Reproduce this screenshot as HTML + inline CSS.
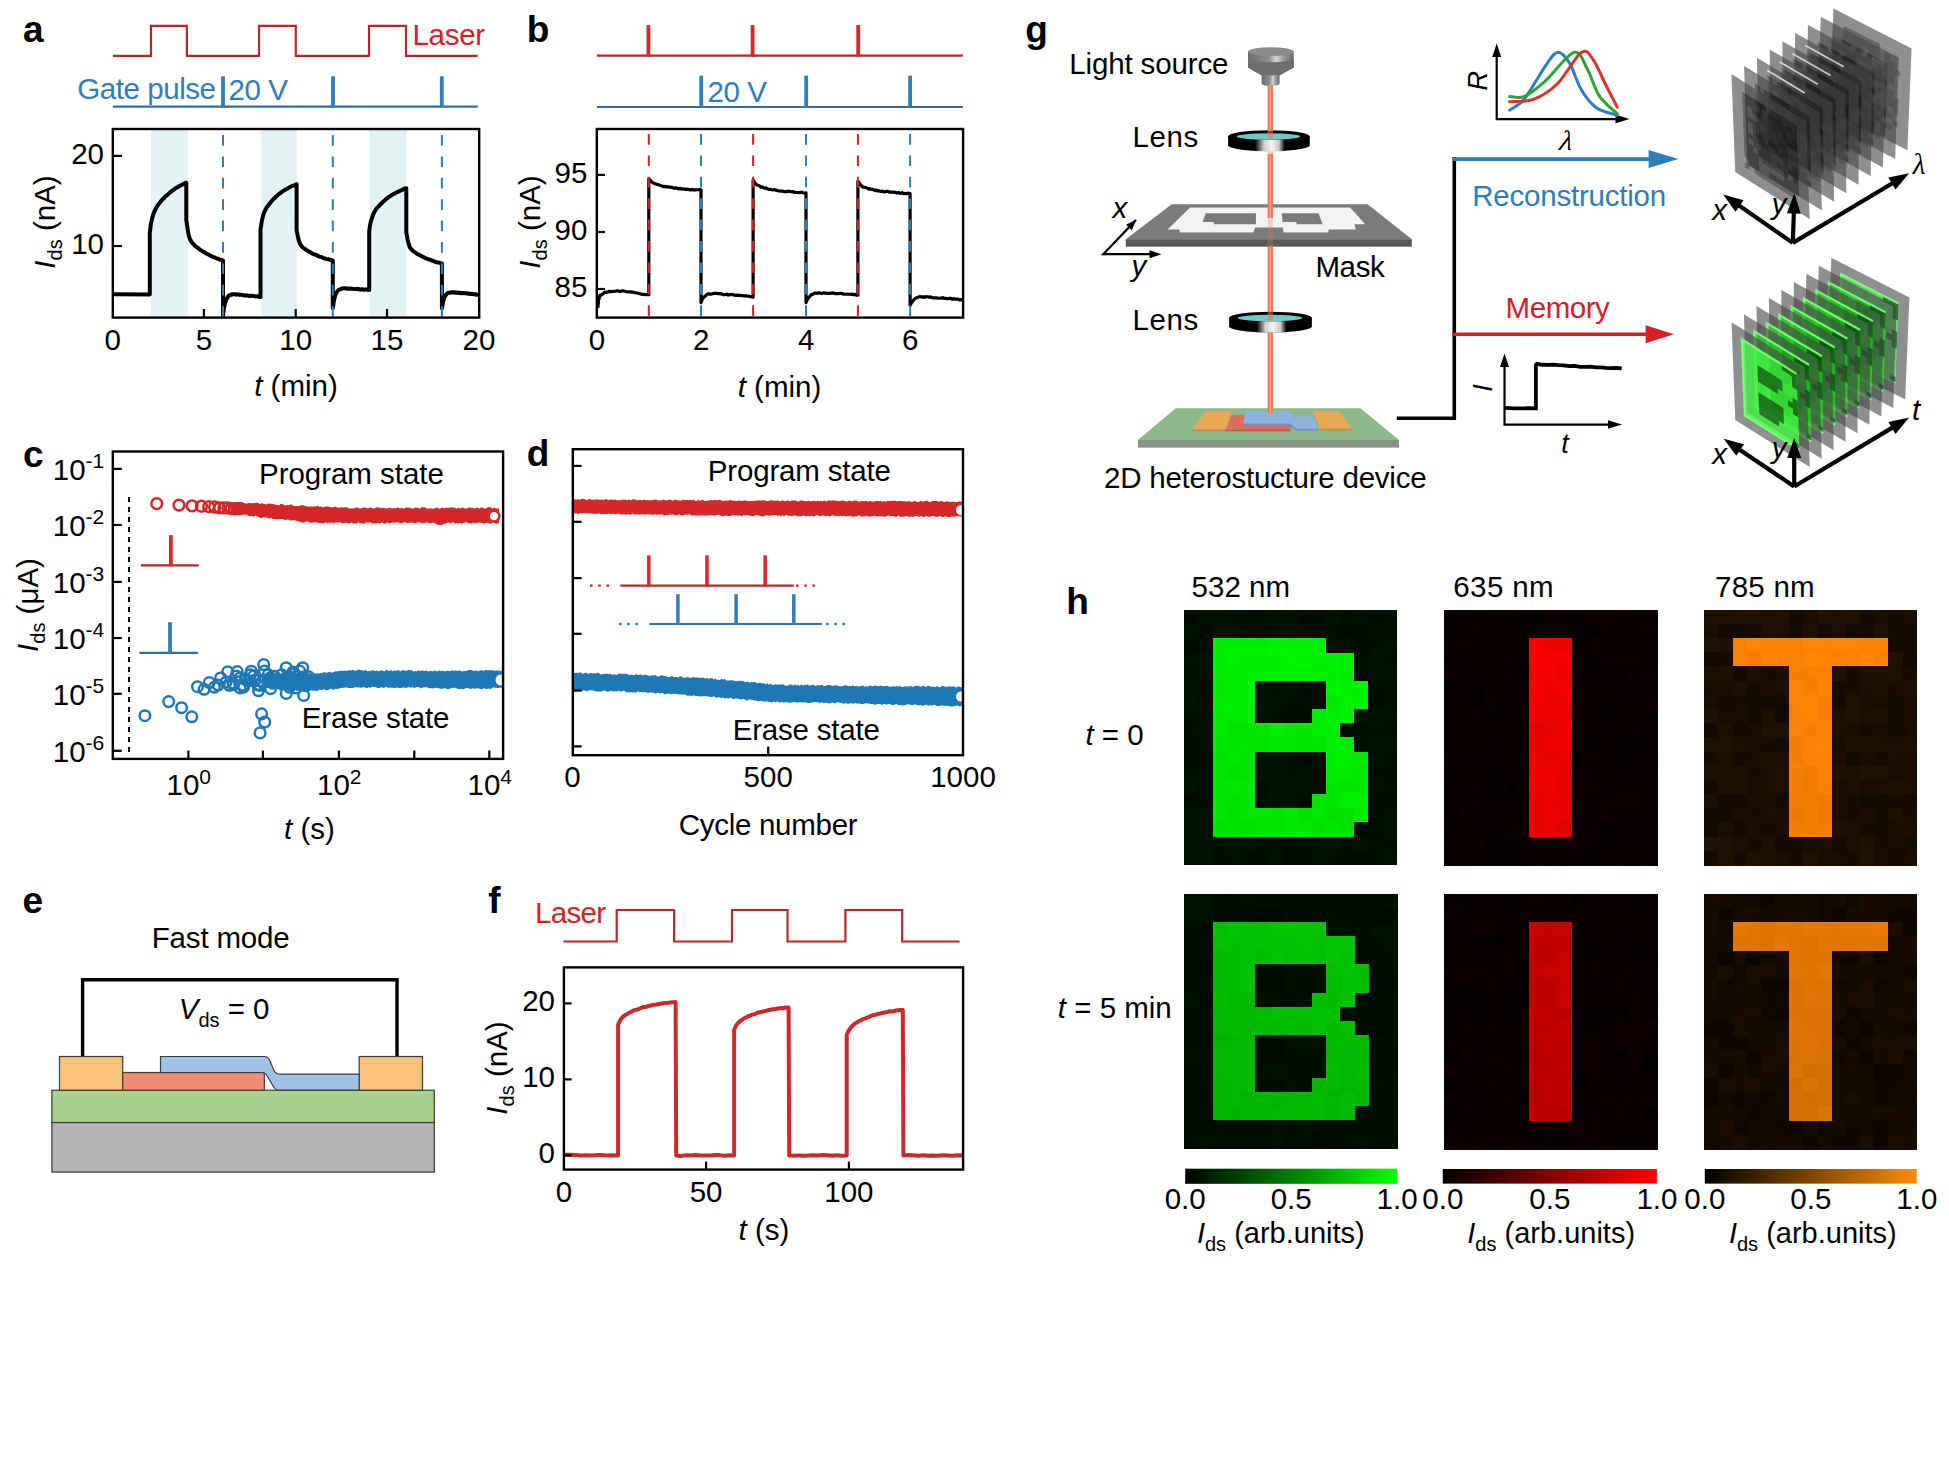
<!DOCTYPE html>
<html><head><meta charset="utf-8"><style>
html,body{margin:0;padding:0;background:#fff;}
svg{display:block;font-family:"Liberation Sans",sans-serif;}
</style></head><body>
<svg width="1949" height="1472" viewBox="0 0 1949 1472">
<rect width="1949" height="1472" fill="#fff"/>
<defs>
<linearGradient id="metal" x1="0" x2="1" y1="0" y2="0"><stop offset="0" stop-color="#6a6a6a"/><stop offset="0.45" stop-color="#8e8e8e"/><stop offset="0.62" stop-color="#d6d6d6"/><stop offset="0.78" stop-color="#9a9a9a"/><stop offset="1" stop-color="#6c6c6c"/></linearGradient>
<linearGradient id="lensHi" x1="0" x2="1" y1="0" y2="0"><stop offset="0" stop-color="#000"/><stop offset="0.3" stop-color="#cfcfcf"/><stop offset="0.55" stop-color="#f4f4f4"/><stop offset="0.8" stop-color="#c8c8c8"/><stop offset="1" stop-color="#000"/></linearGradient>
<linearGradient id="devside" x1="0" x2="0" y1="0" y2="1"><stop offset="0" stop-color="#7C9C7A"/><stop offset="1" stop-color="#8E8E8E"/></linearGradient>
<linearGradient id="cbG" x1="0" x2="1"><stop offset="0" stop-color="#000"/><stop offset="1" stop-color="#00FF00"/></linearGradient>
<linearGradient id="cbR" x1="0" x2="1"><stop offset="0" stop-color="#000"/><stop offset="1" stop-color="#FF0000"/></linearGradient>
<linearGradient id="cbO" x1="0" x2="1"><stop offset="0" stop-color="#000"/><stop offset="1" stop-color="#FF8C00"/></linearGradient>
</defs>
<text x="22.92" y="41.8" font-size="37" fill="#000" font-weight="bold">a</text>
<path d="M112.9 55.8 L151 55.8 L151 25.9 L186.9 25.9 L186.9 55.8 L259 55.8 L259 25.9 L295.8 25.9 L295.8 55.8 L369 55.8 L369 25.9 L406 25.9 L406 55.8 L477.7 55.8" fill="none" stroke="#AE2A2F" stroke-width="2.2" stroke-linejoin="miter"/>
<text x="412.4" y="44.9" font-size="29.5" fill="#D42027" textLength="72.7" lengthAdjust="spacing">Laser</text>
<path d="M112.9 106.7 L477.7 106.7" stroke="#306FA6" stroke-width="2.2"/>
<path d="M223 76.3 L223 107.8" stroke="#2F7DB9" stroke-width="3.8"/>
<path d="M333 76.3 L333 107.8" stroke="#2F7DB9" stroke-width="3.8"/>
<path d="M441.8 76.3 L441.8 107.8" stroke="#2F7DB9" stroke-width="3.8"/>
<text x="77.2" y="98.8" font-size="29.5" fill="#2F7DB9" textLength="138.8" lengthAdjust="spacing">Gate pulse</text>
<text x="228.5" y="99.9" font-size="29.5" fill="#2F7DB9" textLength="59.5" lengthAdjust="spacing">20 V</text>
<rect x="151.1" y="130.2" width="36.6" height="186.2" fill="#E1F3F3"/>
<rect x="261.2" y="130.2" width="35.6" height="186.2" fill="#E1F3F3"/>
<rect x="369.6" y="130.2" width="36.7" height="186.2" fill="#E1F3F3"/>
<path d="M113.5 294.3 L149.8 294.6 L149.8 294.6 L149.8 232.7 L150.81 224.8 L151.83 219.37 L152.84 215.78 L153.86 212.58 L154.87 210.49 L155.88 208.46 L156.9 206.61 L157.91 205.3 L158.93 203.66 L159.94 202.55 L160.95 201.13 L161.97 199.96 L162.98 199.01 L163.99 198.14 L165.01 196.76 L166.02 195.83 L167.04 195.09 L168.05 194.34 L169.06 193.29 L170.08 192.36 L171.09 191.85 L172.11 190.62 L173.12 190.29 L174.13 189.29 L175.15 188.54 L176.16 187.87 L177.18 187.34 L178.19 186.99 L179.2 186.1 L180.22 185.74 L181.23 185.24 L182.24 184.59 L183.26 184.19 L184.27 183.47 L185.29 183.02 L186.3 182.8 L186.3 219.9 L187.71 229.57 L188.72 235.33 L189.73 238.5 L190.73 240.6 L191.74 242.29 L192.75 243.45 L193.76 244.43 L194.77 245.61 L195.78 246.44 L196.78 247.04 L197.79 247.99 L198.8 248.71 L199.81 249.61 L200.82 250.24 L201.83 250.69 L202.83 251.68 L203.84 251.87 L204.85 252.63 L205.86 253.38 L206.87 253.63 L207.88 254.34 L208.88 254.64 L209.89 255.46 L210.9 255.99 L211.91 256.36 L212.92 256.97 L213.93 257.12 L214.93 257.73 L215.94 258.09 L216.95 258.47 L217.96 258.78 L218.97 259.34 L219.97 259.74 L220.98 259.85 L221.99 260.27 L223 260.5 L223 315.4 L223.94 308.23 L224.88 303.9 L225.81 300.65 L226.75 298.68 L227.69 297.12 L228.62 295.82 L229.56 295.24 L230.5 295 L231.44 294.36 L232.38 294.48 L233.31 294.24 L234.25 294.19 L235.19 294.17 L236.12 294.64 L237.06 294.32 L238 294.46 L238.94 294.63 L239.88 295 L240.81 294.62 L241.75 294.93 L242.69 295.09 L243.62 295.38 L244.56 295.44 L245.5 295.56 L246.44 295.31 L247.38 295.49 L248.31 295.55 L249.25 295.96 L250.19 296.1 L251.12 295.72 L252.06 295.83 L253 295.96 L253.94 296.06 L254.88 296.31 L255.81 296.47 L256.75 296.37 L257.69 296.31 L258.62 296.66 L259.56 296.72 L260.5 296.94 L260.5 296.9 L260.5 229.8 L261.5 222.93 L262.51 217.92 L263.51 214.32 L264.51 211.71 L265.51 209.61 L266.52 207.52 L267.52 206.39 L268.52 204.93 L269.52 203.7 L270.53 202.46 L271.53 201.13 L272.53 200.06 L273.54 198.89 L274.54 198.17 L275.54 196.95 L276.54 196.05 L277.55 195.26 L278.55 194.41 L279.55 193.71 L280.56 192.8 L281.56 192.04 L282.56 191.41 L283.56 190.71 L284.57 190.19 L285.57 189.4 L286.57 189.23 L287.58 188.52 L288.58 187.73 L289.58 187.25 L290.58 186.79 L291.59 186.31 L292.59 185.72 L293.59 185.63 L294.59 185.27 L295.6 184.58 L296.6 184.2 L296.6 229.8 L297.99 237.17 L298.99 241.15 L299.98 243.67 L300.98 245.43 L301.97 246.57 L302.97 247.79 L303.96 248.25 L304.96 248.89 L305.95 250.02 L306.94 250.42 L307.94 250.83 L308.93 251.59 L309.93 251.88 L310.92 252.65 L311.92 253.39 L312.91 253.82 L313.91 254.2 L314.9 254.44 L315.89 254.93 L316.89 255.26 L317.88 255.97 L318.88 256.24 L319.87 256.75 L320.87 256.89 L321.86 257.19 L322.86 257.83 L323.85 258.24 L324.84 258.5 L325.84 258.78 L326.83 259.08 L327.83 259.33 L328.82 259.35 L329.82 259.76 L330.81 259.94 L331.81 260.02 L332.8 260.5 L332.8 308.3 L333.71 301.73 L334.62 297.53 L335.53 294.51 L336.44 292.7 L337.35 291.43 L338.26 290.16 L339.17 289.79 L340.08 289.38 L340.99 289.08 L341.9 288.54 L342.81 288.34 L343.72 288.29 L344.63 288.25 L345.54 288.25 L346.45 288.53 L347.36 288.72 L348.27 288.72 L349.18 288.55 L350.09 288.7 L351 288.84 L351.91 288.47 L352.82 288.87 L353.73 289.07 L354.64 289.05 L355.55 289.09 L356.46 288.98 L357.37 288.86 L358.28 289.28 L359.19 289.07 L360.1 289.41 L361.01 289.57 L361.92 289.28 L362.83 289.34 L363.74 289.72 L364.65 289.65 L365.56 289.37 L366.47 289.4 L367.38 289.48 L368.29 289.99 L369.2 289.98 L369.2 289.8 L369.2 231.3 L370.23 224.32 L371.26 220.03 L372.29 216.79 L373.32 214.13 L374.35 211.98 L375.38 210.4 L376.41 208.72 L377.44 207.34 L378.48 206.61 L379.51 205.31 L380.54 204.18 L381.57 203.36 L382.6 202.14 L383.63 201.43 L384.66 200.52 L385.69 199.37 L386.72 198.57 L387.75 197.81 L388.78 197.04 L389.81 196.49 L390.84 195.64 L391.87 195.06 L392.9 194.28 L393.93 194.06 L394.96 193.19 L395.99 192.68 L397.02 192.21 L398.06 191.85 L399.09 191.11 L400.12 190.89 L401.15 190.22 L402.18 189.8 L403.21 189.37 L404.24 188.72 L405.27 188.54 L406.3 188.2 L406.3 232.7 L407.68 239.86 L408.66 243.95 L409.63 246.88 L410.61 248.23 L411.59 249.57 L412.57 250.63 L413.54 251.35 L414.52 251.94 L415.5 252.7 L416.48 253.33 L417.46 254.04 L418.43 254.26 L419.41 255.03 L420.39 255.4 L421.37 255.92 L422.34 256.65 L423.32 256.99 L424.3 257.47 L425.28 258.01 L426.26 258.51 L427.23 258.68 L428.21 259.16 L429.19 259.49 L430.17 259.86 L431.14 260.31 L432.12 260.53 L433.1 260.9 L434.08 261.19 L435.06 261.73 L436.03 261.91 L437.01 262.29 L437.99 262.6 L438.97 262.53 L439.94 262.94 L440.92 263.38 L441.9 263.4 L441.9 308.3 L442.81 303.32 L443.72 299.32 L444.63 296.86 L445.54 295.37 L446.45 294.01 L447.36 293.35 L448.27 292.74 L449.18 292.78 L450.09 292.66 L451 292.62 L451.91 292.13 L452.82 292.46 L453.73 292.45 L454.64 292.19 L455.55 292.69 L456.46 292.81 L457.37 292.44 L458.28 292.96 L459.19 292.71 L460.1 292.85 L461.01 293.24 L461.92 293.24 L462.83 292.93 L463.74 293.18 L464.65 293.32 L465.56 293.31 L466.47 293.32 L467.38 293.48 L468.29 293.82 L469.2 293.49 L470.11 293.9 L471.02 293.92 L471.93 293.76 L472.84 294.04 L473.75 294.31 L474.66 294.34 L475.57 294.16 L476.48 294.81 L477.39 294.78 L478.3 294.98" fill="none" stroke="#000" stroke-width="4" stroke-linejoin="round"/>
<path d="M223 135 L223 317" stroke="#2F7DB9" stroke-width="2" stroke-dasharray="10.7 10.7"/>
<path d="M332.8 135 L332.8 317" stroke="#2F7DB9" stroke-width="2" stroke-dasharray="10.7 10.7"/>
<path d="M441.9 135 L441.9 317" stroke="#2F7DB9" stroke-width="2" stroke-dasharray="10.7 10.7"/>
<rect x="112.8" y="129" width="366.4" height="188.6" fill="none" stroke="#000" stroke-width="2.4"/>
<path d="M112.8 155.9 L121.9 155.9" stroke="#000" stroke-width="2.2"/>
<text x="104" y="163.9" font-size="29.5" fill="#000" text-anchor="end">20</text>
<path d="M112.8 246 L121.9 246" stroke="#000" stroke-width="2.2"/>
<text x="104" y="254" font-size="29.5" fill="#000" text-anchor="end">10</text>
<text x="112.8" y="349.6" font-size="29.5" fill="#000" text-anchor="middle">0</text>
<path d="M203.9 317.6 L203.9 309" stroke="#000" stroke-width="2.2"/>
<text x="203.9" y="349.6" font-size="29.5" fill="#000" text-anchor="middle">5</text>
<path d="M295.7 317.6 L295.7 309" stroke="#000" stroke-width="2.2"/>
<text x="295.7" y="349.6" font-size="29.5" fill="#000" text-anchor="middle">10</text>
<path d="M387 317.6 L387 309" stroke="#000" stroke-width="2.2"/>
<text x="387" y="349.6" font-size="29.5" fill="#000" text-anchor="middle">15</text>
<text x="479" y="349.6" font-size="29.5" fill="#000" text-anchor="middle">20</text>
<text x="296" y="396" font-size="29.5" text-anchor="middle"><tspan font-style="italic">t</tspan> (min)</text>
<g transform="translate(54.5 222) rotate(-90)">
<text x="0" y="0" font-size="29.5" text-anchor="middle"><tspan font-style="italic">I</tspan><tspan font-size="20" dy="7">ds</tspan><tspan dy="-7"> (nA)</tspan></text>
</g>
<text x="526.86" y="41.5" font-size="37" fill="#000" font-weight="bold">b</text>
<path d="M597 55.7 L962.9 55.7" stroke="#AE2A2F" stroke-width="2.2"/>
<path d="M648.4 25.1 L648.4 56.8" stroke="#CF2A30" stroke-width="3.8"/>
<path d="M752.6 25.1 L752.6 56.8" stroke="#CF2A30" stroke-width="3.8"/>
<path d="M858.2 25.1 L858.2 56.8" stroke="#CF2A30" stroke-width="3.8"/>
<path d="M597 107 L962.9 107" stroke="#306FA6" stroke-width="2.2"/>
<path d="M701.2 75.6 L701.2 108" stroke="#2F7DB9" stroke-width="3.8"/>
<path d="M806.2 75.6 L806.2 108" stroke="#2F7DB9" stroke-width="3.8"/>
<path d="M910.1 75.6 L910.1 108" stroke="#2F7DB9" stroke-width="3.8"/>
<text x="707.5" y="102.2" font-size="29.5" fill="#2F7DB9" textLength="59.5" lengthAdjust="spacing">20 V</text>
<path d="M597.8 307.9 L597.96 306.41 L598.12 304.52 L598.28 303.6 L598.44 301.43 L598.6 299.63 L598.88 299.02 L599.16 298.61 L599.44 297.62 L599.72 296.16 L600 295.15 L601 295.32 L602 294.37 L603 293.9 L604 292.69 L605 292.06 L606.28 292.43 L607.56 291.91 L608.84 291.29 L610.12 291.9 L611.4 291.33 L614.26 291.5 L617.12 290.78 L619.98 291.56 L622.84 290.77 L625.7 291.56 L629.96 291.85 L634.22 292.44 L638.48 293.35 L642.74 294.43 L647 294.7 L648.8 294.7 L648.8 178.5 L650.1 180.17 L651.41 181.39 L652.71 182.78 L654.02 183.26 L655.32 183.73 L656.63 184.28 L657.93 184.59 L659.24 185.1 L660.54 185.54 L661.85 185.83 L663.15 186.55 L664.46 186.34 L665.76 186.78 L667.07 186.68 L668.38 187.06 L669.68 186.92 L670.99 187.34 L672.29 187.28 L673.6 188.17 L674.9 188.14 L676.2 187.93 L677.51 188.36 L678.81 188.95 L680.12 188.25 L681.42 189.09 L682.73 188.82 L684.03 188.99 L685.34 189.43 L686.64 189.09 L687.95 189.3 L689.25 189.57 L690.56 189.95 L691.87 189.39 L693.17 189.95 L694.48 189.9 L695.78 189.9 L697.09 189.73 L698.39 189.73 L699.7 189.5 L701 190 L701 302.6 L702.3 299.32 L703.61 297.21 L704.91 296.46 L706.21 294.99 L707.51 294.24 L708.82 293.72 L710.12 294.2 L711.42 294.06 L712.72 293.78 L714.02 293.37 L715.33 293.35 L716.63 293.45 L717.93 293.68 L719.24 293.47 L720.54 293.85 L721.84 293.77 L723.14 294.58 L724.45 294.7 L725.75 294.39 L727.05 294.21 L728.35 295.05 L729.65 294.51 L730.96 294.68 L732.26 294.44 L733.56 294.95 L734.87 295.16 L736.17 295.31 L737.47 295.13 L738.77 295.56 L740.08 295.18 L741.38 295.56 L742.68 295.51 L743.98 295.94 L745.28 295.71 L746.59 295.81 L747.89 296.21 L749.19 296.27 L750.5 296.74 L751.8 296.81 L753.1 297.15 L753.1 296.9 L753.1 179.9 L754.42 182.21 L755.75 183.79 L757.07 185.08 L758.39 185.45 L759.71 186.06 L761.03 187.27 L762.36 186.91 L763.68 187.89 L765 188.17 L766.33 187.9 L767.65 189 L768.97 189.34 L770.29 189.34 L771.62 189.69 L772.94 190 L774.26 189.55 L775.58 190.14 L776.9 190.32 L778.23 190.84 L779.55 190.98 L780.87 191.17 L782.2 191.09 L783.52 191.55 L784.84 191.48 L786.16 191.63 L787.49 191.29 L788.81 191.22 L790.13 191.43 L791.45 191.77 L792.77 191.62 L794.1 192.45 L795.42 192.26 L796.74 192.42 L798.07 192.51 L799.39 192.64 L800.71 192.52 L802.03 192.11 L803.36 192.97 L804.68 192.99 L806 192.8 L806 302.6 L807.3 299.69 L808.6 297.64 L809.89 296.29 L811.19 294.66 L812.49 294.6 L813.78 293.61 L815.08 293.09 L816.38 293.06 L817.68 293.38 L818.98 292.77 L820.27 293.26 L821.57 293.49 L822.87 293.01 L824.16 292.93 L825.46 293.07 L826.76 293.32 L828.06 293.45 L829.36 293.36 L830.65 293.44 L831.95 292.94 L833.25 293.08 L834.54 293.25 L835.84 293.8 L837.14 293.43 L838.44 293.76 L839.74 293.27 L841.03 293.38 L842.33 293.66 L843.63 294.13 L844.92 294.22 L846.22 294.27 L847.52 293.95 L848.82 294.24 L850.12 294.26 L851.41 294.33 L852.71 294.05 L854.01 294.89 L855.3 294.26 L856.6 295.11 L857.9 295.14 L857.9 294.7 L857.9 181.3 L859.2 182.83 L860.51 184.71 L861.81 186.14 L863.12 187.09 L864.42 187.22 L865.73 187.56 L867.03 187.95 L868.34 189.07 L869.64 188.68 L870.95 189.36 L872.25 189.21 L873.56 189.86 L874.87 190.54 L876.17 189.95 L877.48 190.86 L878.78 190.76 L880.09 191.33 L881.39 191.34 L882.7 191.04 L884 191.87 L885.3 191.62 L886.61 191.31 L887.91 191.43 L889.22 192.06 L890.52 192.15 L891.83 192.12 L893.13 192.07 L894.44 192.39 L895.75 192.46 L897.05 193.09 L898.36 192.34 L899.66 193.18 L900.97 193.35 L902.27 192.72 L903.58 193.6 L904.88 193.46 L906.19 193.72 L907.49 193.17 L908.8 193.31 L910.1 193.5 L910.1 305.5 L911.41 302.63 L912.73 301.29 L914.04 299.52 L915.35 298.36 L916.66 297.79 L917.98 297.21 L919.29 296.72 L920.6 296.61 L921.91 297.25 L923.23 296.67 L924.54 297.33 L925.85 296.68 L927.16 296.75 L928.48 297.07 L929.79 296.83 L931.1 297.1 L932.41 297.77 L933.73 297.8 L935.04 297.82 L936.35 297.74 L937.66 298.13 L938.98 298.26 L940.29 297.97 L941.6 298.24 L942.91 297.68 L944.23 298.46 L945.54 298.29 L946.85 298.69 L948.16 298.69 L949.48 298.44 L950.79 298.3 L952.1 299.29 L953.41 298.59 L954.73 299.04 L956.04 299.02 L957.35 299.08 L958.66 299.62 L959.98 299.97 L961.29 299.36 L962.6 299.86" fill="none" stroke="#000" stroke-width="3.2" stroke-linejoin="round"/>
<path d="M648.8 134 L648.8 317" stroke="#D42027" stroke-width="2" stroke-dasharray="10.7 10.7"/>
<path d="M701 134 L701 317" stroke="#2F7DB9" stroke-width="2" stroke-dasharray="10.7 10.7"/>
<path d="M753.1 134 L753.1 317" stroke="#D42027" stroke-width="2" stroke-dasharray="10.7 10.7"/>
<path d="M806 134 L806 317" stroke="#2F7DB9" stroke-width="2" stroke-dasharray="10.7 10.7"/>
<path d="M857.9 134 L857.9 317" stroke="#D42027" stroke-width="2" stroke-dasharray="10.7 10.7"/>
<path d="M910.1 134 L910.1 317" stroke="#2F7DB9" stroke-width="2" stroke-dasharray="10.7 10.7"/>
<rect x="596.8" y="129" width="366.3" height="188.6" fill="none" stroke="#000" stroke-width="2.4"/>
<path d="M596.8 174.9 L605 174.9" stroke="#000" stroke-width="2.2"/>
<text x="587.3" y="182.9" font-size="29.5" fill="#000" text-anchor="end">95</text>
<path d="M596.8 232 L605 232" stroke="#000" stroke-width="2.2"/>
<text x="587.3" y="240" font-size="29.5" fill="#000" text-anchor="end">90</text>
<path d="M596.8 289 L605 289" stroke="#000" stroke-width="2.2"/>
<text x="587.3" y="297" font-size="29.5" fill="#000" text-anchor="end">85</text>
<text x="597" y="349.6" font-size="29.5" fill="#000" text-anchor="middle">0</text>
<text x="701.2" y="349.6" font-size="29.5" fill="#000" text-anchor="middle">2</text>
<text x="806.2" y="349.6" font-size="29.5" fill="#000" text-anchor="middle">4</text>
<text x="910.1" y="349.6" font-size="29.5" fill="#000" text-anchor="middle">6</text>
<text x="779.5" y="396.7" font-size="29.5" text-anchor="middle"><tspan font-style="italic">t</tspan> (min)</text>
<g transform="translate(539.5 222) rotate(-90)">
<text x="0" y="0" font-size="29.5" text-anchor="middle"><tspan font-style="italic">I</tspan><tspan font-size="20" dy="7">ds</tspan><tspan dy="-7"> (nA)</tspan></text>
</g>
<text x="23.05" y="466.6" font-size="37" fill="#000" font-weight="bold">c</text>
<circle cx="156.76" cy="503.63" r="5.4" fill="none" stroke="#D62728" stroke-width="2.5"/>
<circle cx="178.99" cy="505.17" r="5.4" fill="none" stroke="#D62728" stroke-width="2.5"/>
<circle cx="192.11" cy="505.82" r="5.4" fill="none" stroke="#D62728" stroke-width="2.5"/>
<circle cx="201.44" cy="506.2" r="5.4" fill="none" stroke="#D62728" stroke-width="2.5"/>
<circle cx="208.69" cy="506.63" r="5.4" fill="none" stroke="#D62728" stroke-width="2.5"/>
<circle cx="214.63" cy="507.02" r="5.4" fill="none" stroke="#D62728" stroke-width="2.5"/>
<circle cx="219.65" cy="507.88" r="5.4" fill="none" stroke="#D62728" stroke-width="2.5"/>
<circle cx="224" cy="507.82" r="5.4" fill="none" stroke="#D62728" stroke-width="2.5"/>
<circle cx="227.84" cy="507.83" r="5.4" fill="none" stroke="#D62728" stroke-width="2.5"/>
<circle cx="231.27" cy="508.58" r="5.4" fill="none" stroke="#D62728" stroke-width="2.5"/>
<circle cx="234.38" cy="508.84" r="5.4" fill="none" stroke="#D62728" stroke-width="2.5"/>
<circle cx="237.22" cy="508.57" r="5.4" fill="none" stroke="#D62728" stroke-width="2.5"/>
<circle cx="239.83" cy="508.48" r="5.4" fill="none" stroke="#D62728" stroke-width="2.5"/>
<path d="M234 502.01 L235.62 501.91 L237.25 502.37 L238.88 502.03 L240.5 502.33 L242.12 502.43 L243.75 502.99 L245.38 503.56 L247 503.4 L248.62 502.92 L250.25 502.99 L251.88 503.23 L253.5 503.05 L255.12 503.05 L256.75 502.67 L258.38 503.08 L260 504.25 L261.61 502.99 L263.23 503.68 L264.84 503.97 L266.45 504.43 L268.06 503.48 L269.68 503.66 L271.29 503.71 L272.9 504.04 L274.52 504.2 L276.13 505.1 L277.74 505.02 L279.35 505.14 L280.97 503.87 L282.58 503.97 L284.19 505.14 L285.81 505.53 L287.42 504.94 L289.03 505.21 L290.65 504.36 L292.26 505.07 L293.87 506.01 L295.48 505.94 L297.1 506.07 L298.71 506.35 L300.32 505.27 L301.94 505.14 L303.55 505.3 L305.16 505.97 L306.77 506.32 L308.39 506.82 L310 506.55 L311.6 506.51 L313.2 506.77 L314.8 506.35 L316.4 506.57 L318 505.82 L319.6 507.08 L321.2 506.28 L322.8 507.45 L324.4 507.08 L326 506.61 L327.6 506.4 L329.2 506.67 L330.8 507.35 L332.4 507.53 L334 506.66 L335.6 506.66 L337.2 507.46 L338.8 507.63 L340.4 507.39 L342 507.2 L343.6 507.87 L345.2 507 L346.8 507.54 L348.4 507.87 L350 508.73 L351.61 508.23 L353.23 508.61 L354.84 507.96 L356.45 507.58 L358.06 507.6 L359.68 508.74 L361.29 508.33 L362.9 507.69 L364.52 507.23 L366.13 508 L367.74 508.28 L369.35 507.87 L370.97 507.61 L372.58 508.27 L374.19 508.68 L375.81 507.56 L377.42 507.25 L379.03 507.74 L380.65 507.87 L382.26 508.29 L383.87 507.52 L385.48 508.48 L387.1 508.38 L388.71 508.01 L390.32 507.53 L391.94 508.75 L393.55 507.7 L395.16 508.51 L396.77 507.57 L398.39 507.55 L400 508.42 L401.62 507.67 L403.25 508.72 L404.87 507.99 L406.49 507.5 L408.11 507.56 L409.74 507.87 L411.36 508.26 L412.98 508.72 L414.61 507.43 L416.23 507.83 L417.85 507.54 L419.48 508.76 L421.1 507.43 L422.72 507.28 L424.34 507.3 L425.97 507.83 L427.59 508.64 L429.21 508.61 L430.84 508.37 L432.46 508.8 L434.08 508.69 L435.7 507.73 L437.33 507.5 L438.95 508.7 L440.57 508.39 L442.2 507.25 L443.82 508.26 L445.44 507.81 L447.07 507.8 L448.69 507.73 L450.31 507.47 L451.93 507.2 L453.56 507.65 L455.18 507.76 L456.8 508.73 L458.43 507.4 L460.05 508.74 L461.67 507.53 L463.3 507.77 L464.92 508.51 L466.54 508.52 L468.16 507.89 L469.79 507.28 L471.41 507.96 L473.03 507.8 L474.66 508.67 L476.28 507.51 L477.9 507.78 L479.52 508.64 L481.15 507.25 L482.77 507.86 L484.39 508.5 L486.02 508.43 L487.64 507.27 L489.26 507.26 L490.89 507.3 L492.51 508.67 L494.13 507.61 L495.75 508.4 L497.38 508.64 L499 508 L499 523.1 L497.38 523.86 L495.75 523.81 L494.13 522.5 L492.51 522.61 L490.89 523.84 L489.26 523.58 L487.64 523.07 L486.02 522.46 L484.39 523.77 L482.77 523.12 L481.15 522.74 L479.52 522.51 L477.9 523.09 L476.28 522.87 L474.66 523.27 L473.03 522.42 L471.41 523.73 L469.79 523.3 L468.16 523.15 L466.54 522.29 L464.92 522.53 L463.3 523 L461.67 523.67 L460.05 522.91 L458.43 523.57 L456.8 522.94 L455.18 523.7 L453.56 522.26 L451.93 522.58 L450.31 523.42 L448.69 522.56 L447.07 522.83 L445.44 523.84 L443.82 523.63 L442.2 522.91 L440.57 522.81 L438.95 523.15 L437.33 522.74 L435.7 523.76 L434.08 522.73 L432.46 522.69 L430.84 522.89 L429.21 523.34 L427.59 522.49 L425.97 522.37 L424.34 523.25 L422.72 523.1 L421.1 522.85 L419.48 522.38 L417.85 522.32 L416.23 523.09 L414.61 523.49 L412.98 522.54 L411.36 522.71 L409.74 522.51 L408.11 523.29 L406.49 522.73 L404.87 522.22 L403.25 522.53 L401.62 523.24 L400 523.16 L398.39 522.61 L396.77 522.53 L395.16 522.43 L393.55 522.79 L391.94 522.55 L390.32 523.19 L388.71 523.15 L387.1 522.37 L385.48 523.71 L383.87 523.44 L382.26 522.62 L380.65 522.92 L379.03 523.59 L377.42 522.8 L375.81 523.69 L374.19 523.13 L372.58 523.76 L370.97 522.5 L369.35 522.39 L367.74 522.67 L366.13 522.26 L364.52 523.66 L362.9 523.54 L361.29 523.51 L359.68 522.96 L358.06 522.36 L356.45 523.79 L354.84 523.25 L353.23 523.49 L351.61 522.57 L350 523.01 L348.4 523.77 L346.8 522.8 L345.2 522.67 L343.6 523.06 L342 523.53 L340.4 522.35 L338.8 522.48 L337.2 522.47 L335.6 522.37 L334 523.22 L332.4 522.62 L330.8 522.92 L329.2 522.46 L327.6 523.32 L326 522.15 L324.4 523.01 L322.8 523.28 L321.2 523.11 L319.6 522.97 L318 522.87 L316.4 522.53 L314.8 522.22 L313.2 522.55 L311.6 522.95 L310 522.6 L308.39 521.77 L306.77 521.57 L305.16 521.68 L303.55 522.66 L301.94 522.31 L300.32 522.28 L298.71 521.06 L297.1 521.24 L295.48 520.23 L293.87 520.1 L292.26 520.21 L290.65 520.84 L289.03 519.77 L287.42 519.4 L285.81 520.34 L284.19 519.49 L282.58 519.24 L280.97 519.07 L279.35 519.34 L277.74 519.42 L276.13 519.32 L274.52 519.01 L272.9 518.93 L271.29 517.76 L269.68 518.77 L268.06 517.89 L266.45 517.61 L264.84 517.14 L263.23 517.18 L261.61 517.91 L260 517.73 L258.38 516.74 L256.75 516.14 L255.12 515.58 L253.5 516.83 L251.88 516.12 L250.25 516.35 L248.62 515.88 L247 514.46 L245.38 514.67 L243.75 514.52 L242.12 514.94 L240.5 513.99 L238.88 514.34 L237.25 514.67 L235.62 513.35 L234 513.24 Z" fill="#D62728"/>
<circle cx="440" cy="518.5" r="5.4" fill="none" stroke="#D62728" stroke-width="2.5"/>
<circle cx="494" cy="516.1" r="5.4" fill="#fff" stroke="#D62728" stroke-width="2.5"/>
<circle cx="144.9" cy="715.7" r="5.3" fill="none" stroke="#1F77B4" stroke-width="2.5"/>
<circle cx="168.7" cy="701.6" r="5.3" fill="none" stroke="#1F77B4" stroke-width="2.5"/>
<circle cx="181.6" cy="707.7" r="5.3" fill="none" stroke="#1F77B4" stroke-width="2.5"/>
<circle cx="191.8" cy="716.8" r="5.3" fill="none" stroke="#1F77B4" stroke-width="2.5"/>
<circle cx="197.5" cy="686.7" r="5.3" fill="none" stroke="#1F77B4" stroke-width="2.5"/>
<circle cx="204.1" cy="689.3" r="5.3" fill="none" stroke="#1F77B4" stroke-width="2.5"/>
<circle cx="209.3" cy="682.6" r="5.3" fill="none" stroke="#1F77B4" stroke-width="2.5"/>
<circle cx="214.4" cy="687.2" r="5.3" fill="none" stroke="#1F77B4" stroke-width="2.5"/>
<circle cx="220.6" cy="678" r="5.3" fill="none" stroke="#1F77B4" stroke-width="2.5"/>
<circle cx="218" cy="685" r="5.3" fill="none" stroke="#1F77B4" stroke-width="2.5"/>
<circle cx="227.7" cy="671.8" r="5.3" fill="none" stroke="#1F77B4" stroke-width="2.5"/>
<circle cx="232.9" cy="683.1" r="5.3" fill="none" stroke="#1F77B4" stroke-width="2.5"/>
<circle cx="236" cy="676" r="5.3" fill="none" stroke="#1F77B4" stroke-width="2.5"/>
<circle cx="250.3" cy="674.9" r="5.3" fill="none" stroke="#1F77B4" stroke-width="2.5"/>
<circle cx="243.1" cy="685.2" r="5.3" fill="none" stroke="#1F77B4" stroke-width="2.5"/>
<circle cx="263.7" cy="664.6" r="5.3" fill="none" stroke="#1F77B4" stroke-width="2.5"/>
<circle cx="258.5" cy="690.8" r="5.3" fill="none" stroke="#1F77B4" stroke-width="2.5"/>
<circle cx="261.6" cy="713.9" r="5.3" fill="none" stroke="#1F77B4" stroke-width="2.5"/>
<circle cx="264.7" cy="722.1" r="5.3" fill="none" stroke="#1F77B4" stroke-width="2.5"/>
<circle cx="260.1" cy="732.9" r="5.3" fill="none" stroke="#1F77B4" stroke-width="2.5"/>
<circle cx="286.2" cy="667.7" r="5.3" fill="none" stroke="#1F77B4" stroke-width="2.5"/>
<circle cx="302.7" cy="667.7" r="5.3" fill="none" stroke="#1F77B4" stroke-width="2.5"/>
<circle cx="286.2" cy="693.4" r="5.3" fill="none" stroke="#1F77B4" stroke-width="2.5"/>
<circle cx="303.7" cy="695.4" r="5.3" fill="none" stroke="#1F77B4" stroke-width="2.5"/>
<circle cx="270" cy="678" r="5.3" fill="none" stroke="#1F77B4" stroke-width="2.5"/>
<circle cx="278" cy="682" r="5.3" fill="none" stroke="#1F77B4" stroke-width="2.5"/>
<circle cx="293" cy="672" r="5.3" fill="none" stroke="#1F77B4" stroke-width="2.5"/>
<circle cx="296" cy="688" r="5.3" fill="none" stroke="#1F77B4" stroke-width="2.5"/>
<circle cx="255" cy="680" r="5.3" fill="none" stroke="#1F77B4" stroke-width="2.5"/>
<circle cx="240" cy="678" r="5.3" fill="none" stroke="#1F77B4" stroke-width="2.5"/>
<circle cx="226" cy="682.21" r="5.3" fill="none" stroke="#1F77B4" stroke-width="2.5"/>
<circle cx="229.48" cy="685.31" r="5.3" fill="none" stroke="#1F77B4" stroke-width="2.5"/>
<circle cx="233.37" cy="684.32" r="5.3" fill="none" stroke="#1F77B4" stroke-width="2.5"/>
<circle cx="237.21" cy="671.52" r="5.3" fill="none" stroke="#1F77B4" stroke-width="2.5"/>
<circle cx="240.14" cy="687.98" r="5.3" fill="none" stroke="#1F77B4" stroke-width="2.5"/>
<circle cx="243.44" cy="687.22" r="5.3" fill="none" stroke="#1F77B4" stroke-width="2.5"/>
<circle cx="245.67" cy="679.44" r="5.3" fill="none" stroke="#1F77B4" stroke-width="2.5"/>
<circle cx="248.16" cy="680.79" r="5.3" fill="none" stroke="#1F77B4" stroke-width="2.5"/>
<circle cx="251.31" cy="671.24" r="5.3" fill="none" stroke="#1F77B4" stroke-width="2.5"/>
<circle cx="253.74" cy="676.03" r="5.3" fill="none" stroke="#1F77B4" stroke-width="2.5"/>
<circle cx="257.58" cy="684.78" r="5.3" fill="none" stroke="#1F77B4" stroke-width="2.5"/>
<circle cx="259.9" cy="685.35" r="5.3" fill="none" stroke="#1F77B4" stroke-width="2.5"/>
<circle cx="262.17" cy="682.11" r="5.3" fill="none" stroke="#1F77B4" stroke-width="2.5"/>
<circle cx="264.43" cy="671.03" r="5.3" fill="none" stroke="#1F77B4" stroke-width="2.5"/>
<circle cx="268.17" cy="674.77" r="5.3" fill="none" stroke="#1F77B4" stroke-width="2.5"/>
<circle cx="270.6" cy="688.68" r="5.3" fill="none" stroke="#1F77B4" stroke-width="2.5"/>
<circle cx="274.34" cy="676.21" r="5.3" fill="none" stroke="#1F77B4" stroke-width="2.5"/>
<circle cx="278.27" cy="680.71" r="5.3" fill="none" stroke="#1F77B4" stroke-width="2.5"/>
<circle cx="281.62" cy="674.69" r="5.3" fill="none" stroke="#1F77B4" stroke-width="2.5"/>
<circle cx="285.51" cy="683.43" r="5.3" fill="none" stroke="#1F77B4" stroke-width="2.5"/>
<circle cx="289.44" cy="687.09" r="5.3" fill="none" stroke="#1F77B4" stroke-width="2.5"/>
<circle cx="292.04" cy="677.5" r="5.3" fill="none" stroke="#1F77B4" stroke-width="2.5"/>
<circle cx="294.37" cy="673.62" r="5.3" fill="none" stroke="#1F77B4" stroke-width="2.5"/>
<circle cx="296.5" cy="676.42" r="5.3" fill="none" stroke="#1F77B4" stroke-width="2.5"/>
<circle cx="299.7" cy="671.06" r="5.3" fill="none" stroke="#1F77B4" stroke-width="2.5"/>
<circle cx="303.06" cy="677.08" r="5.3" fill="none" stroke="#1F77B4" stroke-width="2.5"/>
<circle cx="305.68" cy="685.73" r="5.3" fill="none" stroke="#1F77B4" stroke-width="2.5"/>
<circle cx="308.64" cy="676.68" r="5.3" fill="none" stroke="#1F77B4" stroke-width="2.5"/>
<circle cx="311.6" cy="683.68" r="5.3" fill="none" stroke="#1F77B4" stroke-width="2.5"/>
<path d="M262 673.97 L263.64 673.19 L265.27 674.5 L266.91 673.55 L268.55 674.28 L270.18 673.74 L271.82 673.97 L273.45 672.82 L275.09 673.73 L276.73 672.74 L278.36 672.94 L280 673.55 L281.67 673.53 L283.33 672.49 L285 672.55 L286.67 672.84 L288.33 673.03 L290 672.81 L291.67 672.4 L293.33 672.6 L295 673.36 L296.67 673.64 L298.33 672.27 L300 673.1 L301.6 673.45 L303.2 672.34 L304.8 673.66 L306.4 672.55 L308 673.36 L309.6 673.32 L311.2 673.48 L312.8 673.01 L314.4 673.23 L316 673.53 L317.65 673.14 L319.3 673.38 L320.96 672.9 L322.61 672.74 L324.26 671.94 L325.91 672.76 L327.57 672.41 L329.22 671.86 L330.87 672.57 L332.52 672.46 L334.17 671.8 L335.83 671.22 L337.48 671.55 L339.13 670.82 L340.78 670.72 L342.43 671.06 L344.09 670.38 L345.74 670.8 L347.39 670.77 L349.04 669.88 L350.7 670.7 L352.35 669.67 L354 670.57 L355.61 670.66 L357.22 670.25 L358.83 669.53 L360.44 670.26 L362.05 670.08 L363.66 671.01 L365.27 669.72 L366.88 670.89 L368.49 671.13 L370.1 670.72 L371.71 670.86 L373.32 669.89 L374.93 671.16 L376.54 670.39 L378.15 671.15 L379.76 671.1 L381.37 669.91 L382.98 670.92 L384.59 671.17 L386.2 669.8 L387.8 670.27 L389.41 670.93 L391.02 669.99 L392.63 671.19 L394.24 670.21 L395.85 671.09 L397.46 670.02 L399.07 670.61 L400.68 671.3 L402.29 670.17 L403.9 670.27 L405.51 670.68 L407.12 670.39 L408.73 669.96 L410.34 670.2 L411.95 670.18 L413.56 671.44 L415.17 671.04 L416.78 671.4 L418.39 670.26 L420 671.26 L421.63 670.18 L423.25 670.85 L424.88 671.01 L426.51 670.57 L428.14 671.39 L429.76 670.88 L431.39 670.91 L433.02 671.4 L434.65 670.15 L436.27 671.57 L437.9 670.99 L439.53 670.61 L441.16 671.25 L442.78 670.4 L444.41 671.56 L446.04 670.89 L447.67 670.54 L449.29 671.19 L450.92 670.67 L452.55 670.24 L454.18 671.15 L455.8 670.03 L457.43 671.27 L459.06 670.36 L460.69 670.97 L462.31 671.52 L463.94 670.88 L465.57 671.01 L467.2 670.44 L468.82 669.94 L470.45 669.99 L472.08 670.18 L473.71 670.92 L475.33 670.62 L476.96 670.75 L478.59 671.36 L480.22 670.14 L481.84 670.29 L483.47 670.97 L485.1 669.96 L486.73 669.92 L488.35 670.49 L489.98 670.09 L491.61 670.49 L493.24 670.27 L494.86 670.84 L496.49 670.85 L498.12 670.23 L499.75 670.9 L501.37 670.66 L503 670.7 L503 687.4 L501.36 687.84 L499.71 687.38 L498.07 688.18 L496.43 687.76 L494.79 687.83 L493.14 687.34 L491.5 688.39 L489.86 688.88 L488.21 688.43 L486.57 689.29 L484.93 688.37 L483.29 688.56 L481.64 689.23 L480 688.65 L478.4 688.58 L476.8 688.17 L475.2 688.78 L473.6 688.58 L472 688.37 L470.4 689.22 L468.8 688.13 L467.2 688.1 L465.6 688.37 L464 688.89 L462.4 689.17 L460.8 688.83 L459.2 689.08 L457.6 689.11 L456 687.78 L454.4 687.87 L452.8 687.99 L451.2 687.8 L449.6 689.1 L448 689.02 L446.4 688.92 L444.8 687.6 L443.2 688.89 L441.6 688.74 L440 688.71 L438.4 687.95 L436.8 688.28 L435.2 687.41 L433.6 688.45 L432 688.36 L430.4 688.22 L428.8 688.28 L427.2 687.21 L425.6 687.16 L424 687.31 L422.4 687.6 L420.8 688.5 L419.2 687.15 L417.6 687 L416 687.15 L414.4 688.35 L412.8 686.98 L411.2 687.82 L409.6 687.13 L408 687.25 L406.4 687.64 L404.8 687.86 L403.2 687.36 L401.6 688 L400 687.72 L398.36 687.94 L396.71 687.35 L395.07 688.17 L393.43 687.66 L391.79 687.71 L390.14 687.61 L388.5 688.05 L386.86 686.98 L385.21 687.13 L383.57 688.01 L381.93 687.12 L380.29 687.79 L378.64 688.11 L377 687.79 L375.36 686.98 L373.71 687.02 L372.07 686.62 L370.43 688.01 L368.79 686.95 L367.14 688.14 L365.5 687.63 L363.86 687.02 L362.21 687.44 L360.57 687.86 L358.93 687.3 L357.29 687.49 L355.64 687.03 L354 687.74 L352.35 688.09 L350.7 687.99 L349.04 688.22 L347.39 687.69 L345.74 687.36 L344.09 687.81 L342.43 687.74 L340.78 688.07 L339.13 688.58 L337.48 689.18 L335.83 688.87 L334.17 689.46 L332.52 689.76 L330.87 688.56 L329.22 689.83 L327.57 690.08 L325.91 690.39 L324.26 689.18 L322.61 689.72 L320.96 689.88 L319.3 689.8 L317.65 690.96 L316 690.83 L314.4 690.65 L312.8 690.85 L311.2 690.24 L309.6 690.19 L308 691.51 L306.4 690.92 L304.8 690.1 L303.2 691.37 L301.6 690.25 L300 690.58 L298.33 690.77 L296.67 690.88 L295 690.02 L293.33 691.31 L291.67 690.18 L290 690.87 L288.33 691.12 L286.67 690.24 L285 690.48 L283.33 689.93 L281.67 690.18 L280 690.23 L278.36 689.04 L276.73 689.26 L275.09 689.3 L273.45 689.72 L271.82 689.68 L270.18 689.13 L268.55 688.08 L266.91 687.98 L265.27 687.95 L263.64 688.88 L262 687.42 Z" fill="#1F77B4"/>
<circle cx="501" cy="679.9" r="5.5" fill="#fff"/>
<path d="M129 497 L129 753" stroke="#000" stroke-width="2" stroke-dasharray="5 5"/>
<path d="M141 565.3 L198.7 565.3" stroke="#AE2A2F" stroke-width="2.2"/>
<path d="M170.9 535.2 L170.9 566.3" stroke="#CF2A30" stroke-width="3.8"/>
<path d="M139.4 652.9 L197.8 652.9" stroke="#306FA6" stroke-width="2.2"/>
<path d="M170.0 622.2 L170.0 653.9" stroke="#2F7DB9" stroke-width="3.8"/>
<text x="259" y="484.2" font-size="29.5" fill="#000" textLength="184.9" lengthAdjust="spacing">Program state</text>
<text x="301.8" y="727.8" font-size="29.5" fill="#000" textLength="147.6" lengthAdjust="spacing">Erase state</text>
<rect x="112.8" y="451.5" width="390.3" height="307.4" fill="none" stroke="#000" stroke-width="2.4"/>
<path d="M112.8 468.9 L121.8 468.9" stroke="#000" stroke-width="2.2"/>
<text x="85.7" y="479.6" font-size="29.5" text-anchor="end">10</text>
<text x="85.6" y="468.1" font-size="21">-1</text>
<path d="M112.8 525 L121.8 525" stroke="#000" stroke-width="2.2"/>
<text x="85.7" y="535.7" font-size="29.5" text-anchor="end">10</text>
<text x="85.6" y="524.2" font-size="21">-2</text>
<path d="M112.8 581.9 L121.8 581.9" stroke="#000" stroke-width="2.2"/>
<text x="85.7" y="592.6" font-size="29.5" text-anchor="end">10</text>
<text x="85.6" y="581.1" font-size="21">-3</text>
<path d="M112.8 638 L121.8 638" stroke="#000" stroke-width="2.2"/>
<text x="85.7" y="648.7" font-size="29.5" text-anchor="end">10</text>
<text x="85.6" y="637.2" font-size="21">-4</text>
<path d="M112.8 693.8 L121.8 693.8" stroke="#000" stroke-width="2.2"/>
<text x="85.7" y="704.5" font-size="29.5" text-anchor="end">10</text>
<text x="85.6" y="693" font-size="21">-5</text>
<path d="M112.8 750.8 L121.8 750.8" stroke="#000" stroke-width="2.2"/>
<text x="85.7" y="761.5" font-size="29.5" text-anchor="end">10</text>
<text x="85.6" y="750" font-size="21">-6</text>
<path d="M188.4 758.9 L188.4 750.5" stroke="#000" stroke-width="2.2"/>
<path d="M262.9 758.9 L262.9 750.5" stroke="#000" stroke-width="2.2"/>
<path d="M338.9 758.9 L338.9 750.5" stroke="#000" stroke-width="2.2"/>
<path d="M414.3 758.9 L414.3 750.5" stroke="#000" stroke-width="2.2"/>
<path d="M489.3 758.9 L489.3 750.5" stroke="#000" stroke-width="2.2"/>
<text x="199.4" y="795.4" font-size="29.5" text-anchor="end">10</text>
<text x="199.3" y="783.9" font-size="21">0</text>
<text x="349.9" y="795.4" font-size="29.5" text-anchor="end">10</text>
<text x="349.8" y="783.9" font-size="21">2</text>
<text x="500.3" y="795.4" font-size="29.5" text-anchor="end">10</text>
<text x="500.2" y="783.9" font-size="21">4</text>
<text x="309.5" y="839" font-size="29.5" text-anchor="middle"><tspan font-style="italic">t</tspan> (s)</text>
<g transform="translate(38 605) rotate(-90)">
<text x="0" y="0" font-size="29.5" text-anchor="middle"><tspan font-style="italic">I</tspan><tspan font-size="20" dy="7">ds</tspan><tspan dy="-7"> (&#956;A)</tspan></text>
</g>
<text x="526.78" y="466.1" font-size="37" fill="#000" font-weight="bold">d</text>
<path d="M573 499.45 L574.6 499.02 L576.21 499.93 L577.81 498.86 L579.42 499.9 L581.02 499 L582.62 498.78 L584.23 499.07 L585.83 499.87 L587.44 500.18 L589.04 498.83 L590.65 499.52 L592.25 499.54 L593.85 499.98 L595.46 499.13 L597.06 499.58 L598.67 499.39 L600.27 500.08 L601.88 499.29 L603.48 500.26 L605.08 499.35 L606.69 499.26 L608.29 499.95 L609.9 499.69 L611.5 499.15 L613.1 499.9 L614.71 499.14 L616.31 500.14 L617.92 500.03 L619.52 500.16 L621.12 499.95 L622.73 499.59 L624.33 499.66 L625.94 499.66 L627.54 500.37 L629.15 499.26 L630.75 500.39 L632.35 499.2 L633.96 499.46 L635.56 499.56 L637.17 500.46 L638.77 499.91 L640.38 499.76 L641.98 500.48 L643.58 499.58 L645.19 499.91 L646.79 500.02 L648.4 500.34 L650 500.35 L651.62 500.22 L653.23 499.81 L654.85 499.79 L656.47 499.56 L658.09 500.53 L659.7 500.29 L661.32 500.41 L662.94 499.62 L664.55 500.01 L666.17 500.49 L667.79 500.23 L669.4 499.6 L671.02 500.09 L672.64 500.69 L674.26 499.79 L675.87 499.74 L677.49 499.9 L679.11 500.48 L680.72 500.68 L682.34 499.73 L683.96 499.74 L685.57 499.88 L687.19 500 L688.81 500.29 L690.43 499.79 L692.04 500.04 L693.66 499.85 L695.28 500.96 L696.89 500.63 L698.51 499.76 L700.13 500.98 L701.74 499.78 L703.36 500.19 L704.98 501.04 L706.6 500.79 L708.21 500.71 L709.83 500.3 L711.45 499.98 L713.06 500.61 L714.68 499.88 L716.3 500.03 L717.91 500.29 L719.53 499.8 L721.15 500.33 L722.77 500.89 L724.38 500.76 L726 500.5 L727.61 500.69 L729.22 500.46 L730.83 500.02 L732.44 500.67 L734.05 500.4 L735.66 500.88 L737.27 501.12 L738.88 500.45 L740.49 500.66 L742.1 500.91 L743.71 500.46 L745.32 500.2 L746.94 500.9 L748.55 501.12 L750.16 500.98 L751.77 500.88 L753.38 501.1 L754.99 500.87 L756.6 500.82 L758.21 500.57 L759.82 500.37 L761.43 500.82 L763.04 500.09 L764.65 500.54 L766.26 501.06 L767.87 500.97 L769.48 500.86 L771.09 500.33 L772.7 500.58 L774.31 500.63 L775.92 500.87 L777.53 500.58 L779.14 500.96 L780.75 501.32 L782.36 500.28 L783.97 500.95 L785.58 501.13 L787.19 500.59 L788.81 500.74 L790.42 501.42 L792.03 500.12 L793.64 500.83 L795.25 500.3 L796.86 501.18 L798.47 501.41 L800.08 500.83 L801.69 500.25 L803.3 500.92 L804.91 500.88 L806.52 501.13 L808.13 500.85 L809.74 501.03 L811.35 501.3 L812.96 500.88 L814.57 500.73 L816.18 501.49 L817.79 500.46 L819.4 501.13 L821.01 500.73 L822.62 501.26 L824.23 500.37 L825.84 501.58 L827.45 500.71 L829.06 500.29 L830.68 500.61 L832.29 500.79 L833.9 500.25 L835.51 500.83 L837.12 500.84 L838.73 501.23 L840.34 500.75 L841.95 500.64 L843.56 500.59 L845.17 501.32 L846.78 501.6 L848.39 501.03 L850 500.61 L851.61 501.43 L853.23 500.87 L854.84 500.62 L856.46 500.52 L858.07 501.43 L859.69 501.48 L861.3 501.25 L862.91 501.03 L864.53 501.16 L866.14 500.7 L867.76 501.74 L869.37 500.9 L870.99 501.31 L872.6 501.57 L874.21 501.57 L875.83 501.09 L877.44 500.86 L879.06 501.22 L880.67 500.64 L882.29 501.64 L883.9 500.98 L885.51 501.68 L887.13 500.87 L888.74 501.03 L890.36 500.87 L891.97 501.12 L893.59 500.79 L895.2 500.54 L896.81 501.56 L898.43 500.95 L900.04 500.91 L901.66 501 L903.27 501.25 L904.89 501.19 L906.5 501.49 L908.11 501.53 L909.73 501.12 L911.34 501.93 L912.96 501.83 L914.57 500.72 L916.19 501.81 L917.8 501.93 L919.41 501.77 L921.03 500.87 L922.64 501.85 L924.26 501.58 L925.87 500.72 L927.49 500.73 L929.1 502.05 L930.71 501.65 L932.33 501.09 L933.94 500.89 L935.56 500.95 L937.17 501.09 L938.79 501.86 L940.4 501.27 L942.01 501 L943.63 502.06 L945.24 501.91 L946.86 501.05 L948.47 502.07 L950.09 501.68 L951.7 501.93 L953.31 501.78 L954.93 502.11 L956.54 501.97 L958.16 502.05 L959.77 501.16 L961.39 501.86 L963 501.6 L963 516.6 L961.39 516.87 L959.77 516.14 L958.16 516.14 L956.54 516.13 L954.93 516.68 L953.31 516.52 L951.7 516.57 L950.09 517.07 L948.47 517.08 L946.86 516.63 L945.24 516.13 L943.63 516.88 L942.01 516.92 L940.4 515.9 L938.79 516.42 L937.17 516.87 L935.56 516.81 L933.94 516.1 L932.33 516.03 L930.71 516.38 L929.1 516.67 L927.49 516.56 L925.87 516.03 L924.26 517 L922.64 516.74 L921.03 515.96 L919.41 516.78 L917.8 516.44 L916.19 515.77 L914.57 516.13 L912.96 516.91 L911.34 516.58 L909.73 516.75 L908.11 516.8 L906.5 515.98 L904.89 516.39 L903.27 516.8 L901.66 516.71 L900.04 516.73 L898.43 515.62 L896.81 516.79 L895.2 516.68 L893.59 516.35 L891.97 516.11 L890.36 515.88 L888.74 515.51 L887.13 515.89 L885.51 516.62 L883.9 516.73 L882.29 516.31 L880.67 516.42 L879.06 515.98 L877.44 516.69 L875.83 516.04 L874.21 515.86 L872.6 516.26 L870.99 516.58 L869.37 516.77 L867.76 516.24 L866.14 515.85 L864.53 516.54 L862.91 516.35 L861.3 516.72 L859.69 515.44 L858.07 515.75 L856.46 516.13 L854.84 516.42 L853.23 516.64 L851.61 516.41 L850 515.84 L848.39 515.88 L846.78 516.17 L845.17 516.19 L843.56 515.79 L841.95 516.39 L840.34 515.47 L838.73 516.21 L837.12 515.87 L835.51 516.06 L833.9 515.76 L832.29 515.33 L830.68 515.92 L829.06 516.44 L827.45 515.46 L825.84 516.24 L824.23 515.65 L822.62 515.32 L821.01 516.35 L819.4 516.11 L817.79 515.22 L816.18 515.21 L814.57 516.19 L812.96 516.53 L811.35 515.53 L809.74 516.48 L808.13 515.81 L806.52 516.15 L804.91 516.03 L803.3 515.27 L801.69 516.17 L800.08 516.34 L798.47 516.13 L796.86 516.21 L795.25 515.19 L793.64 515.38 L792.03 516.14 L790.42 515.45 L788.81 516.11 L787.19 515.12 L785.58 515.27 L783.97 516.3 L782.36 515.21 L780.75 516.43 L779.14 515.24 L777.53 516.02 L775.92 515.07 L774.31 515.08 L772.7 515.26 L771.09 515.34 L769.48 515.94 L767.87 515.18 L766.26 515.61 L764.65 515.69 L763.04 516.39 L761.43 516.33 L759.82 515.84 L758.21 515.55 L756.6 515.02 L754.99 515.62 L753.38 516.27 L751.77 515.79 L750.16 516.11 L748.55 515.14 L746.94 515.02 L745.32 515.76 L743.71 515.03 L742.1 516.26 L740.49 515.85 L738.88 515.54 L737.27 515.38 L735.66 515.52 L734.05 515.35 L732.44 515.28 L730.83 515.7 L729.22 516.01 L727.61 516.06 L726 515.42 L724.38 515.79 L722.77 516.13 L721.15 515.91 L719.53 514.86 L717.91 515.04 L716.3 514.9 L714.68 515.8 L713.06 515.35 L711.45 515.62 L709.83 514.96 L708.21 515.6 L706.6 515.45 L704.98 515.57 L703.36 515.45 L701.74 515.41 L700.13 515.38 L698.51 515.78 L696.89 515.58 L695.28 515.38 L693.66 515.28 L692.04 515.7 L690.43 514.65 L688.81 514.37 L687.19 514.76 L685.57 514.38 L683.96 515.06 L682.34 515.51 L680.72 515.26 L679.11 514.28 L677.49 515.3 L675.87 515.06 L674.26 514.97 L672.64 514.55 L671.02 514.55 L669.4 514.54 L667.79 515.17 L666.17 514.95 L664.55 515.38 L662.94 514.7 L661.32 514.34 L659.7 514.65 L658.09 514.48 L656.47 515.05 L654.85 514.28 L653.23 515 L651.62 514.6 L650 514.39 L648.4 514.39 L646.79 514.05 L645.19 514.81 L643.58 514.44 L641.98 514.35 L640.38 514.18 L638.77 514.85 L637.17 514.09 L635.56 514.47 L633.96 514.58 L632.35 513.6 L630.75 514.78 L629.15 514.18 L627.54 514.19 L625.94 514.83 L624.33 513.9 L622.73 514.71 L621.12 514.34 L619.52 514.22 L617.92 513.38 L616.31 514.21 L614.71 514.19 L613.1 513.38 L611.5 514.59 L609.9 513.81 L608.29 513.73 L606.69 514.36 L605.08 514.09 L603.48 513.92 L601.88 513.77 L600.27 514.27 L598.67 513.08 L597.06 514.25 L595.46 513.78 L593.85 513.7 L592.25 513.66 L590.65 513.15 L589.04 513.58 L587.44 512.99 L585.83 513.57 L584.23 513.06 L582.62 513.17 L581.02 513.18 L579.42 513.57 L577.81 514 L576.21 513.36 L574.6 513.76 L573 513.44 Z" fill="#D62728"/>
<circle cx="961" cy="510.2" r="5" fill="#fff"/>
<path d="M573 672.68 L574.62 673.05 L576.24 672.84 L577.87 673.07 L579.49 672.53 L581.11 672.4 L582.73 673.98 L584.36 673.03 L585.98 672.64 L587.6 673.53 L589.22 673.83 L590.84 672.86 L592.47 673.62 L594.09 673.26 L595.71 673.58 L597.33 672.83 L598.96 672.9 L600.58 674.48 L602.2 674.33 L603.82 673.76 L605.44 673.94 L607.07 673.5 L608.69 674.37 L610.31 673.85 L611.93 674.73 L613.56 674.49 L615.18 674.62 L616.8 674.9 L618.42 673.81 L620.04 673.51 L621.67 673.82 L623.29 673.84 L624.91 673.73 L626.53 673.72 L628.16 674.58 L629.78 675.13 L631.4 674.51 L633.02 675.34 L634.64 675.33 L636.27 674.02 L637.89 674.92 L639.51 674.65 L641.13 674.25 L642.76 675.64 L644.38 674.56 L646 675.1 L647.61 675.32 L649.22 675.92 L650.83 675.55 L652.43 675.2 L654.04 675.39 L655.65 675.02 L657.26 676.4 L658.87 676.54 L660.48 675.4 L662.09 675.2 L663.69 675.64 L665.3 675.89 L666.91 676.86 L668.52 676.96 L670.13 676.94 L671.74 675.77 L673.34 677.05 L674.95 677.02 L676.56 677.01 L678.17 677.65 L679.78 676.26 L681.39 676.49 L683 677.56 L684.6 677.95 L686.21 677.62 L687.82 677.11 L689.43 677.67 L691.04 678.03 L692.65 677.08 L694.26 677.53 L695.86 677.51 L697.47 677.39 L699.08 678.06 L700.69 677.65 L702.3 677.86 L703.91 677.8 L705.51 678.75 L707.12 677.78 L708.73 679 L710.34 678.26 L711.95 678.1 L713.56 679.62 L715.17 678.58 L716.77 679.81 L718.38 679.8 L719.99 679.93 L721.6 678.82 L723.23 679.48 L724.87 679.08 L726.5 680.57 L728.13 680.59 L729.77 680.41 L731.4 680.29 L733.03 680.27 L734.67 681.2 L736.3 680.81 L737.93 681.21 L739.57 680.6 L741.2 680.88 L742.83 680.78 L744.47 681.99 L746.1 681.89 L747.73 681.4 L749.37 682.72 L751 681.92 L752.63 682.31 L754.27 682.06 L755.9 682.41 L757.53 683.48 L759.17 682.83 L760.8 682.72 L762.43 683.4 L764.07 683.28 L765.7 684.38 L767.33 683.28 L768.97 684.82 L770.6 683.51 L772.23 685.01 L773.87 684.81 L775.5 684.24 L777.11 684.69 L778.73 684.41 L780.34 684.39 L781.95 684.33 L783.56 684.62 L785.17 685.65 L786.79 685.69 L788.4 685.6 L790.01 684.3 L791.62 684.64 L793.24 685.64 L794.85 684.32 L796.46 685.42 L798.08 684.75 L799.69 685.88 L801.3 684.37 L802.91 685.66 L804.52 684.94 L806.14 684.65 L807.75 684.45 L809.36 685.81 L810.98 685.35 L812.59 684.83 L814.2 685.26 L815.81 686.05 L817.42 684.96 L819.04 685.56 L820.65 684.89 L822.26 684.99 L823.88 685.96 L825.49 685.89 L827.1 685.09 L828.71 684.93 L830.33 684.97 L831.94 685.84 L833.55 685.68 L835.16 685.36 L836.77 685.27 L838.39 685.95 L840 686.13 L841.62 686.31 L843.24 685.96 L844.86 685.37 L846.47 685.16 L848.09 686.24 L849.71 685.74 L851.33 686.26 L852.95 685.2 L854.57 686.43 L856.18 685.68 L857.8 686.51 L859.42 686.56 L861.04 685.98 L862.66 685.23 L864.28 686.67 L865.89 685.99 L867.51 686.64 L869.13 685.69 L870.75 685.57 L872.37 686.62 L873.99 685.89 L875.61 685.58 L877.22 685.93 L878.84 686.3 L880.46 685.37 L882.08 686.21 L883.7 686.1 L885.32 686.23 L886.93 685.61 L888.55 686.58 L890.17 686.76 L891.79 686.85 L893.41 685.99 L895.03 686.63 L896.64 686.12 L898.26 686.72 L899.88 685.63 L901.5 686.95 L903.12 687.09 L904.74 686.37 L906.36 686.41 L907.97 686.46 L909.59 686.48 L911.21 685.67 L912.83 687.2 L914.45 686.02 L916.07 685.97 L917.68 685.86 L919.3 686.11 L920.92 687.03 L922.54 685.79 L924.16 685.91 L925.78 686.89 L927.39 686.09 L929.01 685.82 L930.63 686.77 L932.25 686.75 L933.87 686.68 L935.49 686.98 L937.11 686.03 L938.72 687.27 L940.34 687.04 L941.96 685.98 L943.58 686.12 L945.2 686.73 L946.82 686.76 L948.43 686.42 L950.05 686.18 L951.67 686.65 L953.29 686.23 L954.91 686.97 L956.53 687.42 L958.14 686.29 L959.76 686.99 L961.38 687.28 L963 686.9 L963 706.3 L961.38 705.63 L959.76 706.63 L958.14 705.62 L956.53 705.52 L954.91 705.94 L953.29 706.16 L951.67 706.79 L950.05 706 L948.43 706.14 L946.82 705.49 L945.2 705.91 L943.58 705.78 L941.96 705.25 L940.34 705.96 L938.72 705.79 L937.11 706.15 L935.49 705.25 L933.87 704.72 L932.25 705.78 L930.63 705.12 L929.01 705.85 L927.39 705.2 L925.78 704.57 L924.16 705.48 L922.54 706 L920.92 704.94 L919.3 705.29 L917.68 705.29 L916.07 704.53 L914.45 704.5 L912.83 704.96 L911.21 704.93 L909.59 704.53 L907.97 704.27 L906.36 704.65 L904.74 705.36 L903.12 705.48 L901.5 705.16 L899.88 704.91 L898.26 705.19 L896.64 703.9 L895.03 704.5 L893.41 704.95 L891.79 705.15 L890.17 704.05 L888.55 703.78 L886.93 704.76 L885.32 704.26 L883.7 703.92 L882.08 704.92 L880.46 704.28 L878.84 703.95 L877.22 703.98 L875.61 704.7 L873.99 704.52 L872.37 703.99 L870.75 703.92 L869.13 703.62 L867.51 703.54 L865.89 703.05 L864.28 703.69 L862.66 703.89 L861.04 704.28 L859.42 703.28 L857.8 703.63 L856.18 703.21 L854.57 703.21 L852.95 703.64 L851.33 703.33 L849.71 703.29 L848.09 704.01 L846.47 703.24 L844.86 703.57 L843.24 703.76 L841.62 703.04 L840 703.1 L838.39 702.25 L836.77 702.17 L835.16 703.58 L833.55 702.78 L831.94 702.4 L830.33 703.58 L828.71 703.37 L827.1 703.35 L825.49 702.49 L823.88 703.42 L822.26 702.07 L820.65 702.83 L819.04 702.8 L817.42 702.08 L815.81 702.31 L814.2 702.09 L812.59 702.49 L810.98 702.55 L809.36 703.08 L807.75 702.96 L806.14 702.19 L804.52 702.27 L802.91 702.51 L801.3 702.23 L799.69 702.04 L798.08 702.71 L796.46 702.26 L794.85 702.22 L793.24 702.08 L791.62 702.42 L790.01 702.82 L788.4 702.65 L786.79 702.04 L785.17 702.27 L783.56 702.87 L781.95 702.1 L780.34 702.21 L778.73 702.48 L777.11 701.23 L775.5 702.59 L773.87 701.27 L772.23 702.4 L770.6 701.94 L768.97 701.93 L767.33 701.31 L765.7 701.63 L764.07 701.48 L762.43 701.34 L760.8 700.86 L759.17 701.21 L757.53 701.13 L755.9 700.62 L754.27 700.59 L752.63 699.94 L751 699.78 L749.37 699.36 L747.73 700.17 L746.1 700.39 L744.47 699.08 L742.83 698.77 L741.2 699.64 L739.57 699.04 L737.93 698.82 L736.3 698.17 L734.67 698.65 L733.03 699.21 L731.4 697.79 L729.77 697.81 L728.13 698.66 L726.5 697.76 L724.87 698.74 L723.23 697.49 L721.6 697.69 L719.99 697.68 L718.38 697.05 L716.77 697.93 L715.17 697 L713.56 696.34 L711.95 697.15 L710.34 696.71 L708.73 696.8 L707.12 696.22 L705.51 696.14 L703.91 696.13 L702.3 696.27 L700.69 696.39 L699.08 696.17 L697.47 695.91 L695.86 696.2 L694.26 695.27 L692.65 695.87 L691.04 695.63 L689.43 695.58 L687.82 695.83 L686.21 695.25 L684.6 694.4 L683 694.53 L681.39 694.49 L679.78 694.56 L678.17 694.27 L676.56 693.89 L674.95 693.77 L673.34 693.69 L671.74 694.19 L670.13 693.97 L668.52 693.54 L666.91 693.82 L665.3 694.41 L663.69 693.71 L662.09 692.84 L660.48 693.57 L658.87 692.91 L657.26 692.76 L655.65 693.71 L654.04 692.77 L652.43 692.79 L650.83 692.25 L649.22 692.72 L647.61 693.09 L646 692.37 L644.38 691.89 L642.76 692.49 L641.13 691.78 L639.51 692.33 L637.89 691.31 L636.27 692.62 L634.64 692.57 L633.02 692.4 L631.4 692.07 L629.78 692.51 L628.16 692.2 L626.53 692.46 L624.91 691.09 L623.29 690.85 L621.67 691.57 L620.04 691.41 L618.42 690.78 L616.8 691.47 L615.18 691.15 L613.56 691.53 L611.93 691.15 L610.31 690.82 L608.69 691.87 L607.07 691.86 L605.44 691.11 L603.82 690.31 L602.2 691.54 L600.58 691.44 L598.96 691.54 L597.33 691.32 L595.71 691.55 L594.09 690.63 L592.47 690.42 L590.84 690.22 L589.22 690.33 L587.6 690.98 L585.98 691.2 L584.36 690.28 L582.73 690.43 L581.11 690.89 L579.49 690.17 L577.87 690.07 L576.24 690.9 L574.62 690.67 L573 689.56 Z" fill="#1F77B4"/>
<circle cx="961" cy="696.6" r="5" fill="#fff"/>
<path d="M620.3 585.6 L793.8 585.6" stroke="#AE2A2F" stroke-width="2.2"/>
<path d="M648.8 555.4 L648.8 586.6" stroke="#CF2A30" stroke-width="3.5"/>
<path d="M707 555.4 L707 586.6" stroke="#CF2A30" stroke-width="3.5"/>
<path d="M765.2 555.4 L765.2 586.6" stroke="#CF2A30" stroke-width="3.5"/>
<path d="M590 585.6 L612 585.6" stroke="#D42027" stroke-width="2.4" stroke-dasharray="2.6 5.6"/>
<path d="M796 585.6 L818 585.6" stroke="#D42027" stroke-width="2.4" stroke-dasharray="2.6 5.6"/>
<path d="M649.4 624 L821.9 624" stroke="#306FA6" stroke-width="2.2"/>
<path d="M677.9 594.2 L677.9 625" stroke="#2F7DB9" stroke-width="3.5"/>
<path d="M736.1 594.2 L736.1 625" stroke="#2F7DB9" stroke-width="3.5"/>
<path d="M793.8 594.2 L793.8 625" stroke="#2F7DB9" stroke-width="3.5"/>
<path d="M619 624 L641 624" stroke="#2F7DB9" stroke-width="2.4" stroke-dasharray="2.6 5.6"/>
<path d="M826 624 L848 624" stroke="#2F7DB9" stroke-width="2.4" stroke-dasharray="2.6 5.6"/>
<text x="707.8" y="481.3" font-size="29.5" fill="#000" textLength="183.1" lengthAdjust="spacing">Program state</text>
<text x="732.7" y="739.9" font-size="29.5" fill="#000" textLength="147.3" lengthAdjust="spacing">Erase state</text>
<rect x="572.8" y="449.2" width="390.2" height="306" fill="none" stroke="#000" stroke-width="2.4"/>
<path d="M572.8 465.9 L581.6 465.9" stroke="#000" stroke-width="2.2"/>
<path d="M572.8 521.8 L581.6 521.8" stroke="#000" stroke-width="2.2"/>
<path d="M572.8 578.1 L581.6 578.1" stroke="#000" stroke-width="2.2"/>
<path d="M572.8 633.8 L581.6 633.8" stroke="#000" stroke-width="2.2"/>
<path d="M572.8 690.6 L581.6 690.6" stroke="#000" stroke-width="2.2"/>
<path d="M572.8 746.4 L581.6 746.4" stroke="#000" stroke-width="2.2"/>
<path d="M768.2 755.2 L768.2 746.6" stroke="#000" stroke-width="2.2"/>
<text x="572.5" y="786.8" font-size="29.5" fill="#000" text-anchor="middle">0</text>
<text x="768.2" y="786.8" font-size="29.5" fill="#000" text-anchor="middle">500</text>
<text x="963" y="786.8" font-size="29.5" fill="#000" text-anchor="middle">1000</text>
<text x="678.7" y="834.6" font-size="29.5" fill="#000" textLength="178.9" lengthAdjust="spacing">Cycle number</text>
<text x="22.55" y="912.6" font-size="37" fill="#000" font-weight="bold">e</text>
<text x="151.8" y="947.9" font-size="29.5" fill="#000" textLength="137.8" lengthAdjust="spacing">Fast mode</text>
<path d="M82.6 1056 L82.6 979.7 L397 979.7 L397 1056" fill="none" stroke="#000" stroke-width="3.4"/>
<text x="178.7" y="1019.2" font-size="29.5"><tspan font-style="italic">V</tspan><tspan font-size="20" dy="7.5">ds</tspan><tspan dy="-7.5"> = 0</tspan></text>
<rect x="51.9" y="1122.5" width="382.4" height="49.6" fill="#B4B4B4" stroke="#3a3a3a" stroke-width="1.2"/>
<rect x="51.9" y="1090.2" width="382.4" height="32.3" fill="#A9D18E" stroke="#3a3a3a" stroke-width="1.2"/>
<rect x="59.5" y="1056.5" width="63.2" height="33.7" fill="#F9C27A" stroke="#3a3a3a" stroke-width="1.2"/>
<rect x="359.2" y="1056.5" width="63.3" height="33.7" fill="#F9C27A" stroke="#3a3a3a" stroke-width="1.2"/>
<rect x="122.7" y="1072.5" width="141.6" height="17.7" fill="#F08A72" stroke="#3a3a3a" stroke-width="1.2"/>
<path d="M160.5 1072.5 L160.5 1056.5 L264.5 1056.5 Q268 1056.5 270 1061 L274 1070.5 Q276 1074.2 280.5 1074.2 L359.2 1074.2 L359.2 1090.2 L279 1090.2 Q275.5 1090.2 273 1086 L267.5 1076.5 Q265.5 1072.5 262 1072.5 Z" fill="#9DC3E6" stroke="#3a3a3a" stroke-width="1.2"/>
<text x="488.27" y="912.8" font-size="37" fill="#000" font-weight="bold">f</text>
<text x="535" y="923.4" font-size="29.5" fill="#D42027" textLength="71.1" lengthAdjust="spacing">Laser</text>
<path d="M563.4 941.5 L616.7 941.5 L616.7 910 L674.1 910 L674.1 941.5 L732 941.5 L732 910 L787.5 910 L787.5 941.5 L845.4 941.5 L845.4 910 L902.2 910 L902.2 941.5 L959.6 941.5" fill="none" stroke="#AE2A2F" stroke-width="2.2"/>
<path d="M565 1154.68 L570.31 1154.79 L575.62 1155.12 L580.93 1155.41 L586.24 1155.29 L591.55 1155.5 L596.86 1154.95 L602.17 1154.96 L607.48 1155.62 L612.79 1155.31 L618.1 1155.5 L618.1 1155.5 L618.1 1024.7 L619.54 1021.58 L620.98 1019.12 L622.41 1017.35 L623.85 1016.1 L625.29 1014.91 L626.73 1014.45 L628.16 1013.41 L629.6 1012.5 L631.04 1011.84 L632.48 1011.14 L633.91 1010.31 L635.35 1010.23 L636.79 1009.49 L638.23 1009.19 L639.66 1008.39 L641.1 1008.04 L642.54 1007.37 L643.98 1006.84 L645.41 1006.98 L646.85 1006.57 L648.29 1005.89 L649.73 1005.92 L651.16 1005.56 L652.6 1004.96 L654.04 1004.86 L655.48 1004.81 L656.91 1004.29 L658.35 1004.33 L659.79 1003.68 L661.23 1003.57 L662.66 1003.57 L664.1 1003.08 L665.54 1002.96 L666.98 1003.14 L668.41 1002.75 L669.85 1002.79 L671.29 1002.32 L672.73 1002.14 L674.16 1002.13 L675.6 1002.1 L676.2 1155.5 L681.03 1155.97 L685.85 1155.29 L690.68 1155.56 L695.5 1155.11 L700.33 1155.53 L705.15 1155.39 L709.98 1155.4 L714.8 1155.07 L719.62 1155.12 L724.45 1155.83 L729.27 1155.35 L734.1 1155.5 L734.1 1155.5 L734.1 1030 L735.46 1026.7 L736.83 1024.46 L738.19 1022.87 L739.55 1021.54 L740.91 1020.34 L742.27 1019.77 L743.64 1018.74 L745 1017.86 L746.36 1017.48 L747.73 1016.46 L749.09 1015.94 L750.45 1015.7 L751.81 1014.72 L753.18 1014.39 L754.54 1014.13 L755.9 1013.65 L757.26 1012.82 L758.62 1012.52 L759.99 1012.34 L761.35 1011.76 L762.71 1011.76 L764.08 1010.97 L765.44 1011.1 L766.8 1010.53 L768.16 1010.08 L769.52 1009.94 L770.89 1009.5 L772.25 1009.6 L773.61 1009.1 L774.98 1009.27 L776.34 1008.88 L777.7 1008.55 L779.06 1008.29 L780.43 1008.33 L781.79 1007.93 L783.15 1008.17 L784.51 1007.57 L785.88 1007.67 L787.24 1007.55 L788.6 1007.4 L789.2 1155.5 L793.99 1155.77 L798.78 1155.38 L803.58 1155.66 L808.37 1155.57 L813.16 1155.31 L817.95 1155.39 L822.74 1155.09 L827.53 1155.18 L832.33 1155.85 L837.12 1155.32 L841.91 1155.66 L846.7 1155.5 L846.7 1155.5 L846.7 1035.4 L848.1 1031.57 L849.5 1029.34 L850.91 1027.36 L852.31 1025.97 L853.71 1024.63 L855.12 1023.43 L856.52 1022.63 L857.92 1021.72 L859.32 1020.86 L860.73 1020.47 L862.13 1019.51 L863.53 1018.92 L864.93 1018.6 L866.34 1017.94 L867.74 1017.45 L869.14 1016.91 L870.54 1015.98 L871.95 1015.6 L873.35 1015.01 L874.75 1014.98 L876.15 1014.58 L877.55 1014.02 L878.96 1013.7 L880.36 1013.52 L881.76 1013.23 L883.16 1012.66 L884.57 1012.74 L885.97 1012.17 L887.37 1012.09 L888.77 1011.58 L890.18 1011.32 L891.58 1011.58 L892.98 1011.27 L894.38 1011.07 L895.79 1010.49 L897.19 1010.32 L898.59 1010.23 L900 1010.1 L901.4 1010.02 L902.8 1010 L903.4 1155.5 L908.28 1155.04 L913.17 1155.31 L918.05 1155.64 L922.93 1155.18 L927.82 1155.84 L932.7 1155.57 L937.58 1155.72 L942.47 1155.25 L947.35 1155.43 L952.23 1155.68 L957.12 1155.35 L962 1155.5" fill="none" stroke="#CC292E" stroke-width="4" stroke-linejoin="round"/>
<rect x="563.9" y="967.4" width="399.2" height="202.2" fill="none" stroke="#000" stroke-width="2.4"/>
<path d="M563.9 1003.4 L571.6 1003.4" stroke="#000" stroke-width="2.2"/>
<text x="555" y="1011.4" font-size="29.5" fill="#000" text-anchor="end">20</text>
<path d="M563.9 1079.4 L571.6 1079.4" stroke="#000" stroke-width="2.2"/>
<text x="555" y="1087.4" font-size="29.5" fill="#000" text-anchor="end">10</text>
<path d="M563.9 1155.4 L571.6 1155.4" stroke="#000" stroke-width="2.2"/>
<text x="555" y="1163.4" font-size="29.5" fill="#000" text-anchor="end">0</text>
<text x="563.9" y="1202" font-size="29.5" fill="#000" text-anchor="middle">0</text>
<path d="M706.1 1169.6 L706.1 1161.6" stroke="#000" stroke-width="2.2"/>
<text x="706.1" y="1202" font-size="29.5" fill="#000" text-anchor="middle">50</text>
<path d="M848.9 1169.6 L848.9 1161.6" stroke="#000" stroke-width="2.2"/>
<text x="848.9" y="1202" font-size="29.5" fill="#000" text-anchor="middle">100</text>
<text x="764" y="1239.5" font-size="29.5" text-anchor="middle"><tspan font-style="italic">t</tspan> (s)</text>
<g transform="translate(506.7 1068) rotate(-90)">
<text x="0" y="0" font-size="29.5" text-anchor="middle"><tspan font-style="italic">I</tspan><tspan font-size="20" dy="7">ds</tspan><tspan dy="-7"> (nA)</tspan></text>
</g>
<text x="1025.18" y="41.8" font-size="37" fill="#000" font-weight="bold">g</text>
<text x="1069.3" y="73.5" font-size="29.5" fill="#000" textLength="159.1" lengthAdjust="spacing">Light source</text>
<text x="1132.4" y="146.6" font-size="29.5" fill="#000" textLength="65.8" lengthAdjust="spacing">Lens</text>
<text x="1132.4" y="330.3" font-size="29.5" fill="#000" textLength="65.8" lengthAdjust="spacing">Lens</text>
<text x="1315.4" y="276.7" font-size="29.5" fill="#000" textLength="69.4" lengthAdjust="spacing">Mask</text>
<text x="1104" y="487.5" font-size="29.5" fill="#000" textLength="322.6" lengthAdjust="spacing">2D heterostucture device</text>
<path d="M1248 51.5 L1248 67.6 L1261.8 75.5 L1261.8 84 A8.8 1.6 0 0 0 1279.4 84 L1279.4 75.5 L1293.7 67.6 L1293.7 51.5 Z" fill="url(#metal)"/>
<path d="M1248 57.5 A22.85 4.8 0 0 0 1293.7 57.5 L1293.7 67.6 L1279.4 75.5 L1261.8 75.5 L1248 67.6 Z" fill="#6E6E6E"/>
<path d="M1261.8 75.5 L1279.4 75.5 L1279.4 84 A8.8 1.6 0 0 1 1261.8 84 Z" fill="url(#metal)"/>
<ellipse cx="1270.85" cy="51.6" rx="22.85" ry="4.4" fill="#8C8C8C"/>
<path d="M1171.7 204.2 L1367.6 204.2 L1411.8 239.2 L1125.8 239.2 Z" fill="#7B7B7B"/>
<rect x="1125.8" y="239.2" width="286" height="7.5" fill="#585858"/>
<path d="M1190.05 207.51 L1350.13 207.51 L1365.14 224.18 L1354.3 224.18 L1355.96 229.52 L1328.45 229.52 L1328.45 232.52 L1283.43 232.52 L1283.09 227.52 L1255.08 227.52 L1253.41 232.52 L1180.04 232.52 L1179.21 229.52 L1167.54 229.52 Z" fill="#F2F2F2"/>
<path d="M1205.89 213.35 L1255.91 213.35 L1255.91 224.18 L1214.23 224.18 L1213.73 222.02 L1202.55 222.02 Z" fill="#7B7B7B"/>
<path d="M1281.76 213.35 L1318.45 213.35 L1322.61 224.18 L1296.77 224.18 L1296.27 222.02 L1282.59 222.02 Z" fill="#7B7B7B"/>
<path d="M1136 220 L1103.3 254.2 L1150 254.2" fill="none" stroke="#000" stroke-width="2.2"/>
<path d="M1136.5 219.5 L1131.79 230.21 L1126.01 224.68 Z" fill="#000"/>
<path d="M1161.5 254.2 L1149.5 258.2 L1149.5 250.2 Z" fill="#000"/>
<text x="1112.5" y="217.5" font-size="29.5" fill="#000" font-style="italic">x</text>
<text x="1131.5" y="275.5" font-size="29.5" fill="#000" font-style="italic">y</text>
<rect x="1137.9" y="440" width="261.1" height="7.6" fill="url(#devside)"/>
<path d="M1175.7 408.2 L1360.4 408.2 L1399 440 L1137.9 440 Z" fill="#8DB88A"/>
<path d="M1205.2 411.2 L1231.7 411.2 L1225.6 429.4 L1192.4 429.4 Z" fill="#E8A856"/>
<path d="M1192.4 429.4 L1225.6 429.4 L1225.6 431.2 L1192.4 431.2 Z" fill="#C58B3E"/>
<path d="M1312.7 411.2 L1339.2 411.2 L1352.8 428.7 L1320.2 428.7 Z" fill="#E8A856"/>
<path d="M1320.2 428.7 L1352.8 428.7 L1352.8 430.6 L1320.2 430.6 Z" fill="#C58B3E"/>
<path d="M1231.7 414.8 L1246 414.8 L1243.5 426 L1290.7 426 L1290.7 429.4 L1225.6 429.4 Z" fill="#D9705A"/>
<path d="M1225.6 429.4 L1290.7 429.4 L1290.7 431.2 L1225.6 431.2 Z" fill="#B95A47"/>
<path d="M1245.3 411.2 L1289.2 411.2 L1294 415.8 L1312.7 415.8 L1318.8 428.7 L1297 428.7 L1290 423.5 L1243.3 423.5 Z" fill="#8DB3DB"/>
<path d="M1243.3 423.5 L1290 423.5 L1297 428.7 L1318.8 428.7 L1318.8 430.8 L1296 430.8 L1289 426 L1243.3 426 Z" fill="#6F96C0"/>
<path d="M1228.1 136.3 A40.85 6 0 0 1 1309.8 136.3 L1309.8 145.2 A40.85 6 0 0 1 1228.1 145.2 Z" fill="#000"/>
<path d="M1254.95 139.8 L1284.95 139.8 L1284.95 150.9 A40.85 6 0 0 1 1254.95 151 Z" fill="url(#lensHi)"/>
<ellipse cx="1268.45" cy="136.5" rx="31.85" ry="3.2" fill="#6FC9C9"/>
<path d="M1229.1 317.8 A41.4 6 0 0 1 1311.9 317.8 L1311.9 326.5 A41.4 6 0 0 1 1229.1 326.5 Z" fill="#000"/>
<path d="M1256.5 321.3 L1286.5 321.3 L1286.5 332.2 A41.4 6 0 0 1 1256.5 332.3 Z" fill="url(#lensHi)"/>
<ellipse cx="1270" cy="318" rx="32.4" ry="3.2" fill="#6FC9C9"/>
<rect x="1267.6" y="85" width="5.4" height="46" fill="#EF7752"/>
<rect x="1269.6" y="85" width="1.4" height="46" fill="#F7A58A"/>
<rect x="1267.6" y="151" width="5.4" height="67" fill="#EF7752"/>
<rect x="1269.6" y="151" width="1.4" height="67" fill="#F7A58A"/>
<rect x="1267.6" y="246.7" width="5.4" height="65.3" fill="#EF7752"/>
<rect x="1269.6" y="246.7" width="1.4" height="65.3" fill="#F7A58A"/>
<rect x="1267.6" y="332.5" width="5.4" height="81" fill="#EF7752"/>
<rect x="1269.6" y="332.5" width="1.4" height="81" fill="#F7A58A"/>
<rect x="1267.6" y="130" width="5.4" height="10" fill="#EF7752" fill-opacity="0.55"/>
<rect x="1267.6" y="311" width="5.4" height="10" fill="#EF7752" fill-opacity="0.55"/>
<rect x="1267.6" y="218" width="5.4" height="28.7" fill="#EF7752" fill-opacity="0.25"/>
<rect x="1266.2" y="151" width="8.2" height="3" fill="#fff" fill-opacity="0.6"/>
<path d="M1396.8 418.3 L1454.3 418.3 L1454.3 157" fill="none" stroke="#000" stroke-width="3.6"/>
<path d="M1452.5 159.1 L1650 159.1" stroke="#2F7DB9" stroke-width="3.6"/>
<path d="M1648.6 150.1 L1678.5 159.1 L1648.6 168.1 Z" fill="#2F7DB9"/>
<path d="M1452.5 334.3 L1647 334.3" stroke="#D42027" stroke-width="3.6"/>
<path d="M1645.6 325.3 L1674 334.3 L1645.6 343.3 Z" fill="#D42027"/>
<text x="1472.2" y="206.4" font-size="29.5" fill="#2F7DB9" textLength="194" lengthAdjust="spacing">Reconstruction</text>
<text x="1505.6" y="317.6" font-size="29.5" fill="#D42027" textLength="104.2" lengthAdjust="spacing">Memory</text>
<path d="M1496.7 52 L1496.7 119.1 L1620 119.1" fill="none" stroke="#000" stroke-width="2.2"/>
<path d="M1496.7 43.5 L1501.2 57 L1492.2 57 Z" fill="#000"/>
<path d="M1629.5 119.1 L1615.5 123.35 L1615.5 114.85 Z" fill="#000"/>
<path d="M1509.6 110.1 C1512.08 108.22 1518.52 106.17 1524.5 98.8 C1530.48 91.43 1540.02 73.63 1545.5 65.9 C1550.98 58.17 1553.42 52.9 1557.4 52.4 C1561.38 51.9 1565.42 56.67 1569.4 62.9 C1573.38 69.13 1576.82 82.33 1581.3 89.8 C1585.78 97.27 1590.32 103.47 1596.3 107.7 C1602.28 111.93 1613.72 113.95 1617.2 115.2" fill="none" stroke="#2F7DC0" stroke-width="3" stroke-linecap="round"/>
<path d="M1509.6 96.4 C1512.08 96.4 1518.52 99 1524.5 96.4 C1530.48 93.8 1537.25 88.13 1545.5 80.8 C1553.75 73.47 1567.03 54.38 1574 52.4 C1580.97 50.42 1583.08 61.67 1587.3 68.9 C1591.52 76.13 1594.32 88.33 1599.3 95.8 C1604.28 103.27 1614.22 110.72 1617.2 113.7" fill="none" stroke="#2FA33A" stroke-width="3" stroke-linecap="round"/>
<path d="M1509.6 101.7 C1513.58 101.32 1525.53 102.38 1533.5 99.4 C1541.47 96.42 1549.43 91.63 1557.4 83.8 C1565.37 75.97 1575.32 56.38 1581.3 52.4 C1587.28 48.42 1589.32 54.67 1593.3 59.9 C1597.28 65.13 1601.22 75.93 1605.2 83.8 C1609.18 91.67 1615.2 103.22 1617.2 107.1" fill="none" stroke="#D8322F" stroke-width="3" stroke-linecap="round"/>
<g transform="translate(1487.2 80.8) rotate(-90)"><text x="0" y="0" font-size="27" font-style="italic" text-anchor="middle">R</text></g>
<g transform="translate(1564 150) skewX(-18)"><text x="0" y="0" font-size="28" font-family="Liberation Serif" text-anchor="middle">&#955;</text></g>
<path d="M1504.5 362 L1504.5 424.6 L1612 424.6" fill="none" stroke="#000" stroke-width="2.2"/>
<path d="M1504.5 353.5 L1509 367 L1500 367 Z" fill="#000"/>
<path d="M1622 424.6 L1608 428.85 L1608 420.35 Z" fill="#000"/>
<path d="M1505.1 407.9 L1512.8 408.45 L1520.5 408.47 L1528.2 408.22 L1535.9 408.4 L1535.9 364.8 L1537 363.83 L1542.38 364.77 L1547.75 364.86 L1553.12 364.7 L1558.5 365.15 L1563.88 365.33 L1569.25 366.16 L1574.62 365.98 L1580 366.83 L1585.21 366.94 L1590.42 366.64 L1595.64 367.37 L1600.85 367.36 L1606.06 367.89 L1611.28 368.19 L1616.49 367.99 L1621.7 368.4" fill="none" stroke="#000" stroke-width="3.8"/>
<g transform="translate(1492 388) rotate(-90)"><text x="0" y="0" font-size="27" font-style="italic" text-anchor="middle">I</text></g>
<text x="1565" y="453" font-size="27" fill="#000" text-anchor="middle" font-style="italic">t</text>
<path d="M1833.5 8.5 L1911.6 48.4 L1907.4 150.3 L1829.3 110.4 Z M1843.45 25.14 L1900.72 54.4 L1897.45 133.66 L1840.18 104.4 Z" fill="#484848" fill-opacity="0.62" fill-rule="evenodd"/>
<path d="M1843.45 25.14 L1900.72 54.4 L1897.45 133.66 L1840.18 104.4 Z" fill="#2a2a2a" fill-opacity="0.55"/>
<path d="M1843.45 25.14 L1879.89 43.76 L1879.66 49.42 L1843.21 30.8 Z M1843.21 30.8 L1879.66 49.42 L1879.43 55.08 L1842.98 36.46 Z M1884.87 52.08 L1890.07 54.74 L1889.84 60.4 L1884.63 57.74 Z M1842.98 36.46 L1863.81 47.1 L1863.57 52.77 L1842.75 42.13 Z M1869.01 49.76 L1879.43 55.08 L1879.19 60.75 L1868.78 55.43 Z M1884.63 57.74 L1895.05 63.06 L1894.81 68.73 L1884.4 63.41 Z M1853.16 47.45 L1858.37 50.11 L1858.13 55.77 L1852.93 53.11 Z M1884.4 63.41 L1900.02 71.39 L1899.79 77.05 L1884.17 69.07 Z M1842.51 47.79 L1858.13 55.77 L1857.9 61.43 L1842.28 53.45 Z M1884.17 69.07 L1894.58 74.39 L1894.35 80.05 L1883.93 74.73 Z M1842.28 53.45 L1857.9 61.43 L1857.67 67.09 L1842.05 59.11 Z M1878.73 72.07 L1894.35 80.05 L1894.11 85.71 L1878.49 77.73 Z M1842.05 59.11 L1847.25 61.77 L1847.02 67.43 L1841.81 64.77 Z M1857.67 67.09 L1888.91 83.05 L1888.67 88.71 L1857.43 72.75 Z M1841.81 64.77 L1857.43 72.75 L1857.2 78.41 L1841.58 70.43 Z M1862.64 75.41 L1873.05 80.73 L1872.82 86.39 L1862.41 81.07 Z M1878.26 83.39 L1893.88 91.37 L1893.65 97.03 L1878.03 89.05 Z M1841.58 70.43 L1851.99 75.75 L1851.76 81.41 L1841.35 76.09 Z M1883.23 91.71 L1898.85 99.69 L1898.62 105.35 L1883 97.37 Z M1841.35 76.09 L1856.97 84.07 L1856.73 89.73 L1841.11 81.75 Z M1883 97.37 L1898.62 105.35 L1898.39 111.01 L1882.77 103.03 Z M1841.11 81.75 L1856.73 89.73 L1856.5 95.39 L1840.88 87.41 Z M1882.77 103.03 L1887.97 105.69 L1887.74 111.35 L1882.53 108.69 Z M1893.18 108.35 L1898.39 111.01 L1898.15 116.67 L1892.95 114.01 Z M1846.09 90.07 L1851.29 92.73 L1851.06 98.4 L1845.85 95.74 Z M1877.33 106.03 L1892.95 114.01 L1892.71 119.68 L1877.09 111.7 Z M1840.65 93.08 L1851.06 98.4 L1850.83 104.06 L1840.41 98.74 Z M1856.27 101.06 L1882.3 114.36 L1882.07 120.02 L1856.03 106.72 Z M1892.71 119.68 L1897.92 122.34 L1897.69 128 L1892.48 125.34 Z M1840.41 98.74 L1850.83 104.06 L1850.59 109.72 L1840.18 104.4 Z M1861.24 109.38 L1892.48 125.34 L1892.25 131 L1861.01 115.04 Z " fill="#000" fill-opacity="0.25"/>
<path d="M1820.74 16.7 L1898.39 57.49 L1895.19 158.89 L1817.54 118.1 Z M1830.74 33.41 L1887.68 63.32 L1885.19 142.18 L1828.25 112.27 Z" fill="#484848" fill-opacity="0.62" fill-rule="evenodd"/>
<path d="M1830.74 33.41 L1887.68 63.32 L1885.19 142.18 L1828.25 112.27 Z" fill="#2a2a2a" fill-opacity="0.55"/>
<path d="M1841.09 38.84 L1851.44 44.28 L1851.26 49.91 L1840.91 44.48 Z M1856.62 47 L1861.8 49.72 L1861.62 55.35 L1856.44 52.63 Z M1866.97 52.44 L1872.15 55.16 L1871.97 60.79 L1866.79 58.07 Z M1830.56 39.04 L1871.97 60.79 L1871.79 66.42 L1830.38 44.67 Z M1877.15 63.51 L1882.32 66.23 L1882.15 71.86 L1876.97 69.14 Z M1830.38 44.67 L1840.73 50.11 L1840.56 55.74 L1830.2 50.31 Z M1845.91 52.83 L1856.26 58.27 L1856.09 63.9 L1845.73 58.46 Z M1871.79 66.42 L1882.15 71.86 L1881.97 77.5 L1871.62 72.06 Z M1840.56 55.74 L1845.73 58.46 L1845.55 64.1 L1840.38 61.38 Z M1871.62 72.06 L1887.15 80.22 L1886.97 85.85 L1871.44 77.69 Z M1830.02 55.94 L1845.55 64.1 L1845.38 69.73 L1829.85 61.57 Z M1835.02 64.29 L1840.2 67.01 L1840.02 72.64 L1834.85 69.92 Z M1866.08 80.61 L1881.61 88.76 L1881.44 94.4 L1865.91 86.24 Z M1829.67 67.21 L1834.85 69.92 L1834.67 75.56 L1829.49 72.84 Z M1840.02 72.64 L1876.26 91.68 L1876.08 97.31 L1839.84 78.28 Z M1829.49 72.84 L1870.9 94.59 L1870.73 100.22 L1829.31 78.47 Z M1876.08 97.31 L1881.26 100.03 L1881.08 105.66 L1875.9 102.94 Z M1834.49 81.19 L1844.84 86.63 L1844.67 92.26 L1834.31 86.82 Z M1870.73 100.22 L1886.26 108.38 L1886.08 114.02 L1870.55 105.86 Z M1829.14 84.11 L1844.67 92.26 L1844.49 97.9 L1828.96 89.74 Z M1870.55 105.86 L1875.73 108.58 L1875.55 114.21 L1870.37 111.49 Z M1880.9 111.3 L1886.08 114.02 L1885.9 119.65 L1880.72 116.93 Z M1828.96 89.74 L1844.49 97.9 L1844.31 103.53 L1828.78 95.37 Z M1870.37 111.49 L1880.72 116.93 L1880.55 122.56 L1870.19 117.12 Z M1828.78 95.37 L1844.31 103.53 L1844.13 109.16 L1828.6 101.01 Z M1865.02 114.41 L1875.37 119.84 L1875.19 125.48 L1864.84 120.04 Z M1880.55 122.56 L1885.72 125.28 L1885.55 130.92 L1880.37 128.2 Z M1828.6 101.01 L1833.78 103.72 L1833.6 109.36 L1828.42 106.64 Z M1844.13 109.16 L1854.49 114.6 L1854.31 120.23 L1843.95 114.8 Z M1859.66 117.32 L1875.19 125.48 L1875.01 131.11 L1859.48 122.95 Z M1880.37 128.2 L1885.55 130.92 L1885.37 136.55 L1880.19 133.83 Z M1828.42 106.64 L1880.19 133.83 L1880.01 139.46 L1828.25 112.27 Z " fill="#000" fill-opacity="0.25"/>
<path d="M1807.97 24.9 L1885.17 66.57 L1882.97 167.47 L1805.77 125.8 Z M1818.02 41.67 L1874.64 72.23 L1872.93 150.71 L1816.31 120.15 Z" fill="#484848" fill-opacity="0.62" fill-rule="evenodd"/>
<path d="M1818.02 41.67 L1874.64 72.23 L1872.93 150.71 L1816.31 120.15 Z" fill="#2a2a2a" fill-opacity="0.55"/>
<path d="M1818.02 41.67 L1828.32 47.22 L1828.19 52.83 L1817.9 47.27 Z M1833.46 50 L1838.61 52.78 L1838.49 58.39 L1833.34 55.61 Z M1843.76 55.56 L1854.05 61.12 L1853.93 66.72 L1843.63 61.16 Z M1823.05 50.05 L1838.49 58.39 L1838.37 63.99 L1822.93 55.66 Z M1843.63 61.16 L1848.78 63.94 L1848.66 69.55 L1843.51 66.77 Z M1853.93 66.72 L1869.37 75.06 L1869.25 80.66 L1853.81 72.33 Z M1817.78 52.88 L1838.37 63.99 L1838.24 69.6 L1817.66 58.48 Z M1843.51 66.77 L1858.95 75.11 L1858.83 80.71 L1843.39 72.38 Z M1864.1 77.88 L1869.25 80.66 L1869.12 86.27 L1863.98 83.49 Z M1817.66 58.48 L1822.8 61.26 L1822.68 66.87 L1817.53 64.09 Z M1863.98 83.49 L1874.27 89.05 L1874.15 94.65 L1863.85 89.09 Z M1817.53 64.09 L1827.83 69.65 L1827.71 75.25 L1817.41 69.7 Z M1863.85 89.09 L1869 91.87 L1868.88 97.48 L1863.73 94.7 Z M1817.41 69.7 L1832.85 78.03 L1832.73 83.64 L1817.29 75.3 Z M1853.44 89.14 L1868.88 97.48 L1868.76 103.08 L1853.32 94.75 Z M1817.29 75.3 L1837.88 86.41 L1837.76 92.02 L1817.17 80.91 Z M1843.02 89.19 L1863.61 100.31 L1863.49 105.91 L1842.9 94.8 Z M1817.17 80.91 L1832.61 89.24 L1832.49 94.85 L1817.05 86.51 Z M1837.76 92.02 L1868.63 108.69 L1868.51 114.3 L1837.63 97.63 Z M1817.05 86.51 L1832.49 94.85 L1832.36 100.45 L1816.92 92.12 Z M1863.37 111.52 L1868.51 114.3 L1868.39 119.9 L1863.24 117.12 Z M1816.92 92.12 L1822.07 94.9 L1821.95 100.5 L1816.8 97.72 Z M1827.22 97.67 L1832.36 100.45 L1832.24 106.06 L1827.09 103.28 Z M1858.1 114.34 L1873.54 122.68 L1873.41 128.28 L1857.97 119.95 Z M1827.09 103.28 L1832.24 106.06 L1832.12 111.66 L1826.97 108.89 Z M1857.97 119.95 L1873.41 128.28 L1873.29 133.89 L1857.85 125.56 Z M1816.68 103.33 L1832.12 111.66 L1832 117.27 L1816.56 108.93 Z M1852.71 122.78 L1868.15 131.11 L1868.02 136.72 L1852.58 128.38 Z M1821.7 111.71 L1826.85 114.49 L1826.73 120.1 L1821.58 117.32 Z M1832 117.27 L1842.29 122.83 L1842.17 128.43 L1831.88 122.88 Z M1847.44 125.6 L1857.73 131.16 L1857.61 136.77 L1847.32 131.21 Z M1862.88 133.94 L1873.17 139.5 L1873.05 145.1 L1862.75 139.55 Z M1816.43 114.54 L1837.02 125.65 L1836.9 131.26 L1816.31 120.15 Z M1857.61 136.77 L1867.9 142.32 L1867.78 147.93 L1857.49 142.37 Z " fill="#000" fill-opacity="0.25"/>
<path d="M1795.21 33.1 L1871.96 75.66 L1870.76 176.06 L1794.01 133.5 Z M1805.31 49.93 L1861.6 81.14 L1860.66 159.23 L1804.38 128.02 Z" fill="#484848" fill-opacity="0.62" fill-rule="evenodd"/>
<path d="M1805.31 49.93 L1861.6 81.14 L1860.66 159.23 L1804.38 128.02 Z" fill="#2a2a2a" fill-opacity="0.55"/>
<path d="M1810.43 52.77 L1841.13 69.79 L1841.06 75.37 L1810.36 58.35 Z M1810.36 58.35 L1820.6 64.02 L1820.53 69.6 L1810.3 63.92 Z M1830.83 69.7 L1856.41 83.88 L1856.35 89.46 L1830.76 75.27 Z M1805.18 61.09 L1830.76 75.27 L1830.7 80.85 L1805.11 66.66 Z M1835.88 78.11 L1856.35 89.46 L1856.28 95.04 L1835.81 83.69 Z M1805.11 66.66 L1820.46 75.18 L1820.4 80.75 L1805.05 72.24 Z M1846.05 89.36 L1861.4 97.88 L1861.33 103.45 L1845.98 94.94 Z M1805.05 72.24 L1820.4 80.75 L1820.33 86.33 L1804.98 77.82 Z M1851.1 97.78 L1861.33 103.45 L1861.26 109.03 L1851.03 103.36 Z M1804.98 77.82 L1820.33 86.33 L1820.26 91.91 L1804.91 83.4 Z M1840.8 97.68 L1856.15 106.19 L1856.08 111.77 L1840.73 103.26 Z M1804.91 83.4 L1810.03 86.23 L1809.96 91.81 L1804.85 88.97 Z M1815.15 89.07 L1850.96 108.93 L1850.9 114.51 L1815.08 94.65 Z M1804.85 88.97 L1820.2 97.49 L1820.13 103.07 L1804.78 94.55 Z M1830.43 103.16 L1850.9 114.51 L1850.83 120.09 L1830.36 108.74 Z M1804.78 94.55 L1820.13 103.07 L1820.06 108.64 L1804.71 100.13 Z M1845.71 117.25 L1861.06 125.77 L1861 131.34 L1845.65 122.83 Z M1809.83 102.97 L1814.95 105.81 L1814.88 111.38 L1809.76 108.55 Z M1845.65 122.83 L1861 131.34 L1860.93 136.92 L1845.58 128.41 Z M1804.65 105.71 L1809.76 108.55 L1809.7 114.12 L1804.58 111.29 Z M1814.88 111.38 L1820 114.22 L1819.93 119.8 L1814.81 116.96 Z M1845.58 128.41 L1860.93 136.92 L1860.86 142.5 L1845.51 133.99 Z M1804.58 111.29 L1819.93 119.8 L1819.86 125.38 L1804.51 116.86 Z M1840.4 131.15 L1855.75 139.66 L1855.68 145.24 L1840.33 136.73 Z M1809.63 119.7 L1814.75 122.54 L1814.68 128.12 L1809.56 125.28 Z M1824.98 128.21 L1830.1 131.05 L1830.03 136.63 L1824.91 133.79 Z M1835.21 133.89 L1860.8 148.08 L1860.73 153.65 L1835.15 139.47 Z M1804.45 122.44 L1830.03 136.63 L1829.96 142.21 L1804.38 128.02 Z M1835.15 139.47 L1850.5 147.98 L1850.43 153.56 L1835.08 145.04 Z " fill="#000" fill-opacity="0.25"/>
<path d="M1805.37 45.47 L1843.74 66.75" stroke="#fff" stroke-opacity="0.7" stroke-width="1.8"/>
<path d="M1782.45 41.3 L1858.75 84.75 L1858.55 184.65 L1782.25 141.2 Z M1792.6 58.19 L1848.55 90.06 L1848.4 167.76 L1792.45 135.89 Z" fill="#484848" fill-opacity="0.62" fill-rule="evenodd"/>
<path d="M1792.6 58.19 L1848.55 90.06 L1848.4 167.76 L1792.45 135.89 Z" fill="#2a2a2a" fill-opacity="0.55"/>
<path d="M1792.6 58.19 L1802.77 63.99 L1802.76 69.54 L1792.59 63.74 Z M1818.03 72.68 L1833.29 81.37 L1833.28 86.92 L1818.02 78.23 Z M1802.76 69.54 L1807.85 72.43 L1807.84 77.98 L1802.75 75.09 Z M1812.94 75.33 L1823.11 81.12 L1823.1 86.67 L1812.93 80.88 Z M1828.2 84.02 L1843.46 92.71 L1843.45 98.26 L1828.19 89.57 Z M1802.75 75.09 L1838.36 95.36 L1838.35 100.91 L1802.74 80.64 Z M1792.57 74.84 L1802.74 80.64 L1802.73 86.19 L1792.56 80.39 Z M1838.35 100.91 L1848.52 106.71 L1848.51 112.26 L1838.34 106.46 Z M1797.64 83.29 L1802.73 86.19 L1802.72 91.74 L1797.63 88.84 Z M1833.25 103.57 L1838.34 106.46 L1838.33 112.01 L1833.24 109.12 Z M1843.42 109.36 L1848.51 112.26 L1848.5 117.81 L1843.41 114.91 Z M1792.55 85.94 L1797.63 88.84 L1797.62 94.39 L1792.53 91.49 Z M1802.72 91.74 L1807.81 94.63 L1807.79 100.18 L1802.71 97.29 Z M1828.15 106.22 L1833.24 109.12 L1833.23 114.67 L1828.14 111.77 Z M1838.33 112.01 L1843.41 114.91 L1843.4 120.46 L1838.31 117.56 Z M1792.53 91.49 L1797.62 94.39 L1797.61 99.94 L1792.52 97.04 Z M1802.71 97.29 L1807.79 100.18 L1807.78 105.73 L1802.7 102.84 Z M1812.88 103.08 L1838.31 117.56 L1838.3 123.11 L1812.87 108.63 Z M1792.52 97.04 L1797.61 99.94 L1797.6 105.49 L1792.51 102.59 Z M1802.7 102.84 L1817.96 111.53 L1817.95 117.08 L1802.69 108.39 Z M1823.04 114.42 L1833.22 120.22 L1833.21 125.77 L1823.03 119.97 Z M1797.6 105.49 L1807.77 111.28 L1807.76 116.83 L1797.59 111.04 Z M1833.21 125.77 L1848.47 134.46 L1848.45 140.01 L1833.19 131.32 Z M1792.5 108.14 L1797.59 111.04 L1797.58 116.59 L1792.49 113.69 Z M1838.28 134.21 L1843.37 137.11 L1843.36 142.66 L1838.27 139.76 Z M1792.49 113.69 L1807.75 122.38 L1807.74 127.93 L1792.48 119.24 Z M1833.18 136.87 L1848.44 145.56 L1848.43 151.11 L1833.17 142.42 Z M1792.48 119.24 L1807.74 127.93 L1807.73 133.48 L1792.47 124.79 Z M1828.09 139.52 L1843.35 148.21 L1843.33 153.76 L1828.07 145.07 Z M1797.55 127.69 L1802.64 130.59 L1802.63 136.14 L1797.54 133.24 Z M1807.73 133.48 L1812.81 136.38 L1812.8 141.93 L1807.72 139.03 Z M1817.9 139.28 L1828.07 145.07 L1828.06 150.62 L1817.89 144.83 Z M1833.16 147.97 L1848.42 156.66 L1848.41 162.21 L1833.15 153.52 Z M1792.46 130.34 L1797.54 133.24 L1797.53 138.79 L1792.45 135.89 Z M1802.63 136.14 L1817.89 144.83 L1817.88 150.38 L1802.62 141.69 Z M1822.98 147.72 L1828.06 150.62 L1828.05 156.17 L1822.97 153.27 Z M1838.24 156.41 L1843.32 159.31 L1843.31 164.86 L1838.23 161.96 Z " fill="#000" fill-opacity="0.25"/>
<path d="M1792.61 53.75 L1830.76 75.48" stroke="#fff" stroke-opacity="0.7" stroke-width="1.8"/>
<path d="M1769.69 49.5 L1845.54 93.84 L1846.34 193.24 L1770.49 148.9 Z M1779.89 66.46 L1835.51 98.97 L1836.14 176.28 L1780.51 143.77 Z" fill="#484848" fill-opacity="0.62" fill-rule="evenodd"/>
<path d="M1779.89 66.46 L1835.51 98.97 L1836.14 176.28 L1780.51 143.77 Z" fill="#2a2a2a" fill-opacity="0.55"/>
<path d="M1784.95 69.41 L1795.06 75.32 L1795.1 80.85 L1784.99 74.93 Z M1805.17 81.24 L1820.34 90.1 L1820.39 95.62 L1805.22 86.76 Z M1779.93 71.98 L1800.16 83.8 L1800.21 89.32 L1779.98 77.5 Z M1810.27 89.71 L1825.44 98.58 L1825.49 104.1 L1810.32 95.24 Z M1779.98 77.5 L1785.04 80.46 L1785.08 85.98 L1780.02 83.02 Z M1795.15 86.37 L1830.55 107.06 L1830.59 112.58 L1795.19 91.89 Z M1780.02 83.02 L1795.19 91.89 L1795.24 97.41 L1780.07 88.55 Z M1820.48 106.67 L1825.53 109.63 L1825.58 115.15 L1820.52 112.19 Z M1830.59 112.58 L1835.65 115.54 L1835.69 121.06 L1830.63 118.1 Z M1780.07 88.55 L1795.24 97.41 L1795.28 102.93 L1780.11 94.07 Z M1820.52 112.19 L1825.58 115.15 L1825.62 120.67 L1820.57 117.71 Z M1780.11 94.07 L1795.28 102.93 L1795.33 108.46 L1780.16 99.59 Z M1815.51 114.76 L1830.68 123.63 L1830.72 129.15 L1815.55 120.28 Z M1780.16 99.59 L1805.44 114.37 L1805.48 119.89 L1780.2 105.11 Z M1810.5 117.32 L1820.61 123.24 L1820.65 128.76 L1810.54 122.85 Z M1780.2 105.11 L1800.43 116.94 L1800.47 122.46 L1780.25 110.63 Z M1805.48 119.89 L1810.54 122.85 L1810.59 128.37 L1805.53 125.41 Z M1815.6 125.8 L1830.77 134.67 L1830.81 140.19 L1815.64 131.32 Z M1780.25 110.63 L1785.3 113.59 L1785.35 119.11 L1780.29 116.16 Z M1790.36 116.55 L1795.42 119.5 L1795.46 125.02 L1790.4 122.07 Z M1820.7 134.28 L1835.87 143.15 L1835.91 148.67 L1820.74 139.8 Z M1790.4 122.07 L1795.46 125.02 L1795.5 130.55 L1790.45 127.59 Z M1820.74 139.8 L1830.86 145.71 L1830.9 151.24 L1820.79 145.32 Z M1780.33 121.68 L1795.5 130.55 L1795.55 136.07 L1780.38 127.2 Z M1825.84 148.28 L1835.96 154.19 L1836 159.71 L1825.89 153.8 Z M1785.44 130.16 L1795.55 136.07 L1795.59 141.59 L1785.48 135.68 Z M1815.78 147.89 L1836 159.71 L1836.05 165.24 L1815.82 153.41 Z M1790.54 138.63 L1810.76 150.46 L1810.81 155.98 L1790.58 144.16 Z M1820.88 156.37 L1830.99 162.28 L1831.03 167.8 L1820.92 161.89 Z M1780.47 138.25 L1795.64 147.11 L1795.68 152.63 L1780.51 143.77 Z M1800.69 150.07 L1831.03 167.8 L1831.08 173.33 L1800.74 155.59 Z " fill="#000" fill-opacity="0.25"/>
<path d="M1779.85 62.04 L1817.78 84.21" stroke="#fff" stroke-opacity="0.7" stroke-width="1.8"/>
<path d="M1756.93 57.7 L1832.33 102.92 L1834.13 201.82 L1758.73 156.6 Z M1767.18 74.72 L1822.47 107.88 L1823.87 184.81 L1768.58 151.64 Z" fill="#484848" fill-opacity="0.62" fill-rule="evenodd"/>
<path d="M1767.18 74.72 L1822.47 107.88 L1823.87 184.81 L1768.58 151.64 Z" fill="#2a2a2a" fill-opacity="0.55"/>
<path d="M1767.18 74.72 L1772.21 77.73 L1772.31 83.23 L1767.28 80.21 Z M1777.23 80.75 L1782.26 83.76 L1782.36 89.26 L1777.33 86.24 Z M1787.29 86.78 L1792.31 89.79 L1792.41 95.29 L1787.39 92.27 Z M1767.28 80.21 L1782.36 89.26 L1782.46 94.75 L1767.38 85.71 Z M1787.39 92.27 L1792.41 95.29 L1792.51 100.78 L1787.49 97.77 Z M1797.44 98.3 L1817.55 110.36 L1817.65 115.86 L1797.54 103.8 Z M1767.38 85.71 L1772.41 88.72 L1772.51 94.22 L1767.48 91.2 Z M1777.43 91.74 L1782.46 94.75 L1782.56 100.25 L1777.53 97.23 Z M1792.51 100.78 L1817.65 115.86 L1817.75 121.35 L1792.61 106.28 Z M1772.51 94.22 L1782.56 100.25 L1782.66 105.74 L1772.61 99.71 Z M1807.69 115.32 L1817.75 121.35 L1817.85 126.85 L1807.79 120.82 Z M1767.58 96.7 L1782.66 105.74 L1782.76 111.24 L1767.68 102.19 Z M1807.79 120.82 L1812.82 123.83 L1812.92 129.33 L1807.89 126.31 Z M1817.85 126.85 L1822.87 129.86 L1822.97 135.36 L1817.95 132.34 Z M1767.68 102.19 L1782.76 111.24 L1782.86 116.73 L1767.78 107.69 Z M1802.87 123.3 L1817.95 132.34 L1818.05 137.84 L1802.97 128.79 Z M1767.78 107.69 L1777.83 113.72 L1777.93 119.21 L1767.88 113.18 Z M1782.86 116.73 L1813.02 134.82 L1813.12 140.31 L1782.96 122.22 Z M1767.88 113.18 L1787.99 125.24 L1788.09 130.73 L1767.98 118.67 Z M1793.01 128.25 L1798.04 131.27 L1798.14 136.76 L1793.11 133.75 Z M1808.09 137.3 L1818.15 143.33 L1818.25 148.82 L1808.19 142.79 Z M1767.98 118.67 L1773.01 121.69 L1773.11 127.18 L1768.08 124.17 Z M1778.03 124.7 L1783.06 127.72 L1783.16 133.21 L1778.13 130.2 Z M1808.19 142.79 L1818.25 148.82 L1818.35 154.32 L1808.29 148.29 Z M1768.08 124.17 L1783.16 133.21 L1783.26 138.71 L1768.18 129.66 Z M1813.32 151.3 L1823.37 157.33 L1823.47 162.83 L1813.42 156.8 Z M1768.18 129.66 L1773.21 132.68 L1773.31 138.17 L1768.28 135.16 Z M1778.23 135.69 L1783.26 138.71 L1783.36 144.2 L1778.33 141.19 Z M1808.39 153.78 L1823.47 162.83 L1823.57 168.32 L1808.49 159.28 Z M1768.28 135.16 L1783.36 144.2 L1783.46 149.7 L1768.38 140.65 Z M1803.47 156.26 L1823.57 168.32 L1823.67 173.82 L1803.57 161.76 Z M1768.38 140.65 L1783.46 149.7 L1783.56 155.19 L1768.48 146.15 Z M1788.49 152.71 L1793.51 155.73 L1793.61 161.22 L1788.59 158.21 Z M1798.54 158.74 L1818.65 170.8 L1818.75 176.3 L1798.64 164.24 Z M1768.48 146.15 L1773.51 149.16 L1773.61 154.66 L1768.58 151.64 Z M1778.53 152.18 L1783.56 155.19 L1783.66 160.69 L1778.63 157.67 Z M1788.59 158.21 L1793.61 161.22 L1793.71 166.72 L1788.69 163.7 Z M1808.69 170.27 L1818.75 176.3 L1818.85 181.79 L1808.79 175.76 Z " fill="#000" fill-opacity="0.25"/>
<path d="M1767.1 70.32 L1804.8 92.94" stroke="#fff" stroke-opacity="0.7" stroke-width="1.8"/>
<path d="M1744.16 65.9 L1819.11 112.01 L1821.91 210.41 L1746.96 164.3 Z M1754.47 82.98 L1809.43 116.8 L1811.61 193.33 L1756.64 159.51 Z" fill="#484848" fill-opacity="0.62" fill-rule="evenodd"/>
<path d="M1754.47 82.98 L1809.43 116.8 L1811.61 193.33 L1756.64 159.51 Z" fill="#2a2a2a" fill-opacity="0.55"/>
<path d="M1754.47 82.98 L1759.46 86.06 L1759.62 91.52 L1754.62 88.45 Z M1764.46 89.13 L1789.44 104.5 L1789.6 109.97 L1764.62 94.6 Z M1759.62 91.52 L1804.59 119.19 L1804.74 124.66 L1759.77 96.99 Z M1754.78 93.91 L1769.77 103.14 L1769.92 108.6 L1754.93 99.38 Z M1774.76 106.21 L1804.74 124.66 L1804.9 130.12 L1774.92 111.68 Z M1754.93 99.38 L1764.93 105.53 L1765.08 111 L1755.09 104.85 Z M1794.91 123.97 L1804.9 130.12 L1805.06 135.59 L1795.06 129.44 Z M1760.09 107.92 L1765.08 111 L1765.24 116.46 L1760.24 113.39 Z M1795.06 129.44 L1800.06 132.52 L1800.21 137.98 L1795.22 134.91 Z M1755.24 110.31 L1770.23 119.54 L1770.39 125 L1755.4 115.78 Z M1790.22 131.83 L1805.21 141.06 L1805.37 146.52 L1790.38 137.3 Z M1755.4 115.78 L1780.38 131.15 L1780.54 136.62 L1755.56 121.25 Z M1785.38 134.23 L1800.37 143.45 L1800.53 148.92 L1785.54 139.69 Z M1755.56 121.25 L1760.55 124.32 L1760.71 129.79 L1755.71 126.71 Z M1765.55 127.4 L1770.55 130.47 L1770.7 135.94 L1765.7 132.86 Z M1775.54 133.55 L1800.53 148.92 L1800.68 154.38 L1775.7 139.01 Z M1755.71 126.71 L1770.7 135.94 L1770.86 141.4 L1755.87 132.18 Z M1800.68 154.38 L1810.67 160.53 L1810.83 166 L1800.84 159.85 Z M1755.87 132.18 L1770.86 141.4 L1771.01 146.87 L1756.02 137.65 Z M1795.84 156.77 L1810.83 166 L1810.99 171.46 L1796 162.24 Z M1761.02 140.72 L1771.01 146.87 L1771.17 152.34 L1761.17 146.19 Z M1796 162.24 L1800.99 165.32 L1801.15 170.78 L1796.15 167.71 Z M1761.17 146.19 L1771.17 152.34 L1771.32 157.8 L1761.33 151.66 Z M1791.15 164.63 L1806.14 173.86 L1806.3 179.32 L1791.31 170.1 Z M1756.33 148.58 L1771.32 157.8 L1771.48 163.27 L1756.49 154.05 Z M1776.32 160.88 L1811.3 182.4 L1811.45 187.86 L1776.48 166.35 Z M1761.49 157.12 L1786.47 172.49 L1786.62 177.96 L1761.64 162.59 Z M1791.47 175.57 L1796.46 178.64 L1796.62 184.11 L1791.62 181.03 Z " fill="#000" fill-opacity="0.25"/>
<path d="M1731.4 74.1 L1805.9 121.1 L1809.7 219 L1735.2 172 Z M1741.76 91.24 L1796.39 125.71 L1799.34 201.86 L1744.71 167.39 Z" fill="#484848" fill-opacity="0.62" fill-rule="evenodd"/>
<path d="M1741.76 91.24 L1796.39 125.71 L1799.34 201.86 L1744.71 167.39 Z" fill="#2a2a2a" fill-opacity="0.55"/>
<path d="M1741.76 91.24 L1766.59 106.91 L1766.8 112.35 L1741.97 96.68 Z M1776.52 113.18 L1781.49 116.31 L1781.7 121.75 L1776.73 118.62 Z M1741.97 96.68 L1761.83 109.22 L1762.04 114.66 L1742.18 102.12 Z M1766.8 112.35 L1781.7 121.75 L1781.91 127.19 L1767.01 117.79 Z M1786.67 124.88 L1791.63 128.02 L1791.84 133.46 L1786.88 130.32 Z M1742.18 102.12 L1747.14 105.26 L1747.36 110.69 L1742.39 107.56 Z M1752.11 108.39 L1762.04 114.66 L1762.26 120.09 L1752.32 113.83 Z M1771.98 120.92 L1786.88 130.32 L1787.09 135.76 L1772.19 126.36 Z M1742.39 107.56 L1747.36 110.69 L1747.57 116.13 L1742.6 113 Z M1782.12 132.63 L1787.09 135.76 L1787.3 141.2 L1782.33 138.07 Z M1792.06 138.89 L1797.02 142.03 L1797.23 147.47 L1792.27 144.33 Z M1742.6 113 L1757.5 122.4 L1757.71 127.84 L1742.81 118.44 Z M1787.3 141.2 L1797.23 147.47 L1797.44 152.91 L1787.51 146.64 Z M1742.81 118.44 L1747.78 121.57 L1747.99 127.01 L1743.02 123.88 Z M1752.74 124.71 L1757.71 127.84 L1757.92 133.28 L1752.96 130.14 Z M1777.58 140.37 L1787.51 146.64 L1787.72 152.08 L1777.79 145.81 Z M1743.02 123.88 L1747.99 127.01 L1748.2 132.45 L1743.23 129.32 Z M1752.96 130.14 L1762.89 136.41 L1763.1 141.85 L1753.17 135.58 Z M1767.86 139.54 L1777.79 145.81 L1778 151.25 L1768.07 144.98 Z M1782.76 148.94 L1787.72 152.08 L1787.93 157.52 L1782.97 154.38 Z M1743.23 129.32 L1768.07 144.98 L1768.28 150.42 L1743.44 134.76 Z M1773.03 148.12 L1787.93 157.52 L1788.14 162.96 L1773.24 153.56 Z M1743.44 134.76 L1748.41 137.89 L1748.62 143.33 L1743.66 140.19 Z M1753.38 141.02 L1758.34 144.16 L1758.56 149.59 L1753.59 146.46 Z M1783.18 159.82 L1788.14 162.96 L1788.36 168.39 L1783.39 165.26 Z M1793.11 166.09 L1798.08 169.22 L1798.29 174.66 L1793.32 171.53 Z M1743.66 140.19 L1753.59 146.46 L1753.8 151.9 L1743.87 145.63 Z M1788.36 168.39 L1798.29 174.66 L1798.5 180.1 L1788.57 173.83 Z M1743.87 145.63 L1758.77 155.03 L1758.98 160.47 L1744.08 151.07 Z M1783.6 170.7 L1788.57 173.83 L1788.78 179.27 L1783.81 176.14 Z M1793.53 176.97 L1798.5 180.1 L1798.71 185.54 L1793.74 182.41 Z M1744.08 151.07 L1758.98 160.47 L1759.19 165.91 L1744.29 156.51 Z M1783.81 176.14 L1798.71 185.54 L1798.92 190.98 L1784.02 181.58 Z M1749.26 159.64 L1759.19 165.91 L1759.4 171.35 L1749.47 165.08 Z M1769.12 172.18 L1798.92 190.98 L1799.13 196.42 L1769.33 177.62 Z M1744.5 161.95 L1749.47 165.08 L1749.68 170.52 L1744.71 167.39 Z M1754.43 168.22 L1794.17 193.28 L1794.38 198.72 L1754.64 173.66 Z " fill="#000" fill-opacity="0.25"/>
<path d="M1831.3 257.7 L1909.4 297.6 L1905.2 399.5 L1827.1 359.6 Z M1841.25 274.34 L1898.52 303.6 L1895.25 382.86 L1837.98 353.6 Z" fill="#444" fill-opacity="0.6" fill-rule="evenodd"/>
<path d="M1841.25 274.34 L1898.52 303.6 L1895.25 382.86 L1837.98 353.6 Z" fill="#1CC21C" fill-opacity="0.68"/>
<path d="M1882.9 295.62 L1898.52 303.6 L1898.29 309.26 L1882.67 301.28 Z M1893.08 306.6 L1898.29 309.26 L1898.05 314.92 L1892.85 312.26 Z M1892.85 312.26 L1898.05 314.92 L1897.82 320.59 L1892.61 317.93 Z M1856.17 299.31 L1882.2 312.61 L1881.97 318.27 L1855.93 304.97 Z M1855.93 304.97 L1881.97 318.27 L1881.73 323.93 L1855.7 310.63 Z M1855.7 310.63 L1876.53 321.27 L1876.29 326.93 L1855.47 316.29 Z M1892.15 329.25 L1897.35 331.91 L1897.12 337.57 L1891.91 334.91 Z M1886.71 332.25 L1897.12 337.57 L1896.89 343.23 L1886.47 337.91 Z M1891.68 340.57 L1896.89 343.23 L1896.65 348.89 L1891.45 346.23 Z M1855 327.61 L1881.03 340.91 L1880.8 346.57 L1854.77 333.27 Z M1854.77 333.27 L1880.8 346.57 L1880.57 352.23 L1854.53 338.93 Z M1854.53 338.93 L1880.57 352.23 L1880.33 357.89 L1854.3 344.59 Z M1854.3 344.59 L1875.13 355.23 L1874.89 360.9 L1854.07 350.26 Z M1890.28 374.54 L1895.49 377.2 L1895.25 382.86 L1890.05 380.2 Z " fill="#001000" fill-opacity="0.5"/>
<path d="M1898.52 303.6 L1841.25 274.34 L1837.98 353.6 L1895.25 382.86" fill="none" stroke="#7CFF7C" stroke-opacity="0.9" stroke-width="2.2"/>
<path d="M1818.83 265.76 L1896.48 306.55 L1893.28 407.95 L1815.62 367.16 Z M1828.82 282.47 L1885.77 312.38 L1883.28 391.25 L1826.33 361.33 Z" fill="#444" fill-opacity="0.6" fill-rule="evenodd"/>
<path d="M1828.82 282.47 L1885.77 312.38 L1883.28 391.25 L1826.33 361.33 Z" fill="#1CC21C" fill-opacity="0.68"/>
<path d="M1870.24 304.22 L1885.77 312.38 L1885.59 318.01 L1870.06 309.85 Z M1880.41 315.29 L1885.59 318.01 L1885.41 323.65 L1880.23 320.93 Z M1880.23 320.93 L1885.41 323.65 L1885.23 329.28 L1880.06 326.56 Z M1843.82 307.53 L1869.7 321.12 L1869.53 326.75 L1843.64 313.16 Z M1843.64 313.16 L1869.53 326.75 L1869.35 332.39 L1843.46 318.79 Z M1843.46 318.79 L1864.17 329.67 L1863.99 335.3 L1843.29 324.43 Z M1879.7 337.83 L1884.88 340.55 L1884.7 346.18 L1879.52 343.46 Z M1874.35 340.74 L1884.7 346.18 L1884.52 351.81 L1874.17 346.37 Z M1879.35 349.09 L1884.52 351.81 L1884.34 357.44 L1879.17 354.73 Z M1842.93 335.69 L1868.81 349.29 L1868.64 354.92 L1842.75 341.33 Z M1842.75 341.33 L1868.64 354.92 L1868.46 360.55 L1842.58 346.96 Z M1842.58 346.96 L1868.46 360.55 L1868.28 366.19 L1842.4 352.59 Z M1842.4 352.59 L1863.1 363.47 L1862.93 369.1 L1842.22 358.23 Z M1878.28 382.89 L1883.45 385.61 L1883.28 391.25 L1878.1 388.53 Z " fill="#001000" fill-opacity="0.5"/>
<path d="M1885.77 312.38 L1828.82 282.47 L1826.33 361.33 L1883.28 391.25" fill="none" stroke="#7CFF7C" stroke-opacity="0.9" stroke-width="2.2"/>
<path d="M1806.35 273.82 L1883.55 315.5 L1881.35 416.4 L1804.15 374.73 Z M1816.4 290.59 L1873.01 321.15 L1871.3 399.63 L1814.69 369.07 Z" fill="#444" fill-opacity="0.6" fill-rule="evenodd"/>
<path d="M1816.4 290.59 L1873.01 321.15 L1871.3 399.63 L1814.69 369.07 Z" fill="#1CC21C" fill-opacity="0.68"/>
<path d="M1857.57 312.82 L1873.01 321.15 L1872.89 326.76 L1857.45 318.43 Z M1867.74 323.98 L1872.89 326.76 L1872.77 332.37 L1867.62 329.59 Z M1867.62 329.59 L1872.77 332.37 L1872.65 337.97 L1867.5 335.19 Z M1831.47 315.74 L1857.21 329.64 L1857.08 335.24 L1831.35 321.35 Z M1831.35 321.35 L1857.08 335.24 L1856.96 340.85 L1831.23 326.96 Z M1831.23 326.96 L1851.81 338.07 L1851.69 343.67 L1831.11 332.56 Z M1867.25 346.4 L1872.4 349.18 L1872.28 354.79 L1867.13 352.01 Z M1861.99 349.23 L1872.28 354.79 L1872.16 360.39 L1861.86 354.84 Z M1867.01 357.61 L1872.16 360.39 L1872.03 366 L1866.89 363.22 Z M1830.86 343.77 L1856.59 357.66 L1856.47 363.27 L1830.74 349.38 Z M1830.74 349.38 L1856.47 363.27 L1856.35 368.88 L1830.62 354.98 Z M1830.62 354.98 L1856.35 368.88 L1856.23 374.48 L1830.49 360.59 Z M1830.49 360.59 L1851.08 371.7 L1850.96 377.31 L1830.37 366.19 Z M1866.28 391.25 L1871.42 394.03 L1871.3 399.63 L1866.15 396.85 Z " fill="#001000" fill-opacity="0.5"/>
<path d="M1873.01 321.15 L1816.4 290.59 L1814.69 369.07 L1871.3 399.63" fill="none" stroke="#7CFF7C" stroke-opacity="0.9" stroke-width="2.2"/>
<path d="M1793.88 281.89 L1870.62 324.45 L1869.42 424.85 L1792.67 382.29 Z M1803.97 298.72 L1860.26 329.93 L1859.33 408.02 L1803.04 376.81 Z" fill="#444" fill-opacity="0.6" fill-rule="evenodd"/>
<path d="M1803.97 298.72 L1860.26 329.93 L1859.33 408.02 L1803.04 376.81 Z" fill="#1CC21C" fill-opacity="0.68"/>
<path d="M1844.91 321.42 L1860.26 329.93 L1860.19 335.51 L1844.84 327 Z M1855.08 332.67 L1860.19 335.51 L1860.12 341.09 L1855.01 338.25 Z M1855.01 338.25 L1860.12 341.09 L1860.06 346.66 L1854.94 343.83 Z M1819.12 323.96 L1844.71 338.15 L1844.64 343.73 L1819.06 329.54 Z M1819.06 329.54 L1844.64 343.73 L1844.58 349.31 L1818.99 335.12 Z M1818.99 335.12 L1839.46 346.47 L1839.39 352.05 L1818.92 340.7 Z M1854.81 354.98 L1859.92 357.82 L1859.86 363.4 L1854.74 360.56 Z M1849.62 357.72 L1859.86 363.4 L1859.79 368.97 L1849.56 363.3 Z M1854.68 366.14 L1859.79 368.97 L1859.72 374.55 L1854.61 371.72 Z M1818.79 351.85 L1844.38 366.04 L1844.31 371.62 L1818.72 357.43 Z M1818.72 357.43 L1844.31 371.62 L1844.24 377.2 L1818.66 363.01 Z M1818.66 363.01 L1844.24 377.2 L1844.18 382.77 L1818.59 368.59 Z M1818.59 368.59 L1839.06 379.94 L1838.99 385.51 L1818.52 374.16 Z M1854.28 399.6 L1859.39 402.44 L1859.33 408.02 L1854.21 405.18 Z " fill="#001000" fill-opacity="0.5"/>
<path d="M1860.26 329.93 L1803.97 298.72 L1803.04 376.81 L1859.33 408.02" fill="none" stroke="#7CFF7C" stroke-opacity="0.9" stroke-width="2.2"/>
<path d="M1781.4 289.95 L1857.7 333.4 L1857.5 433.3 L1781.2 389.85 Z M1791.55 306.84 L1847.5 338.71 L1847.35 416.41 L1791.4 384.54 Z" fill="#444" fill-opacity="0.6" fill-rule="evenodd"/>
<path d="M1791.55 306.84 L1847.5 338.71 L1847.35 416.41 L1791.4 384.54 Z" fill="#1CC21C" fill-opacity="0.68"/>
<path d="M1832.24 330.02 L1847.5 338.71 L1847.49 344.26 L1832.23 335.57 Z M1842.41 341.36 L1847.49 344.26 L1847.48 349.81 L1842.4 346.91 Z M1842.4 346.91 L1847.48 349.81 L1847.47 355.36 L1842.38 352.46 Z M1806.78 332.18 L1832.21 346.67 L1832.2 352.22 L1806.77 337.73 Z M1806.77 337.73 L1832.2 352.22 L1832.19 357.77 L1806.76 343.28 Z M1806.76 343.28 L1827.1 354.87 L1827.09 360.42 L1806.74 348.83 Z M1842.36 363.56 L1847.45 366.46 L1847.44 372.01 L1842.35 369.11 Z M1837.26 366.21 L1847.44 372.01 L1847.43 377.56 L1837.25 371.76 Z M1842.34 374.66 L1847.43 377.56 L1847.42 383.11 L1842.33 380.21 Z M1806.72 359.93 L1832.16 374.42 L1832.14 379.97 L1806.71 365.48 Z M1806.71 365.48 L1832.14 379.97 L1832.13 385.52 L1806.7 371.03 Z M1806.7 371.03 L1832.13 385.52 L1832.12 391.07 L1806.69 376.58 Z M1806.69 376.58 L1827.04 388.17 L1827.02 393.72 L1806.68 382.13 Z M1842.27 407.96 L1847.36 410.86 L1847.35 416.41 L1842.26 413.51 Z " fill="#001000" fill-opacity="0.5"/>
<path d="M1847.5 338.71 L1791.55 306.84 L1791.4 384.54 L1847.35 416.41" fill="none" stroke="#7CFF7C" stroke-opacity="0.9" stroke-width="2.2"/>
<path d="M1768.92 298.01 L1844.77 342.35 L1845.57 441.75 L1769.72 397.41 Z M1779.13 314.97 L1834.75 347.48 L1835.37 424.79 L1779.75 392.28 Z" fill="#444" fill-opacity="0.6" fill-rule="evenodd"/>
<path d="M1779.13 314.97 L1834.75 347.48 L1835.37 424.79 L1779.75 392.28 Z" fill="#1CC21C" fill-opacity="0.68"/>
<path d="M1819.58 338.62 L1834.75 347.48 L1834.8 353 L1819.62 344.14 Z M1829.74 350.05 L1834.8 353 L1834.84 358.53 L1829.78 355.57 Z M1829.78 355.57 L1834.84 358.53 L1834.88 364.05 L1829.83 361.09 Z M1794.43 340.4 L1819.71 355.18 L1819.76 360.7 L1794.47 345.92 Z M1794.47 345.92 L1819.76 360.7 L1819.8 366.23 L1794.52 351.45 Z M1794.52 351.45 L1814.75 363.27 L1814.79 368.79 L1794.56 356.97 Z M1829.92 372.14 L1834.97 375.09 L1835.02 380.62 L1829.96 377.66 Z M1824.9 374.7 L1835.02 380.62 L1835.06 386.14 L1824.95 380.23 Z M1830.01 383.18 L1835.06 386.14 L1835.11 391.66 L1830.05 388.7 Z M1794.65 368.01 L1819.94 382.79 L1819.98 388.32 L1794.7 373.54 Z M1794.7 373.54 L1819.98 388.32 L1820.02 393.84 L1794.74 379.06 Z M1794.74 379.06 L1820.02 393.84 L1820.07 399.36 L1794.79 384.58 Z M1794.79 384.58 L1815.01 396.4 L1815.06 401.93 L1794.83 390.1 Z M1830.27 416.32 L1835.33 419.27 L1835.37 424.79 L1830.32 421.84 Z " fill="#001000" fill-opacity="0.5"/>
<path d="M1834.75 347.48 L1779.13 314.97 L1779.75 392.28 L1835.37 424.79" fill="none" stroke="#7CFF7C" stroke-opacity="0.9" stroke-width="2.2"/>
<path d="M1756.45 306.07 L1831.85 351.3 L1833.65 450.2 L1758.25 404.98 Z M1766.7 323.09 L1822 356.26 L1823.4 433.18 L1768.1 400.02 Z" fill="#444" fill-opacity="0.6" fill-rule="evenodd"/>
<path d="M1766.7 323.09 L1822 356.26 L1823.4 433.18 L1768.1 400.02 Z" fill="#1CC21C" fill-opacity="0.68"/>
<path d="M1806.92 347.21 L1822 356.26 L1822.1 361.75 L1807.02 352.71 Z M1817.07 358.74 L1822.1 361.75 L1822.2 367.25 L1817.17 364.23 Z M1817.17 364.23 L1822.2 367.25 L1822.3 372.74 L1817.27 369.73 Z M1782.08 348.62 L1807.22 363.7 L1807.32 369.19 L1782.18 354.12 Z M1782.18 354.12 L1807.32 369.19 L1807.42 374.69 L1782.28 359.61 Z M1782.28 359.61 L1802.39 371.67 L1802.49 377.17 L1782.38 365.11 Z M1817.47 380.72 L1822.5 383.73 L1822.6 389.23 L1817.57 386.21 Z M1812.54 383.2 L1822.6 389.23 L1822.7 394.72 L1812.64 388.69 Z M1817.67 391.7 L1822.7 394.72 L1822.8 400.21 L1817.77 397.2 Z M1782.58 376.09 L1807.72 391.17 L1807.82 396.66 L1782.68 381.59 Z M1782.68 381.59 L1807.82 396.66 L1807.92 402.16 L1782.78 387.08 Z M1782.78 387.08 L1807.92 402.16 L1808.02 407.65 L1782.88 392.58 Z M1782.88 392.58 L1802.99 404.64 L1803.09 410.13 L1782.98 398.07 Z M1818.27 424.67 L1823.3 427.69 L1823.4 433.18 L1818.37 430.17 Z " fill="#001000" fill-opacity="0.5"/>
<path d="M1822 356.26 L1766.7 323.09 L1768.1 400.02 L1823.4 433.18" fill="none" stroke="#7CFF7C" stroke-opacity="0.9" stroke-width="2.2"/>
<path d="M1743.97 314.14 L1818.92 360.25 L1821.72 458.65 L1746.77 412.54 Z M1754.28 331.22 L1809.24 365.03 L1811.42 441.57 L1756.46 407.75 Z" fill="#444" fill-opacity="0.6" fill-rule="evenodd"/>
<path d="M1754.28 331.22 L1809.24 365.03 L1811.42 441.57 L1756.46 407.75 Z" fill="#1CC21C" fill-opacity="0.68"/>
<path d="M1794.25 355.81 L1809.24 365.03 L1809.4 370.5 L1794.41 361.28 Z M1804.4 367.43 L1809.4 370.5 L1809.55 375.97 L1804.56 372.89 Z M1804.56 372.89 L1809.55 375.97 L1809.71 381.43 L1804.71 378.36 Z M1769.74 356.84 L1794.72 372.21 L1794.88 377.68 L1769.89 362.31 Z M1769.89 362.31 L1794.88 377.68 L1795.03 383.15 L1770.05 367.77 Z M1770.05 367.77 L1790.03 380.07 L1790.19 385.54 L1770.2 373.24 Z M1805.02 389.29 L1810.02 392.37 L1810.18 397.83 L1805.18 394.76 Z M1800.18 391.69 L1810.18 397.83 L1810.33 403.3 L1800.34 397.15 Z M1805.34 400.23 L1810.33 403.3 L1810.49 408.77 L1805.49 405.69 Z M1770.51 384.18 L1795.5 399.55 L1795.65 405.01 L1770.67 389.64 Z M1770.67 389.64 L1795.65 405.01 L1795.81 410.48 L1770.82 395.11 Z M1770.82 395.11 L1795.81 410.48 L1795.96 415.95 L1770.98 400.57 Z M1770.98 400.57 L1790.97 412.87 L1791.12 418.34 L1771.14 406.04 Z M1806.27 433.03 L1811.26 436.1 L1811.42 441.57 L1806.42 438.49 Z " fill="#001000" fill-opacity="0.5"/>
<path d="M1809.24 365.03 L1754.28 331.22 L1756.46 407.75 L1811.42 441.57" fill="none" stroke="#7CFF7C" stroke-opacity="0.9" stroke-width="2.2"/>
<path d="M1731.5 322.2 L1806 369.2 L1809.8 467.1 L1735.3 420.1 Z M1741.86 339.34 L1796.49 373.81 L1799.44 449.96 L1744.81 415.49 Z" fill="#444" fill-opacity="0.6" fill-rule="evenodd"/>
<path d="M1741.86 339.34 L1796.49 373.81 L1799.44 449.96 L1744.81 415.49 Z" fill="#3CF03C" fill-opacity="0.8"/>
<path d="M1781.59 364.41 L1796.49 373.81 L1796.7 379.25 L1781.8 369.85 Z M1791.73 376.12 L1796.7 379.25 L1796.91 384.69 L1791.94 381.56 Z M1791.94 381.56 L1796.91 384.69 L1797.12 390.13 L1792.16 386.99 Z M1757.39 365.06 L1782.22 380.73 L1782.43 386.17 L1757.6 370.5 Z M1757.6 370.5 L1782.43 386.17 L1782.64 391.61 L1757.81 375.94 Z M1757.81 375.94 L1777.68 388.47 L1777.89 393.91 L1758.02 381.38 Z M1792.58 397.87 L1797.54 401.01 L1797.76 406.44 L1792.79 403.31 Z M1787.82 400.18 L1797.76 406.44 L1797.97 411.88 L1788.03 405.62 Z M1793 408.75 L1797.97 411.88 L1798.18 417.32 L1793.21 414.19 Z M1758.44 392.26 L1783.28 407.92 L1783.49 413.36 L1758.66 397.69 Z M1758.66 397.69 L1783.49 413.36 L1783.7 418.8 L1758.87 403.13 Z M1758.87 403.13 L1783.7 418.8 L1783.91 424.24 L1759.08 408.57 Z M1759.08 408.57 L1778.94 421.11 L1779.16 426.54 L1759.29 414.01 Z M1794.27 441.38 L1799.23 444.52 L1799.44 449.96 L1794.48 446.82 Z " fill="#001000" fill-opacity="0.5"/>
<path d="M1796.49 373.81 L1741.86 339.34 L1744.81 415.49 L1799.44 449.96" fill="none" stroke="#7CFF7C" stroke-opacity="0.9" stroke-width="2.2"/>
<path d="M1723.1 194.5 L1743.52 200.16 L1735.54 211.66 Z" fill="#000"/>
<path d="M1792.8 242.9 L1738.3 205.05" stroke="#000" stroke-width="4.2"/>
<path d="M1794.5 193.6 L1800.81 213.83 L1786.81 213.35 Z" fill="#000"/>
<path d="M1792.8 242.9 L1793.86 212.09" stroke="#000" stroke-width="4.2"/>
<path d="M1909.1 173.2 L1895.54 189.49 L1888.35 177.48 Z" fill="#000"/>
<path d="M1792.8 242.9 L1893.23 182.71" stroke="#000" stroke-width="4.2"/>
<text x="1719.5" y="220.4" font-size="29.5" fill="#000" text-anchor="middle" font-style="italic">x</text>
<text x="1779" y="213.9" font-size="29.5" fill="#000" text-anchor="middle" font-style="italic">y</text>
<text x="1919" y="174" font-size="29" font-style="italic" font-family="Liberation Serif" text-anchor="middle">&#955;</text>
<path d="M1723.6 438.8 L1744.09 444.2 L1736.25 455.8 Z" fill="#000"/>
<path d="M1794.2 486.5 L1738.93 449.16" stroke="#000" stroke-width="4.2"/>
<path d="M1794.2 437.9 L1801.2 457.9 L1787.2 457.9 Z" fill="#000"/>
<path d="M1794.2 486.5 L1794.2 456.4" stroke="#000" stroke-width="4.2"/>
<path d="M1909.1 417.6 L1895.55 433.89 L1888.35 421.88 Z" fill="#000"/>
<path d="M1794.2 486.5 L1893.23 427.11" stroke="#000" stroke-width="4.2"/>
<text x="1719.5" y="464" font-size="29.5" fill="#000" text-anchor="middle" font-style="italic">x</text>
<text x="1779" y="457.5" font-size="29.5" fill="#000" text-anchor="middle" font-style="italic">y</text>
<text x="1916" y="420" font-size="29.5" fill="#000" text-anchor="middle" font-style="italic">t</text>
<text x="1066.32" y="614.3" font-size="37" fill="#000" font-weight="bold">h</text>
<text x="1191.6" y="597" font-size="29.5" fill="#000">532 nm</text>
<text x="1453.3" y="596.8" font-size="29.5" fill="#000" textLength="100.3" lengthAdjust="spacing">635 nm</text>
<text x="1715.1" y="596.8" font-size="29.5" fill="#000" textLength="99.5" lengthAdjust="spacing">785 nm</text>
<text x="1114.5" y="744.8" font-size="29.5" text-anchor="middle"><tspan font-style="italic">t</tspan> = 0</text>
<text x="1114.8" y="1017.7" font-size="29.5" text-anchor="middle"><tspan font-style="italic">t</tspan> = 5 min</text>
<g shape-rendering="crispEdges">
<rect x="1184.3" y="610.1" width="212.5" height="254.7" fill="#001000"/>
<rect x="1184.3" y="610.1" width="14.77" height="14.75" fill="#000e00"/>
<rect x="1198.47" y="610.1" width="14.77" height="14.75" fill="#001200"/>
<rect x="1212.63" y="610.1" width="14.77" height="14.75" fill="#001200"/>
<rect x="1226.8" y="610.1" width="14.77" height="14.75" fill="#000f00"/>
<rect x="1240.97" y="610.1" width="14.77" height="14.75" fill="#001000"/>
<rect x="1255.13" y="610.1" width="14.77" height="14.75" fill="#001000"/>
<rect x="1269.3" y="610.1" width="14.77" height="14.75" fill="#001100"/>
<rect x="1283.47" y="610.1" width="14.77" height="14.75" fill="#001200"/>
<rect x="1297.63" y="610.1" width="14.77" height="14.75" fill="#000e00"/>
<rect x="1311.8" y="610.1" width="14.77" height="14.75" fill="#000d00"/>
<rect x="1325.97" y="610.1" width="14.77" height="14.75" fill="#001200"/>
<rect x="1340.13" y="610.1" width="14.77" height="14.75" fill="#001000"/>
<rect x="1354.3" y="610.1" width="14.77" height="14.75" fill="#001200"/>
<rect x="1368.47" y="610.1" width="14.77" height="14.75" fill="#000d00"/>
<rect x="1382.63" y="610.1" width="14.77" height="14.75" fill="#001000"/>
<rect x="1184.3" y="624.25" width="14.77" height="14.75" fill="#001100"/>
<rect x="1198.47" y="624.25" width="14.77" height="14.75" fill="#000e00"/>
<rect x="1212.63" y="624.25" width="14.77" height="14.75" fill="#001300"/>
<rect x="1226.8" y="624.25" width="14.77" height="14.75" fill="#001200"/>
<rect x="1240.97" y="624.25" width="14.77" height="14.75" fill="#000d00"/>
<rect x="1255.13" y="624.25" width="14.77" height="14.75" fill="#000d00"/>
<rect x="1269.3" y="624.25" width="14.77" height="14.75" fill="#001000"/>
<rect x="1283.47" y="624.25" width="14.77" height="14.75" fill="#001300"/>
<rect x="1297.63" y="624.25" width="14.77" height="14.75" fill="#000f00"/>
<rect x="1311.8" y="624.25" width="14.77" height="14.75" fill="#000e00"/>
<rect x="1325.97" y="624.25" width="14.77" height="14.75" fill="#001000"/>
<rect x="1340.13" y="624.25" width="14.77" height="14.75" fill="#000d00"/>
<rect x="1354.3" y="624.25" width="14.77" height="14.75" fill="#000e00"/>
<rect x="1368.47" y="624.25" width="14.77" height="14.75" fill="#001000"/>
<rect x="1382.63" y="624.25" width="14.77" height="14.75" fill="#001000"/>
<rect x="1184.3" y="638.4" width="14.77" height="14.75" fill="#000e00"/>
<rect x="1198.47" y="638.4" width="14.77" height="14.75" fill="#000e00"/>
<rect x="1212.63" y="638.4" width="14.77" height="14.75" fill="#00ec00"/>
<rect x="1226.8" y="638.4" width="14.77" height="14.75" fill="#00ef00"/>
<rect x="1240.97" y="638.4" width="14.77" height="14.75" fill="#00ee00"/>
<rect x="1255.13" y="638.4" width="14.77" height="14.75" fill="#00ec00"/>
<rect x="1269.3" y="638.4" width="14.77" height="14.75" fill="#00f400"/>
<rect x="1283.47" y="638.4" width="14.77" height="14.75" fill="#00f200"/>
<rect x="1297.63" y="638.4" width="14.77" height="14.75" fill="#00f400"/>
<rect x="1311.8" y="638.4" width="14.77" height="14.75" fill="#00f000"/>
<rect x="1325.97" y="638.4" width="14.77" height="14.75" fill="#001300"/>
<rect x="1340.13" y="638.4" width="14.77" height="14.75" fill="#001200"/>
<rect x="1354.3" y="638.4" width="14.77" height="14.75" fill="#000e00"/>
<rect x="1368.47" y="638.4" width="14.77" height="14.75" fill="#000f00"/>
<rect x="1382.63" y="638.4" width="14.77" height="14.75" fill="#001100"/>
<rect x="1184.3" y="652.55" width="14.77" height="14.75" fill="#001100"/>
<rect x="1198.47" y="652.55" width="14.77" height="14.75" fill="#001300"/>
<rect x="1212.63" y="652.55" width="14.77" height="14.75" fill="#00ed00"/>
<rect x="1226.8" y="652.55" width="14.77" height="14.75" fill="#00f200"/>
<rect x="1240.97" y="652.55" width="14.77" height="14.75" fill="#00f100"/>
<rect x="1255.13" y="652.55" width="14.77" height="14.75" fill="#00ee00"/>
<rect x="1269.3" y="652.55" width="14.77" height="14.75" fill="#00f100"/>
<rect x="1283.47" y="652.55" width="14.77" height="14.75" fill="#00f400"/>
<rect x="1297.63" y="652.55" width="14.77" height="14.75" fill="#00f500"/>
<rect x="1311.8" y="652.55" width="14.77" height="14.75" fill="#00f200"/>
<rect x="1325.97" y="652.55" width="14.77" height="14.75" fill="#00f300"/>
<rect x="1340.13" y="652.55" width="14.77" height="14.75" fill="#00ee00"/>
<rect x="1354.3" y="652.55" width="14.77" height="14.75" fill="#000e00"/>
<rect x="1368.47" y="652.55" width="14.77" height="14.75" fill="#001200"/>
<rect x="1382.63" y="652.55" width="14.77" height="14.75" fill="#000f00"/>
<rect x="1184.3" y="666.7" width="14.77" height="14.75" fill="#000e00"/>
<rect x="1198.47" y="666.7" width="14.77" height="14.75" fill="#001000"/>
<rect x="1212.63" y="666.7" width="14.77" height="14.75" fill="#00ef00"/>
<rect x="1226.8" y="666.7" width="14.77" height="14.75" fill="#00ef00"/>
<rect x="1240.97" y="666.7" width="14.77" height="14.75" fill="#00ed00"/>
<rect x="1255.13" y="666.7" width="14.77" height="14.75" fill="#00ee00"/>
<rect x="1269.3" y="666.7" width="14.77" height="14.75" fill="#00ef00"/>
<rect x="1283.47" y="666.7" width="14.77" height="14.75" fill="#00f200"/>
<rect x="1297.63" y="666.7" width="14.77" height="14.75" fill="#00f000"/>
<rect x="1311.8" y="666.7" width="14.77" height="14.75" fill="#00f000"/>
<rect x="1325.97" y="666.7" width="14.77" height="14.75" fill="#00f100"/>
<rect x="1340.13" y="666.7" width="14.77" height="14.75" fill="#00ed00"/>
<rect x="1354.3" y="666.7" width="14.77" height="14.75" fill="#000d00"/>
<rect x="1368.47" y="666.7" width="14.77" height="14.75" fill="#001100"/>
<rect x="1382.63" y="666.7" width="14.77" height="14.75" fill="#001300"/>
<rect x="1184.3" y="680.85" width="14.77" height="14.75" fill="#001100"/>
<rect x="1198.47" y="680.85" width="14.77" height="14.75" fill="#000f00"/>
<rect x="1212.63" y="680.85" width="14.77" height="14.75" fill="#00e900"/>
<rect x="1226.8" y="680.85" width="14.77" height="14.75" fill="#00ed00"/>
<rect x="1240.97" y="680.85" width="14.77" height="14.75" fill="#00f200"/>
<rect x="1255.13" y="680.85" width="14.77" height="14.75" fill="#001200"/>
<rect x="1269.3" y="680.85" width="14.77" height="14.75" fill="#001000"/>
<rect x="1283.47" y="680.85" width="14.77" height="14.75" fill="#001200"/>
<rect x="1297.63" y="680.85" width="14.77" height="14.75" fill="#000e00"/>
<rect x="1311.8" y="680.85" width="14.77" height="14.75" fill="#001000"/>
<rect x="1325.97" y="680.85" width="14.77" height="14.75" fill="#00f500"/>
<rect x="1340.13" y="680.85" width="14.77" height="14.75" fill="#00f100"/>
<rect x="1354.3" y="680.85" width="14.77" height="14.75" fill="#00f100"/>
<rect x="1368.47" y="680.85" width="14.77" height="14.75" fill="#000f00"/>
<rect x="1382.63" y="680.85" width="14.77" height="14.75" fill="#001000"/>
<rect x="1184.3" y="695" width="14.77" height="14.75" fill="#001300"/>
<rect x="1198.47" y="695" width="14.77" height="14.75" fill="#000d00"/>
<rect x="1212.63" y="695" width="14.77" height="14.75" fill="#00ee00"/>
<rect x="1226.8" y="695" width="14.77" height="14.75" fill="#00ef00"/>
<rect x="1240.97" y="695" width="14.77" height="14.75" fill="#00f000"/>
<rect x="1255.13" y="695" width="14.77" height="14.75" fill="#001100"/>
<rect x="1269.3" y="695" width="14.77" height="14.75" fill="#001200"/>
<rect x="1283.47" y="695" width="14.77" height="14.75" fill="#001000"/>
<rect x="1297.63" y="695" width="14.77" height="14.75" fill="#001000"/>
<rect x="1311.8" y="695" width="14.77" height="14.75" fill="#001000"/>
<rect x="1325.97" y="695" width="14.77" height="14.75" fill="#00eb00"/>
<rect x="1340.13" y="695" width="14.77" height="14.75" fill="#00f300"/>
<rect x="1354.3" y="695" width="14.77" height="14.75" fill="#00f100"/>
<rect x="1368.47" y="695" width="14.77" height="14.75" fill="#000e00"/>
<rect x="1382.63" y="695" width="14.77" height="14.75" fill="#001000"/>
<rect x="1184.3" y="709.15" width="14.77" height="14.75" fill="#001000"/>
<rect x="1198.47" y="709.15" width="14.77" height="14.75" fill="#000f00"/>
<rect x="1212.63" y="709.15" width="14.77" height="14.75" fill="#00e900"/>
<rect x="1226.8" y="709.15" width="14.77" height="14.75" fill="#00eb00"/>
<rect x="1240.97" y="709.15" width="14.77" height="14.75" fill="#00ec00"/>
<rect x="1255.13" y="709.15" width="14.77" height="14.75" fill="#001100"/>
<rect x="1269.3" y="709.15" width="14.77" height="14.75" fill="#001000"/>
<rect x="1283.47" y="709.15" width="14.77" height="14.75" fill="#000d00"/>
<rect x="1297.63" y="709.15" width="14.77" height="14.75" fill="#000e00"/>
<rect x="1311.8" y="709.15" width="14.77" height="14.75" fill="#00ea00"/>
<rect x="1325.97" y="709.15" width="14.77" height="14.75" fill="#00ef00"/>
<rect x="1340.13" y="709.15" width="14.77" height="14.75" fill="#00f200"/>
<rect x="1354.3" y="709.15" width="14.77" height="14.75" fill="#001200"/>
<rect x="1368.47" y="709.15" width="14.77" height="14.75" fill="#001200"/>
<rect x="1382.63" y="709.15" width="14.77" height="14.75" fill="#001200"/>
<rect x="1184.3" y="723.3" width="14.77" height="14.75" fill="#000f00"/>
<rect x="1198.47" y="723.3" width="14.77" height="14.75" fill="#001200"/>
<rect x="1212.63" y="723.3" width="14.77" height="14.75" fill="#00eb00"/>
<rect x="1226.8" y="723.3" width="14.77" height="14.75" fill="#00e500"/>
<rect x="1240.97" y="723.3" width="14.77" height="14.75" fill="#00e500"/>
<rect x="1255.13" y="723.3" width="14.77" height="14.75" fill="#00e600"/>
<rect x="1269.3" y="723.3" width="14.77" height="14.75" fill="#00ee00"/>
<rect x="1283.47" y="723.3" width="14.77" height="14.75" fill="#00e900"/>
<rect x="1297.63" y="723.3" width="14.77" height="14.75" fill="#00e800"/>
<rect x="1311.8" y="723.3" width="14.77" height="14.75" fill="#00ee00"/>
<rect x="1325.97" y="723.3" width="14.77" height="14.75" fill="#00ec00"/>
<rect x="1340.13" y="723.3" width="14.77" height="14.75" fill="#000d00"/>
<rect x="1354.3" y="723.3" width="14.77" height="14.75" fill="#000e00"/>
<rect x="1368.47" y="723.3" width="14.77" height="14.75" fill="#001000"/>
<rect x="1382.63" y="723.3" width="14.77" height="14.75" fill="#000e00"/>
<rect x="1184.3" y="737.45" width="14.77" height="14.75" fill="#000f00"/>
<rect x="1198.47" y="737.45" width="14.77" height="14.75" fill="#001100"/>
<rect x="1212.63" y="737.45" width="14.77" height="14.75" fill="#00e800"/>
<rect x="1226.8" y="737.45" width="14.77" height="14.75" fill="#00e700"/>
<rect x="1240.97" y="737.45" width="14.77" height="14.75" fill="#00e900"/>
<rect x="1255.13" y="737.45" width="14.77" height="14.75" fill="#00e500"/>
<rect x="1269.3" y="737.45" width="14.77" height="14.75" fill="#00e900"/>
<rect x="1283.47" y="737.45" width="14.77" height="14.75" fill="#00ea00"/>
<rect x="1297.63" y="737.45" width="14.77" height="14.75" fill="#00e800"/>
<rect x="1311.8" y="737.45" width="14.77" height="14.75" fill="#00e800"/>
<rect x="1325.97" y="737.45" width="14.77" height="14.75" fill="#00f000"/>
<rect x="1340.13" y="737.45" width="14.77" height="14.75" fill="#00ed00"/>
<rect x="1354.3" y="737.45" width="14.77" height="14.75" fill="#000e00"/>
<rect x="1368.47" y="737.45" width="14.77" height="14.75" fill="#001100"/>
<rect x="1382.63" y="737.45" width="14.77" height="14.75" fill="#001200"/>
<rect x="1184.3" y="751.6" width="14.77" height="14.75" fill="#000d00"/>
<rect x="1198.47" y="751.6" width="14.77" height="14.75" fill="#000d00"/>
<rect x="1212.63" y="751.6" width="14.77" height="14.75" fill="#00e400"/>
<rect x="1226.8" y="751.6" width="14.77" height="14.75" fill="#00ea00"/>
<rect x="1240.97" y="751.6" width="14.77" height="14.75" fill="#00e500"/>
<rect x="1255.13" y="751.6" width="14.77" height="14.75" fill="#001100"/>
<rect x="1269.3" y="751.6" width="14.77" height="14.75" fill="#001100"/>
<rect x="1283.47" y="751.6" width="14.77" height="14.75" fill="#001000"/>
<rect x="1297.63" y="751.6" width="14.77" height="14.75" fill="#000e00"/>
<rect x="1311.8" y="751.6" width="14.77" height="14.75" fill="#001300"/>
<rect x="1325.97" y="751.6" width="14.77" height="14.75" fill="#00ee00"/>
<rect x="1340.13" y="751.6" width="14.77" height="14.75" fill="#00ec00"/>
<rect x="1354.3" y="751.6" width="14.77" height="14.75" fill="#00ea00"/>
<rect x="1368.47" y="751.6" width="14.77" height="14.75" fill="#001100"/>
<rect x="1382.63" y="751.6" width="14.77" height="14.75" fill="#000f00"/>
<rect x="1184.3" y="765.75" width="14.77" height="14.75" fill="#001000"/>
<rect x="1198.47" y="765.75" width="14.77" height="14.75" fill="#000f00"/>
<rect x="1212.63" y="765.75" width="14.77" height="14.75" fill="#00e700"/>
<rect x="1226.8" y="765.75" width="14.77" height="14.75" fill="#00e200"/>
<rect x="1240.97" y="765.75" width="14.77" height="14.75" fill="#00e500"/>
<rect x="1255.13" y="765.75" width="14.77" height="14.75" fill="#001300"/>
<rect x="1269.3" y="765.75" width="14.77" height="14.75" fill="#001200"/>
<rect x="1283.47" y="765.75" width="14.77" height="14.75" fill="#000f00"/>
<rect x="1297.63" y="765.75" width="14.77" height="14.75" fill="#001200"/>
<rect x="1311.8" y="765.75" width="14.77" height="14.75" fill="#000f00"/>
<rect x="1325.97" y="765.75" width="14.77" height="14.75" fill="#00ef00"/>
<rect x="1340.13" y="765.75" width="14.77" height="14.75" fill="#00ed00"/>
<rect x="1354.3" y="765.75" width="14.77" height="14.75" fill="#00ea00"/>
<rect x="1368.47" y="765.75" width="14.77" height="14.75" fill="#000f00"/>
<rect x="1382.63" y="765.75" width="14.77" height="14.75" fill="#000d00"/>
<rect x="1184.3" y="779.9" width="14.77" height="14.75" fill="#001200"/>
<rect x="1198.47" y="779.9" width="14.77" height="14.75" fill="#000d00"/>
<rect x="1212.63" y="779.9" width="14.77" height="14.75" fill="#00e800"/>
<rect x="1226.8" y="779.9" width="14.77" height="14.75" fill="#00ea00"/>
<rect x="1240.97" y="779.9" width="14.77" height="14.75" fill="#00e700"/>
<rect x="1255.13" y="779.9" width="14.77" height="14.75" fill="#000e00"/>
<rect x="1269.3" y="779.9" width="14.77" height="14.75" fill="#001200"/>
<rect x="1283.47" y="779.9" width="14.77" height="14.75" fill="#001300"/>
<rect x="1297.63" y="779.9" width="14.77" height="14.75" fill="#001100"/>
<rect x="1311.8" y="779.9" width="14.77" height="14.75" fill="#001000"/>
<rect x="1325.97" y="779.9" width="14.77" height="14.75" fill="#00e800"/>
<rect x="1340.13" y="779.9" width="14.77" height="14.75" fill="#00e800"/>
<rect x="1354.3" y="779.9" width="14.77" height="14.75" fill="#00e700"/>
<rect x="1368.47" y="779.9" width="14.77" height="14.75" fill="#001100"/>
<rect x="1382.63" y="779.9" width="14.77" height="14.75" fill="#001000"/>
<rect x="1184.3" y="794.05" width="14.77" height="14.75" fill="#000e00"/>
<rect x="1198.47" y="794.05" width="14.77" height="14.75" fill="#000e00"/>
<rect x="1212.63" y="794.05" width="14.77" height="14.75" fill="#00e600"/>
<rect x="1226.8" y="794.05" width="14.77" height="14.75" fill="#00e300"/>
<rect x="1240.97" y="794.05" width="14.77" height="14.75" fill="#00e500"/>
<rect x="1255.13" y="794.05" width="14.77" height="14.75" fill="#000f00"/>
<rect x="1269.3" y="794.05" width="14.77" height="14.75" fill="#001200"/>
<rect x="1283.47" y="794.05" width="14.77" height="14.75" fill="#001200"/>
<rect x="1297.63" y="794.05" width="14.77" height="14.75" fill="#000d00"/>
<rect x="1311.8" y="794.05" width="14.77" height="14.75" fill="#00e500"/>
<rect x="1325.97" y="794.05" width="14.77" height="14.75" fill="#00e700"/>
<rect x="1340.13" y="794.05" width="14.77" height="14.75" fill="#00ee00"/>
<rect x="1354.3" y="794.05" width="14.77" height="14.75" fill="#00ec00"/>
<rect x="1368.47" y="794.05" width="14.77" height="14.75" fill="#000f00"/>
<rect x="1382.63" y="794.05" width="14.77" height="14.75" fill="#000e00"/>
<rect x="1184.3" y="808.2" width="14.77" height="14.75" fill="#001100"/>
<rect x="1198.47" y="808.2" width="14.77" height="14.75" fill="#001200"/>
<rect x="1212.63" y="808.2" width="14.77" height="14.75" fill="#00e800"/>
<rect x="1226.8" y="808.2" width="14.77" height="14.75" fill="#00e200"/>
<rect x="1240.97" y="808.2" width="14.77" height="14.75" fill="#00e800"/>
<rect x="1255.13" y="808.2" width="14.77" height="14.75" fill="#00e700"/>
<rect x="1269.3" y="808.2" width="14.77" height="14.75" fill="#00e500"/>
<rect x="1283.47" y="808.2" width="14.77" height="14.75" fill="#00eb00"/>
<rect x="1297.63" y="808.2" width="14.77" height="14.75" fill="#00e400"/>
<rect x="1311.8" y="808.2" width="14.77" height="14.75" fill="#00e900"/>
<rect x="1325.97" y="808.2" width="14.77" height="14.75" fill="#00e300"/>
<rect x="1340.13" y="808.2" width="14.77" height="14.75" fill="#00e500"/>
<rect x="1354.3" y="808.2" width="14.77" height="14.75" fill="#00ec00"/>
<rect x="1368.47" y="808.2" width="14.77" height="14.75" fill="#000e00"/>
<rect x="1382.63" y="808.2" width="14.77" height="14.75" fill="#001200"/>
<rect x="1184.3" y="822.35" width="14.77" height="14.75" fill="#001100"/>
<rect x="1198.47" y="822.35" width="14.77" height="14.75" fill="#001200"/>
<rect x="1212.63" y="822.35" width="14.77" height="14.75" fill="#00e100"/>
<rect x="1226.8" y="822.35" width="14.77" height="14.75" fill="#00e100"/>
<rect x="1240.97" y="822.35" width="14.77" height="14.75" fill="#00e100"/>
<rect x="1255.13" y="822.35" width="14.77" height="14.75" fill="#00e700"/>
<rect x="1269.3" y="822.35" width="14.77" height="14.75" fill="#00e500"/>
<rect x="1283.47" y="822.35" width="14.77" height="14.75" fill="#00e900"/>
<rect x="1297.63" y="822.35" width="14.77" height="14.75" fill="#00e900"/>
<rect x="1311.8" y="822.35" width="14.77" height="14.75" fill="#00e200"/>
<rect x="1325.97" y="822.35" width="14.77" height="14.75" fill="#00e700"/>
<rect x="1340.13" y="822.35" width="14.77" height="14.75" fill="#00e300"/>
<rect x="1354.3" y="822.35" width="14.77" height="14.75" fill="#000d00"/>
<rect x="1368.47" y="822.35" width="14.77" height="14.75" fill="#000d00"/>
<rect x="1382.63" y="822.35" width="14.77" height="14.75" fill="#001200"/>
<rect x="1184.3" y="836.5" width="14.77" height="14.75" fill="#001200"/>
<rect x="1198.47" y="836.5" width="14.77" height="14.75" fill="#001200"/>
<rect x="1212.63" y="836.5" width="14.77" height="14.75" fill="#000f00"/>
<rect x="1226.8" y="836.5" width="14.77" height="14.75" fill="#001100"/>
<rect x="1240.97" y="836.5" width="14.77" height="14.75" fill="#001200"/>
<rect x="1255.13" y="836.5" width="14.77" height="14.75" fill="#000f00"/>
<rect x="1269.3" y="836.5" width="14.77" height="14.75" fill="#001000"/>
<rect x="1283.47" y="836.5" width="14.77" height="14.75" fill="#000e00"/>
<rect x="1297.63" y="836.5" width="14.77" height="14.75" fill="#000d00"/>
<rect x="1311.8" y="836.5" width="14.77" height="14.75" fill="#000f00"/>
<rect x="1325.97" y="836.5" width="14.77" height="14.75" fill="#001200"/>
<rect x="1340.13" y="836.5" width="14.77" height="14.75" fill="#001000"/>
<rect x="1354.3" y="836.5" width="14.77" height="14.75" fill="#001300"/>
<rect x="1368.47" y="836.5" width="14.77" height="14.75" fill="#001000"/>
<rect x="1382.63" y="836.5" width="14.77" height="14.75" fill="#000f00"/>
<rect x="1184.3" y="850.65" width="14.77" height="14.75" fill="#001200"/>
<rect x="1198.47" y="850.65" width="14.77" height="14.75" fill="#001200"/>
<rect x="1212.63" y="850.65" width="14.77" height="14.75" fill="#000d00"/>
<rect x="1226.8" y="850.65" width="14.77" height="14.75" fill="#001100"/>
<rect x="1240.97" y="850.65" width="14.77" height="14.75" fill="#000e00"/>
<rect x="1255.13" y="850.65" width="14.77" height="14.75" fill="#000e00"/>
<rect x="1269.3" y="850.65" width="14.77" height="14.75" fill="#001200"/>
<rect x="1283.47" y="850.65" width="14.77" height="14.75" fill="#000d00"/>
<rect x="1297.63" y="850.65" width="14.77" height="14.75" fill="#000e00"/>
<rect x="1311.8" y="850.65" width="14.77" height="14.75" fill="#001300"/>
<rect x="1325.97" y="850.65" width="14.77" height="14.75" fill="#001000"/>
<rect x="1340.13" y="850.65" width="14.77" height="14.75" fill="#000e00"/>
<rect x="1354.3" y="850.65" width="14.77" height="14.75" fill="#000e00"/>
<rect x="1368.47" y="850.65" width="14.77" height="14.75" fill="#000e00"/>
<rect x="1382.63" y="850.65" width="14.77" height="14.75" fill="#001100"/>
</g>
<g shape-rendering="crispEdges">
<rect x="1184.4" y="893.8" width="212.7" height="254.5" fill="#000e00"/>
<rect x="1184.4" y="893.8" width="14.78" height="14.74" fill="#001100"/>
<rect x="1198.58" y="893.8" width="14.78" height="14.74" fill="#001100"/>
<rect x="1212.76" y="893.8" width="14.78" height="14.74" fill="#000b00"/>
<rect x="1226.94" y="893.8" width="14.78" height="14.74" fill="#000c00"/>
<rect x="1241.12" y="893.8" width="14.78" height="14.74" fill="#001000"/>
<rect x="1255.3" y="893.8" width="14.78" height="14.74" fill="#000f00"/>
<rect x="1269.48" y="893.8" width="14.78" height="14.74" fill="#000f00"/>
<rect x="1283.66" y="893.8" width="14.78" height="14.74" fill="#000d00"/>
<rect x="1297.84" y="893.8" width="14.78" height="14.74" fill="#000f00"/>
<rect x="1312.02" y="893.8" width="14.78" height="14.74" fill="#000f00"/>
<rect x="1326.2" y="893.8" width="14.78" height="14.74" fill="#000e00"/>
<rect x="1340.38" y="893.8" width="14.78" height="14.74" fill="#000c00"/>
<rect x="1354.56" y="893.8" width="14.78" height="14.74" fill="#000e00"/>
<rect x="1368.74" y="893.8" width="14.78" height="14.74" fill="#000d00"/>
<rect x="1382.92" y="893.8" width="14.78" height="14.74" fill="#000f00"/>
<rect x="1184.4" y="907.94" width="14.78" height="14.74" fill="#001100"/>
<rect x="1198.58" y="907.94" width="14.78" height="14.74" fill="#001100"/>
<rect x="1212.76" y="907.94" width="14.78" height="14.74" fill="#000e00"/>
<rect x="1226.94" y="907.94" width="14.78" height="14.74" fill="#000e00"/>
<rect x="1241.12" y="907.94" width="14.78" height="14.74" fill="#000d00"/>
<rect x="1255.3" y="907.94" width="14.78" height="14.74" fill="#000b00"/>
<rect x="1269.48" y="907.94" width="14.78" height="14.74" fill="#000b00"/>
<rect x="1283.66" y="907.94" width="14.78" height="14.74" fill="#000e00"/>
<rect x="1297.84" y="907.94" width="14.78" height="14.74" fill="#000d00"/>
<rect x="1312.02" y="907.94" width="14.78" height="14.74" fill="#000d00"/>
<rect x="1326.2" y="907.94" width="14.78" height="14.74" fill="#001000"/>
<rect x="1340.38" y="907.94" width="14.78" height="14.74" fill="#000e00"/>
<rect x="1354.56" y="907.94" width="14.78" height="14.74" fill="#000e00"/>
<rect x="1368.74" y="907.94" width="14.78" height="14.74" fill="#000c00"/>
<rect x="1382.92" y="907.94" width="14.78" height="14.74" fill="#000b00"/>
<rect x="1184.4" y="922.08" width="14.78" height="14.74" fill="#000d00"/>
<rect x="1198.58" y="922.08" width="14.78" height="14.74" fill="#000c00"/>
<rect x="1212.76" y="922.08" width="14.78" height="14.74" fill="#00bf00"/>
<rect x="1226.94" y="922.08" width="14.78" height="14.74" fill="#00c400"/>
<rect x="1241.12" y="922.08" width="14.78" height="14.74" fill="#00c100"/>
<rect x="1255.3" y="922.08" width="14.78" height="14.74" fill="#00be00"/>
<rect x="1269.48" y="922.08" width="14.78" height="14.74" fill="#00c400"/>
<rect x="1283.66" y="922.08" width="14.78" height="14.74" fill="#00c400"/>
<rect x="1297.84" y="922.08" width="14.78" height="14.74" fill="#00c400"/>
<rect x="1312.02" y="922.08" width="14.78" height="14.74" fill="#00c500"/>
<rect x="1326.2" y="922.08" width="14.78" height="14.74" fill="#001000"/>
<rect x="1340.38" y="922.08" width="14.78" height="14.74" fill="#001000"/>
<rect x="1354.56" y="922.08" width="14.78" height="14.74" fill="#000d00"/>
<rect x="1368.74" y="922.08" width="14.78" height="14.74" fill="#001100"/>
<rect x="1382.92" y="922.08" width="14.78" height="14.74" fill="#001100"/>
<rect x="1184.4" y="936.22" width="14.78" height="14.74" fill="#000c00"/>
<rect x="1198.58" y="936.22" width="14.78" height="14.74" fill="#001000"/>
<rect x="1212.76" y="936.22" width="14.78" height="14.74" fill="#00c000"/>
<rect x="1226.94" y="936.22" width="14.78" height="14.74" fill="#00bf00"/>
<rect x="1241.12" y="936.22" width="14.78" height="14.74" fill="#00c000"/>
<rect x="1255.3" y="936.22" width="14.78" height="14.74" fill="#00c000"/>
<rect x="1269.48" y="936.22" width="14.78" height="14.74" fill="#00c300"/>
<rect x="1283.66" y="936.22" width="14.78" height="14.74" fill="#00c100"/>
<rect x="1297.84" y="936.22" width="14.78" height="14.74" fill="#00c400"/>
<rect x="1312.02" y="936.22" width="14.78" height="14.74" fill="#00c000"/>
<rect x="1326.2" y="936.22" width="14.78" height="14.74" fill="#00c500"/>
<rect x="1340.38" y="936.22" width="14.78" height="14.74" fill="#00c500"/>
<rect x="1354.56" y="936.22" width="14.78" height="14.74" fill="#000e00"/>
<rect x="1368.74" y="936.22" width="14.78" height="14.74" fill="#000e00"/>
<rect x="1382.92" y="936.22" width="14.78" height="14.74" fill="#001100"/>
<rect x="1184.4" y="950.36" width="14.78" height="14.74" fill="#000f00"/>
<rect x="1198.58" y="950.36" width="14.78" height="14.74" fill="#000e00"/>
<rect x="1212.76" y="950.36" width="14.78" height="14.74" fill="#00bb00"/>
<rect x="1226.94" y="950.36" width="14.78" height="14.74" fill="#00bd00"/>
<rect x="1241.12" y="950.36" width="14.78" height="14.74" fill="#00c000"/>
<rect x="1255.3" y="950.36" width="14.78" height="14.74" fill="#00bc00"/>
<rect x="1269.48" y="950.36" width="14.78" height="14.74" fill="#00c300"/>
<rect x="1283.66" y="950.36" width="14.78" height="14.74" fill="#00be00"/>
<rect x="1297.84" y="950.36" width="14.78" height="14.74" fill="#00c300"/>
<rect x="1312.02" y="950.36" width="14.78" height="14.74" fill="#00bf00"/>
<rect x="1326.2" y="950.36" width="14.78" height="14.74" fill="#00c500"/>
<rect x="1340.38" y="950.36" width="14.78" height="14.74" fill="#00c300"/>
<rect x="1354.56" y="950.36" width="14.78" height="14.74" fill="#000e00"/>
<rect x="1368.74" y="950.36" width="14.78" height="14.74" fill="#000e00"/>
<rect x="1382.92" y="950.36" width="14.78" height="14.74" fill="#000f00"/>
<rect x="1184.4" y="964.49" width="14.78" height="14.74" fill="#000f00"/>
<rect x="1198.58" y="964.49" width="14.78" height="14.74" fill="#000d00"/>
<rect x="1212.76" y="964.49" width="14.78" height="14.74" fill="#00bb00"/>
<rect x="1226.94" y="964.49" width="14.78" height="14.74" fill="#00bd00"/>
<rect x="1241.12" y="964.49" width="14.78" height="14.74" fill="#00c100"/>
<rect x="1255.3" y="964.49" width="14.78" height="14.74" fill="#000f00"/>
<rect x="1269.48" y="964.49" width="14.78" height="14.74" fill="#000b00"/>
<rect x="1283.66" y="964.49" width="14.78" height="14.74" fill="#001000"/>
<rect x="1297.84" y="964.49" width="14.78" height="14.74" fill="#000f00"/>
<rect x="1312.02" y="964.49" width="14.78" height="14.74" fill="#001000"/>
<rect x="1326.2" y="964.49" width="14.78" height="14.74" fill="#00be00"/>
<rect x="1340.38" y="964.49" width="14.78" height="14.74" fill="#00c300"/>
<rect x="1354.56" y="964.49" width="14.78" height="14.74" fill="#00bd00"/>
<rect x="1368.74" y="964.49" width="14.78" height="14.74" fill="#000f00"/>
<rect x="1382.92" y="964.49" width="14.78" height="14.74" fill="#000d00"/>
<rect x="1184.4" y="978.63" width="14.78" height="14.74" fill="#000c00"/>
<rect x="1198.58" y="978.63" width="14.78" height="14.74" fill="#001000"/>
<rect x="1212.76" y="978.63" width="14.78" height="14.74" fill="#00b900"/>
<rect x="1226.94" y="978.63" width="14.78" height="14.74" fill="#00bd00"/>
<rect x="1241.12" y="978.63" width="14.78" height="14.74" fill="#00c000"/>
<rect x="1255.3" y="978.63" width="14.78" height="14.74" fill="#000c00"/>
<rect x="1269.48" y="978.63" width="14.78" height="14.74" fill="#000c00"/>
<rect x="1283.66" y="978.63" width="14.78" height="14.74" fill="#001000"/>
<rect x="1297.84" y="978.63" width="14.78" height="14.74" fill="#000e00"/>
<rect x="1312.02" y="978.63" width="14.78" height="14.74" fill="#000f00"/>
<rect x="1326.2" y="978.63" width="14.78" height="14.74" fill="#00bc00"/>
<rect x="1340.38" y="978.63" width="14.78" height="14.74" fill="#00bf00"/>
<rect x="1354.56" y="978.63" width="14.78" height="14.74" fill="#00be00"/>
<rect x="1368.74" y="978.63" width="14.78" height="14.74" fill="#000f00"/>
<rect x="1382.92" y="978.63" width="14.78" height="14.74" fill="#000b00"/>
<rect x="1184.4" y="992.77" width="14.78" height="14.74" fill="#001100"/>
<rect x="1198.58" y="992.77" width="14.78" height="14.74" fill="#000b00"/>
<rect x="1212.76" y="992.77" width="14.78" height="14.74" fill="#00bd00"/>
<rect x="1226.94" y="992.77" width="14.78" height="14.74" fill="#00b800"/>
<rect x="1241.12" y="992.77" width="14.78" height="14.74" fill="#00ba00"/>
<rect x="1255.3" y="992.77" width="14.78" height="14.74" fill="#001000"/>
<rect x="1269.48" y="992.77" width="14.78" height="14.74" fill="#000c00"/>
<rect x="1283.66" y="992.77" width="14.78" height="14.74" fill="#000c00"/>
<rect x="1297.84" y="992.77" width="14.78" height="14.74" fill="#000f00"/>
<rect x="1312.02" y="992.77" width="14.78" height="14.74" fill="#00bd00"/>
<rect x="1326.2" y="992.77" width="14.78" height="14.74" fill="#00bb00"/>
<rect x="1340.38" y="992.77" width="14.78" height="14.74" fill="#00c300"/>
<rect x="1354.56" y="992.77" width="14.78" height="14.74" fill="#000c00"/>
<rect x="1368.74" y="992.77" width="14.78" height="14.74" fill="#000b00"/>
<rect x="1382.92" y="992.77" width="14.78" height="14.74" fill="#000d00"/>
<rect x="1184.4" y="1006.91" width="14.78" height="14.74" fill="#000f00"/>
<rect x="1198.58" y="1006.91" width="14.78" height="14.74" fill="#000f00"/>
<rect x="1212.76" y="1006.91" width="14.78" height="14.74" fill="#00b700"/>
<rect x="1226.94" y="1006.91" width="14.78" height="14.74" fill="#00ba00"/>
<rect x="1241.12" y="1006.91" width="14.78" height="14.74" fill="#00b800"/>
<rect x="1255.3" y="1006.91" width="14.78" height="14.74" fill="#00bb00"/>
<rect x="1269.48" y="1006.91" width="14.78" height="14.74" fill="#00be00"/>
<rect x="1283.66" y="1006.91" width="14.78" height="14.74" fill="#00be00"/>
<rect x="1297.84" y="1006.91" width="14.78" height="14.74" fill="#00c000"/>
<rect x="1312.02" y="1006.91" width="14.78" height="14.74" fill="#00bf00"/>
<rect x="1326.2" y="1006.91" width="14.78" height="14.74" fill="#00c100"/>
<rect x="1340.38" y="1006.91" width="14.78" height="14.74" fill="#000f00"/>
<rect x="1354.56" y="1006.91" width="14.78" height="14.74" fill="#000e00"/>
<rect x="1368.74" y="1006.91" width="14.78" height="14.74" fill="#000c00"/>
<rect x="1382.92" y="1006.91" width="14.78" height="14.74" fill="#000f00"/>
<rect x="1184.4" y="1021.05" width="14.78" height="14.74" fill="#000d00"/>
<rect x="1198.58" y="1021.05" width="14.78" height="14.74" fill="#000c00"/>
<rect x="1212.76" y="1021.05" width="14.78" height="14.74" fill="#00b900"/>
<rect x="1226.94" y="1021.05" width="14.78" height="14.74" fill="#00bd00"/>
<rect x="1241.12" y="1021.05" width="14.78" height="14.74" fill="#00b800"/>
<rect x="1255.3" y="1021.05" width="14.78" height="14.74" fill="#00bc00"/>
<rect x="1269.48" y="1021.05" width="14.78" height="14.74" fill="#00ba00"/>
<rect x="1283.66" y="1021.05" width="14.78" height="14.74" fill="#00bc00"/>
<rect x="1297.84" y="1021.05" width="14.78" height="14.74" fill="#00b900"/>
<rect x="1312.02" y="1021.05" width="14.78" height="14.74" fill="#00c000"/>
<rect x="1326.2" y="1021.05" width="14.78" height="14.74" fill="#00bb00"/>
<rect x="1340.38" y="1021.05" width="14.78" height="14.74" fill="#00be00"/>
<rect x="1354.56" y="1021.05" width="14.78" height="14.74" fill="#000e00"/>
<rect x="1368.74" y="1021.05" width="14.78" height="14.74" fill="#000b00"/>
<rect x="1382.92" y="1021.05" width="14.78" height="14.74" fill="#000e00"/>
<rect x="1184.4" y="1035.19" width="14.78" height="14.74" fill="#000c00"/>
<rect x="1198.58" y="1035.19" width="14.78" height="14.74" fill="#000b00"/>
<rect x="1212.76" y="1035.19" width="14.78" height="14.74" fill="#00b500"/>
<rect x="1226.94" y="1035.19" width="14.78" height="14.74" fill="#00b700"/>
<rect x="1241.12" y="1035.19" width="14.78" height="14.74" fill="#00b700"/>
<rect x="1255.3" y="1035.19" width="14.78" height="14.74" fill="#000f00"/>
<rect x="1269.48" y="1035.19" width="14.78" height="14.74" fill="#000e00"/>
<rect x="1283.66" y="1035.19" width="14.78" height="14.74" fill="#001100"/>
<rect x="1297.84" y="1035.19" width="14.78" height="14.74" fill="#001100"/>
<rect x="1312.02" y="1035.19" width="14.78" height="14.74" fill="#001100"/>
<rect x="1326.2" y="1035.19" width="14.78" height="14.74" fill="#00ba00"/>
<rect x="1340.38" y="1035.19" width="14.78" height="14.74" fill="#00bc00"/>
<rect x="1354.56" y="1035.19" width="14.78" height="14.74" fill="#00bb00"/>
<rect x="1368.74" y="1035.19" width="14.78" height="14.74" fill="#000f00"/>
<rect x="1382.92" y="1035.19" width="14.78" height="14.74" fill="#000f00"/>
<rect x="1184.4" y="1049.33" width="14.78" height="14.74" fill="#001000"/>
<rect x="1198.58" y="1049.33" width="14.78" height="14.74" fill="#000f00"/>
<rect x="1212.76" y="1049.33" width="14.78" height="14.74" fill="#00b600"/>
<rect x="1226.94" y="1049.33" width="14.78" height="14.74" fill="#00b800"/>
<rect x="1241.12" y="1049.33" width="14.78" height="14.74" fill="#00b900"/>
<rect x="1255.3" y="1049.33" width="14.78" height="14.74" fill="#000b00"/>
<rect x="1269.48" y="1049.33" width="14.78" height="14.74" fill="#000b00"/>
<rect x="1283.66" y="1049.33" width="14.78" height="14.74" fill="#000d00"/>
<rect x="1297.84" y="1049.33" width="14.78" height="14.74" fill="#000c00"/>
<rect x="1312.02" y="1049.33" width="14.78" height="14.74" fill="#000f00"/>
<rect x="1326.2" y="1049.33" width="14.78" height="14.74" fill="#00b900"/>
<rect x="1340.38" y="1049.33" width="14.78" height="14.74" fill="#00b900"/>
<rect x="1354.56" y="1049.33" width="14.78" height="14.74" fill="#00ba00"/>
<rect x="1368.74" y="1049.33" width="14.78" height="14.74" fill="#000c00"/>
<rect x="1382.92" y="1049.33" width="14.78" height="14.74" fill="#000c00"/>
<rect x="1184.4" y="1063.47" width="14.78" height="14.74" fill="#000e00"/>
<rect x="1198.58" y="1063.47" width="14.78" height="14.74" fill="#000e00"/>
<rect x="1212.76" y="1063.47" width="14.78" height="14.74" fill="#00b600"/>
<rect x="1226.94" y="1063.47" width="14.78" height="14.74" fill="#00b900"/>
<rect x="1241.12" y="1063.47" width="14.78" height="14.74" fill="#00b600"/>
<rect x="1255.3" y="1063.47" width="14.78" height="14.74" fill="#001000"/>
<rect x="1269.48" y="1063.47" width="14.78" height="14.74" fill="#001100"/>
<rect x="1283.66" y="1063.47" width="14.78" height="14.74" fill="#000f00"/>
<rect x="1297.84" y="1063.47" width="14.78" height="14.74" fill="#000e00"/>
<rect x="1312.02" y="1063.47" width="14.78" height="14.74" fill="#000e00"/>
<rect x="1326.2" y="1063.47" width="14.78" height="14.74" fill="#00bb00"/>
<rect x="1340.38" y="1063.47" width="14.78" height="14.74" fill="#00b700"/>
<rect x="1354.56" y="1063.47" width="14.78" height="14.74" fill="#00bb00"/>
<rect x="1368.74" y="1063.47" width="14.78" height="14.74" fill="#000e00"/>
<rect x="1382.92" y="1063.47" width="14.78" height="14.74" fill="#000c00"/>
<rect x="1184.4" y="1077.61" width="14.78" height="14.74" fill="#000c00"/>
<rect x="1198.58" y="1077.61" width="14.78" height="14.74" fill="#001000"/>
<rect x="1212.76" y="1077.61" width="14.78" height="14.74" fill="#00b500"/>
<rect x="1226.94" y="1077.61" width="14.78" height="14.74" fill="#00b700"/>
<rect x="1241.12" y="1077.61" width="14.78" height="14.74" fill="#00bb00"/>
<rect x="1255.3" y="1077.61" width="14.78" height="14.74" fill="#000f00"/>
<rect x="1269.48" y="1077.61" width="14.78" height="14.74" fill="#000d00"/>
<rect x="1283.66" y="1077.61" width="14.78" height="14.74" fill="#001100"/>
<rect x="1297.84" y="1077.61" width="14.78" height="14.74" fill="#000d00"/>
<rect x="1312.02" y="1077.61" width="14.78" height="14.74" fill="#00b600"/>
<rect x="1326.2" y="1077.61" width="14.78" height="14.74" fill="#00bb00"/>
<rect x="1340.38" y="1077.61" width="14.78" height="14.74" fill="#00b700"/>
<rect x="1354.56" y="1077.61" width="14.78" height="14.74" fill="#00b900"/>
<rect x="1368.74" y="1077.61" width="14.78" height="14.74" fill="#001000"/>
<rect x="1382.92" y="1077.61" width="14.78" height="14.74" fill="#000f00"/>
<rect x="1184.4" y="1091.74" width="14.78" height="14.74" fill="#000b00"/>
<rect x="1198.58" y="1091.74" width="14.78" height="14.74" fill="#000e00"/>
<rect x="1212.76" y="1091.74" width="14.78" height="14.74" fill="#00b500"/>
<rect x="1226.94" y="1091.74" width="14.78" height="14.74" fill="#00b600"/>
<rect x="1241.12" y="1091.74" width="14.78" height="14.74" fill="#00b400"/>
<rect x="1255.3" y="1091.74" width="14.78" height="14.74" fill="#00b800"/>
<rect x="1269.48" y="1091.74" width="14.78" height="14.74" fill="#00b400"/>
<rect x="1283.66" y="1091.74" width="14.78" height="14.74" fill="#00b600"/>
<rect x="1297.84" y="1091.74" width="14.78" height="14.74" fill="#00b700"/>
<rect x="1312.02" y="1091.74" width="14.78" height="14.74" fill="#00bc00"/>
<rect x="1326.2" y="1091.74" width="14.78" height="14.74" fill="#00b600"/>
<rect x="1340.38" y="1091.74" width="14.78" height="14.74" fill="#00bb00"/>
<rect x="1354.56" y="1091.74" width="14.78" height="14.74" fill="#00b700"/>
<rect x="1368.74" y="1091.74" width="14.78" height="14.74" fill="#000e00"/>
<rect x="1382.92" y="1091.74" width="14.78" height="14.74" fill="#000d00"/>
<rect x="1184.4" y="1105.88" width="14.78" height="14.74" fill="#000e00"/>
<rect x="1198.58" y="1105.88" width="14.78" height="14.74" fill="#001000"/>
<rect x="1212.76" y="1105.88" width="14.78" height="14.74" fill="#00b400"/>
<rect x="1226.94" y="1105.88" width="14.78" height="14.74" fill="#00b200"/>
<rect x="1241.12" y="1105.88" width="14.78" height="14.74" fill="#00b300"/>
<rect x="1255.3" y="1105.88" width="14.78" height="14.74" fill="#00b300"/>
<rect x="1269.48" y="1105.88" width="14.78" height="14.74" fill="#00b900"/>
<rect x="1283.66" y="1105.88" width="14.78" height="14.74" fill="#00b800"/>
<rect x="1297.84" y="1105.88" width="14.78" height="14.74" fill="#00bb00"/>
<rect x="1312.02" y="1105.88" width="14.78" height="14.74" fill="#00b900"/>
<rect x="1326.2" y="1105.88" width="14.78" height="14.74" fill="#00b400"/>
<rect x="1340.38" y="1105.88" width="14.78" height="14.74" fill="#00ba00"/>
<rect x="1354.56" y="1105.88" width="14.78" height="14.74" fill="#001000"/>
<rect x="1368.74" y="1105.88" width="14.78" height="14.74" fill="#000f00"/>
<rect x="1382.92" y="1105.88" width="14.78" height="14.74" fill="#000e00"/>
<rect x="1184.4" y="1120.02" width="14.78" height="14.74" fill="#000d00"/>
<rect x="1198.58" y="1120.02" width="14.78" height="14.74" fill="#000e00"/>
<rect x="1212.76" y="1120.02" width="14.78" height="14.74" fill="#001000"/>
<rect x="1226.94" y="1120.02" width="14.78" height="14.74" fill="#000d00"/>
<rect x="1241.12" y="1120.02" width="14.78" height="14.74" fill="#000e00"/>
<rect x="1255.3" y="1120.02" width="14.78" height="14.74" fill="#000e00"/>
<rect x="1269.48" y="1120.02" width="14.78" height="14.74" fill="#001100"/>
<rect x="1283.66" y="1120.02" width="14.78" height="14.74" fill="#001000"/>
<rect x="1297.84" y="1120.02" width="14.78" height="14.74" fill="#001100"/>
<rect x="1312.02" y="1120.02" width="14.78" height="14.74" fill="#001000"/>
<rect x="1326.2" y="1120.02" width="14.78" height="14.74" fill="#000d00"/>
<rect x="1340.38" y="1120.02" width="14.78" height="14.74" fill="#000c00"/>
<rect x="1354.56" y="1120.02" width="14.78" height="14.74" fill="#000e00"/>
<rect x="1368.74" y="1120.02" width="14.78" height="14.74" fill="#000d00"/>
<rect x="1382.92" y="1120.02" width="14.78" height="14.74" fill="#000e00"/>
<rect x="1184.4" y="1134.16" width="14.78" height="14.74" fill="#000f00"/>
<rect x="1198.58" y="1134.16" width="14.78" height="14.74" fill="#001100"/>
<rect x="1212.76" y="1134.16" width="14.78" height="14.74" fill="#000f00"/>
<rect x="1226.94" y="1134.16" width="14.78" height="14.74" fill="#001000"/>
<rect x="1241.12" y="1134.16" width="14.78" height="14.74" fill="#000c00"/>
<rect x="1255.3" y="1134.16" width="14.78" height="14.74" fill="#000d00"/>
<rect x="1269.48" y="1134.16" width="14.78" height="14.74" fill="#001100"/>
<rect x="1283.66" y="1134.16" width="14.78" height="14.74" fill="#000c00"/>
<rect x="1297.84" y="1134.16" width="14.78" height="14.74" fill="#000e00"/>
<rect x="1312.02" y="1134.16" width="14.78" height="14.74" fill="#000b00"/>
<rect x="1326.2" y="1134.16" width="14.78" height="14.74" fill="#000c00"/>
<rect x="1340.38" y="1134.16" width="14.78" height="14.74" fill="#001000"/>
<rect x="1354.56" y="1134.16" width="14.78" height="14.74" fill="#001100"/>
<rect x="1368.74" y="1134.16" width="14.78" height="14.74" fill="#000f00"/>
<rect x="1382.92" y="1134.16" width="14.78" height="14.74" fill="#000c00"/>
</g>
<g shape-rendering="crispEdges">
<rect x="1443.8" y="609.8" width="213.1" height="255.1" fill="#0a0000"/>
<rect x="1443.8" y="609.8" width="14.81" height="14.77" fill="#070000"/>
<rect x="1458.01" y="609.8" width="14.81" height="14.77" fill="#0a0000"/>
<rect x="1472.21" y="609.8" width="14.81" height="14.77" fill="#090000"/>
<rect x="1486.42" y="609.8" width="14.81" height="14.77" fill="#0b0000"/>
<rect x="1500.63" y="609.8" width="14.81" height="14.77" fill="#0b0000"/>
<rect x="1514.83" y="609.8" width="14.81" height="14.77" fill="#060000"/>
<rect x="1529.04" y="609.8" width="14.81" height="14.77" fill="#050000"/>
<rect x="1543.25" y="609.8" width="14.81" height="14.77" fill="#0d0000"/>
<rect x="1557.45" y="609.8" width="14.81" height="14.77" fill="#080000"/>
<rect x="1571.66" y="609.8" width="14.81" height="14.77" fill="#070000"/>
<rect x="1585.87" y="609.8" width="14.81" height="14.77" fill="#0f0000"/>
<rect x="1600.07" y="609.8" width="14.81" height="14.77" fill="#0a0000"/>
<rect x="1614.28" y="609.8" width="14.81" height="14.77" fill="#0d0000"/>
<rect x="1628.49" y="609.8" width="14.81" height="14.77" fill="#0a0000"/>
<rect x="1642.69" y="609.8" width="14.81" height="14.77" fill="#0b0000"/>
<rect x="1443.8" y="623.97" width="14.81" height="14.77" fill="#070000"/>
<rect x="1458.01" y="623.97" width="14.81" height="14.77" fill="#0b0000"/>
<rect x="1472.21" y="623.97" width="14.81" height="14.77" fill="#0e0000"/>
<rect x="1486.42" y="623.97" width="14.81" height="14.77" fill="#0a0000"/>
<rect x="1500.63" y="623.97" width="14.81" height="14.77" fill="#0c0000"/>
<rect x="1514.83" y="623.97" width="14.81" height="14.77" fill="#0c0000"/>
<rect x="1529.04" y="623.97" width="14.81" height="14.77" fill="#060000"/>
<rect x="1543.25" y="623.97" width="14.81" height="14.77" fill="#0d0000"/>
<rect x="1557.45" y="623.97" width="14.81" height="14.77" fill="#0b0000"/>
<rect x="1571.66" y="623.97" width="14.81" height="14.77" fill="#080000"/>
<rect x="1585.87" y="623.97" width="14.81" height="14.77" fill="#050000"/>
<rect x="1600.07" y="623.97" width="14.81" height="14.77" fill="#0e0000"/>
<rect x="1614.28" y="623.97" width="14.81" height="14.77" fill="#0a0000"/>
<rect x="1628.49" y="623.97" width="14.81" height="14.77" fill="#0c0000"/>
<rect x="1642.69" y="623.97" width="14.81" height="14.77" fill="#0e0000"/>
<rect x="1443.8" y="638.14" width="14.81" height="14.77" fill="#0c0000"/>
<rect x="1458.01" y="638.14" width="14.81" height="14.77" fill="#0e0000"/>
<rect x="1472.21" y="638.14" width="14.81" height="14.77" fill="#090000"/>
<rect x="1486.42" y="638.14" width="14.81" height="14.77" fill="#0d0000"/>
<rect x="1500.63" y="638.14" width="14.81" height="14.77" fill="#090000"/>
<rect x="1514.83" y="638.14" width="14.81" height="14.77" fill="#0e0000"/>
<rect x="1529.04" y="638.14" width="14.81" height="14.77" fill="#f60000"/>
<rect x="1543.25" y="638.14" width="14.81" height="14.77" fill="#ed0000"/>
<rect x="1557.45" y="638.14" width="14.81" height="14.77" fill="#ee0000"/>
<rect x="1571.66" y="638.14" width="14.81" height="14.77" fill="#070000"/>
<rect x="1585.87" y="638.14" width="14.81" height="14.77" fill="#0f0000"/>
<rect x="1600.07" y="638.14" width="14.81" height="14.77" fill="#090000"/>
<rect x="1614.28" y="638.14" width="14.81" height="14.77" fill="#0b0000"/>
<rect x="1628.49" y="638.14" width="14.81" height="14.77" fill="#080000"/>
<rect x="1642.69" y="638.14" width="14.81" height="14.77" fill="#0a0000"/>
<rect x="1443.8" y="652.32" width="14.81" height="14.77" fill="#090000"/>
<rect x="1458.01" y="652.32" width="14.81" height="14.77" fill="#090000"/>
<rect x="1472.21" y="652.32" width="14.81" height="14.77" fill="#0b0000"/>
<rect x="1486.42" y="652.32" width="14.81" height="14.77" fill="#0b0000"/>
<rect x="1500.63" y="652.32" width="14.81" height="14.77" fill="#0e0000"/>
<rect x="1514.83" y="652.32" width="14.81" height="14.77" fill="#0c0000"/>
<rect x="1529.04" y="652.32" width="14.81" height="14.77" fill="#f50000"/>
<rect x="1543.25" y="652.32" width="14.81" height="14.77" fill="#f50000"/>
<rect x="1557.45" y="652.32" width="14.81" height="14.77" fill="#f70000"/>
<rect x="1571.66" y="652.32" width="14.81" height="14.77" fill="#0c0000"/>
<rect x="1585.87" y="652.32" width="14.81" height="14.77" fill="#070000"/>
<rect x="1600.07" y="652.32" width="14.81" height="14.77" fill="#0e0000"/>
<rect x="1614.28" y="652.32" width="14.81" height="14.77" fill="#0f0000"/>
<rect x="1628.49" y="652.32" width="14.81" height="14.77" fill="#0e0000"/>
<rect x="1642.69" y="652.32" width="14.81" height="14.77" fill="#0b0000"/>
<rect x="1443.8" y="666.49" width="14.81" height="14.77" fill="#0c0000"/>
<rect x="1458.01" y="666.49" width="14.81" height="14.77" fill="#070000"/>
<rect x="1472.21" y="666.49" width="14.81" height="14.77" fill="#0d0000"/>
<rect x="1486.42" y="666.49" width="14.81" height="14.77" fill="#0b0000"/>
<rect x="1500.63" y="666.49" width="14.81" height="14.77" fill="#080000"/>
<rect x="1514.83" y="666.49" width="14.81" height="14.77" fill="#060000"/>
<rect x="1529.04" y="666.49" width="14.81" height="14.77" fill="#f30000"/>
<rect x="1543.25" y="666.49" width="14.81" height="14.77" fill="#f60000"/>
<rect x="1557.45" y="666.49" width="14.81" height="14.77" fill="#eb0000"/>
<rect x="1571.66" y="666.49" width="14.81" height="14.77" fill="#0d0000"/>
<rect x="1585.87" y="666.49" width="14.81" height="14.77" fill="#090000"/>
<rect x="1600.07" y="666.49" width="14.81" height="14.77" fill="#070000"/>
<rect x="1614.28" y="666.49" width="14.81" height="14.77" fill="#080000"/>
<rect x="1628.49" y="666.49" width="14.81" height="14.77" fill="#0d0000"/>
<rect x="1642.69" y="666.49" width="14.81" height="14.77" fill="#0e0000"/>
<rect x="1443.8" y="680.66" width="14.81" height="14.77" fill="#050000"/>
<rect x="1458.01" y="680.66" width="14.81" height="14.77" fill="#0b0000"/>
<rect x="1472.21" y="680.66" width="14.81" height="14.77" fill="#050000"/>
<rect x="1486.42" y="680.66" width="14.81" height="14.77" fill="#0c0000"/>
<rect x="1500.63" y="680.66" width="14.81" height="14.77" fill="#080000"/>
<rect x="1514.83" y="680.66" width="14.81" height="14.77" fill="#0e0000"/>
<rect x="1529.04" y="680.66" width="14.81" height="14.77" fill="#f40000"/>
<rect x="1543.25" y="680.66" width="14.81" height="14.77" fill="#ef0000"/>
<rect x="1557.45" y="680.66" width="14.81" height="14.77" fill="#f50000"/>
<rect x="1571.66" y="680.66" width="14.81" height="14.77" fill="#080000"/>
<rect x="1585.87" y="680.66" width="14.81" height="14.77" fill="#060000"/>
<rect x="1600.07" y="680.66" width="14.81" height="14.77" fill="#0b0000"/>
<rect x="1614.28" y="680.66" width="14.81" height="14.77" fill="#050000"/>
<rect x="1628.49" y="680.66" width="14.81" height="14.77" fill="#070000"/>
<rect x="1642.69" y="680.66" width="14.81" height="14.77" fill="#090000"/>
<rect x="1443.8" y="694.83" width="14.81" height="14.77" fill="#0b0000"/>
<rect x="1458.01" y="694.83" width="14.81" height="14.77" fill="#070000"/>
<rect x="1472.21" y="694.83" width="14.81" height="14.77" fill="#050000"/>
<rect x="1486.42" y="694.83" width="14.81" height="14.77" fill="#0e0000"/>
<rect x="1500.63" y="694.83" width="14.81" height="14.77" fill="#080000"/>
<rect x="1514.83" y="694.83" width="14.81" height="14.77" fill="#0f0000"/>
<rect x="1529.04" y="694.83" width="14.81" height="14.77" fill="#f20000"/>
<rect x="1543.25" y="694.83" width="14.81" height="14.77" fill="#ec0000"/>
<rect x="1557.45" y="694.83" width="14.81" height="14.77" fill="#ee0000"/>
<rect x="1571.66" y="694.83" width="14.81" height="14.77" fill="#0a0000"/>
<rect x="1585.87" y="694.83" width="14.81" height="14.77" fill="#0b0000"/>
<rect x="1600.07" y="694.83" width="14.81" height="14.77" fill="#0b0000"/>
<rect x="1614.28" y="694.83" width="14.81" height="14.77" fill="#0b0000"/>
<rect x="1628.49" y="694.83" width="14.81" height="14.77" fill="#0b0000"/>
<rect x="1642.69" y="694.83" width="14.81" height="14.77" fill="#0e0000"/>
<rect x="1443.8" y="709.01" width="14.81" height="14.77" fill="#0a0000"/>
<rect x="1458.01" y="709.01" width="14.81" height="14.77" fill="#090000"/>
<rect x="1472.21" y="709.01" width="14.81" height="14.77" fill="#0c0000"/>
<rect x="1486.42" y="709.01" width="14.81" height="14.77" fill="#070000"/>
<rect x="1500.63" y="709.01" width="14.81" height="14.77" fill="#080000"/>
<rect x="1514.83" y="709.01" width="14.81" height="14.77" fill="#0f0000"/>
<rect x="1529.04" y="709.01" width="14.81" height="14.77" fill="#ec0000"/>
<rect x="1543.25" y="709.01" width="14.81" height="14.77" fill="#ed0000"/>
<rect x="1557.45" y="709.01" width="14.81" height="14.77" fill="#e70000"/>
<rect x="1571.66" y="709.01" width="14.81" height="14.77" fill="#090000"/>
<rect x="1585.87" y="709.01" width="14.81" height="14.77" fill="#0b0000"/>
<rect x="1600.07" y="709.01" width="14.81" height="14.77" fill="#050000"/>
<rect x="1614.28" y="709.01" width="14.81" height="14.77" fill="#0b0000"/>
<rect x="1628.49" y="709.01" width="14.81" height="14.77" fill="#0b0000"/>
<rect x="1642.69" y="709.01" width="14.81" height="14.77" fill="#060000"/>
<rect x="1443.8" y="723.18" width="14.81" height="14.77" fill="#0b0000"/>
<rect x="1458.01" y="723.18" width="14.81" height="14.77" fill="#0a0000"/>
<rect x="1472.21" y="723.18" width="14.81" height="14.77" fill="#0c0000"/>
<rect x="1486.42" y="723.18" width="14.81" height="14.77" fill="#090000"/>
<rect x="1500.63" y="723.18" width="14.81" height="14.77" fill="#0c0000"/>
<rect x="1514.83" y="723.18" width="14.81" height="14.77" fill="#0c0000"/>
<rect x="1529.04" y="723.18" width="14.81" height="14.77" fill="#e50000"/>
<rect x="1543.25" y="723.18" width="14.81" height="14.77" fill="#e60000"/>
<rect x="1557.45" y="723.18" width="14.81" height="14.77" fill="#ee0000"/>
<rect x="1571.66" y="723.18" width="14.81" height="14.77" fill="#0f0000"/>
<rect x="1585.87" y="723.18" width="14.81" height="14.77" fill="#080000"/>
<rect x="1600.07" y="723.18" width="14.81" height="14.77" fill="#0a0000"/>
<rect x="1614.28" y="723.18" width="14.81" height="14.77" fill="#0b0000"/>
<rect x="1628.49" y="723.18" width="14.81" height="14.77" fill="#080000"/>
<rect x="1642.69" y="723.18" width="14.81" height="14.77" fill="#090000"/>
<rect x="1443.8" y="737.35" width="14.81" height="14.77" fill="#080000"/>
<rect x="1458.01" y="737.35" width="14.81" height="14.77" fill="#090000"/>
<rect x="1472.21" y="737.35" width="14.81" height="14.77" fill="#0b0000"/>
<rect x="1486.42" y="737.35" width="14.81" height="14.77" fill="#080000"/>
<rect x="1500.63" y="737.35" width="14.81" height="14.77" fill="#090000"/>
<rect x="1514.83" y="737.35" width="14.81" height="14.77" fill="#0d0000"/>
<rect x="1529.04" y="737.35" width="14.81" height="14.77" fill="#e50000"/>
<rect x="1543.25" y="737.35" width="14.81" height="14.77" fill="#ec0000"/>
<rect x="1557.45" y="737.35" width="14.81" height="14.77" fill="#ee0000"/>
<rect x="1571.66" y="737.35" width="14.81" height="14.77" fill="#080000"/>
<rect x="1585.87" y="737.35" width="14.81" height="14.77" fill="#070000"/>
<rect x="1600.07" y="737.35" width="14.81" height="14.77" fill="#0d0000"/>
<rect x="1614.28" y="737.35" width="14.81" height="14.77" fill="#070000"/>
<rect x="1628.49" y="737.35" width="14.81" height="14.77" fill="#070000"/>
<rect x="1642.69" y="737.35" width="14.81" height="14.77" fill="#090000"/>
<rect x="1443.8" y="751.52" width="14.81" height="14.77" fill="#0c0000"/>
<rect x="1458.01" y="751.52" width="14.81" height="14.77" fill="#060000"/>
<rect x="1472.21" y="751.52" width="14.81" height="14.77" fill="#080000"/>
<rect x="1486.42" y="751.52" width="14.81" height="14.77" fill="#080000"/>
<rect x="1500.63" y="751.52" width="14.81" height="14.77" fill="#0d0000"/>
<rect x="1514.83" y="751.52" width="14.81" height="14.77" fill="#090000"/>
<rect x="1529.04" y="751.52" width="14.81" height="14.77" fill="#ed0000"/>
<rect x="1543.25" y="751.52" width="14.81" height="14.77" fill="#e60000"/>
<rect x="1557.45" y="751.52" width="14.81" height="14.77" fill="#e80000"/>
<rect x="1571.66" y="751.52" width="14.81" height="14.77" fill="#0c0000"/>
<rect x="1585.87" y="751.52" width="14.81" height="14.77" fill="#0e0000"/>
<rect x="1600.07" y="751.52" width="14.81" height="14.77" fill="#0a0000"/>
<rect x="1614.28" y="751.52" width="14.81" height="14.77" fill="#070000"/>
<rect x="1628.49" y="751.52" width="14.81" height="14.77" fill="#060000"/>
<rect x="1642.69" y="751.52" width="14.81" height="14.77" fill="#0a0000"/>
<rect x="1443.8" y="765.69" width="14.81" height="14.77" fill="#070000"/>
<rect x="1458.01" y="765.69" width="14.81" height="14.77" fill="#0d0000"/>
<rect x="1472.21" y="765.69" width="14.81" height="14.77" fill="#0d0000"/>
<rect x="1486.42" y="765.69" width="14.81" height="14.77" fill="#070000"/>
<rect x="1500.63" y="765.69" width="14.81" height="14.77" fill="#080000"/>
<rect x="1514.83" y="765.69" width="14.81" height="14.77" fill="#0d0000"/>
<rect x="1529.04" y="765.69" width="14.81" height="14.77" fill="#ea0000"/>
<rect x="1543.25" y="765.69" width="14.81" height="14.77" fill="#ec0000"/>
<rect x="1557.45" y="765.69" width="14.81" height="14.77" fill="#e70000"/>
<rect x="1571.66" y="765.69" width="14.81" height="14.77" fill="#060000"/>
<rect x="1585.87" y="765.69" width="14.81" height="14.77" fill="#080000"/>
<rect x="1600.07" y="765.69" width="14.81" height="14.77" fill="#0d0000"/>
<rect x="1614.28" y="765.69" width="14.81" height="14.77" fill="#080000"/>
<rect x="1628.49" y="765.69" width="14.81" height="14.77" fill="#080000"/>
<rect x="1642.69" y="765.69" width="14.81" height="14.77" fill="#090000"/>
<rect x="1443.8" y="779.87" width="14.81" height="14.77" fill="#090000"/>
<rect x="1458.01" y="779.87" width="14.81" height="14.77" fill="#090000"/>
<rect x="1472.21" y="779.87" width="14.81" height="14.77" fill="#0e0000"/>
<rect x="1486.42" y="779.87" width="14.81" height="14.77" fill="#070000"/>
<rect x="1500.63" y="779.87" width="14.81" height="14.77" fill="#050000"/>
<rect x="1514.83" y="779.87" width="14.81" height="14.77" fill="#0e0000"/>
<rect x="1529.04" y="779.87" width="14.81" height="14.77" fill="#ec0000"/>
<rect x="1543.25" y="779.87" width="14.81" height="14.77" fill="#ee0000"/>
<rect x="1557.45" y="779.87" width="14.81" height="14.77" fill="#e70000"/>
<rect x="1571.66" y="779.87" width="14.81" height="14.77" fill="#0f0000"/>
<rect x="1585.87" y="779.87" width="14.81" height="14.77" fill="#0e0000"/>
<rect x="1600.07" y="779.87" width="14.81" height="14.77" fill="#070000"/>
<rect x="1614.28" y="779.87" width="14.81" height="14.77" fill="#0c0000"/>
<rect x="1628.49" y="779.87" width="14.81" height="14.77" fill="#0d0000"/>
<rect x="1642.69" y="779.87" width="14.81" height="14.77" fill="#0c0000"/>
<rect x="1443.8" y="794.04" width="14.81" height="14.77" fill="#0a0000"/>
<rect x="1458.01" y="794.04" width="14.81" height="14.77" fill="#080000"/>
<rect x="1472.21" y="794.04" width="14.81" height="14.77" fill="#080000"/>
<rect x="1486.42" y="794.04" width="14.81" height="14.77" fill="#070000"/>
<rect x="1500.63" y="794.04" width="14.81" height="14.77" fill="#060000"/>
<rect x="1514.83" y="794.04" width="14.81" height="14.77" fill="#0b0000"/>
<rect x="1529.04" y="794.04" width="14.81" height="14.77" fill="#e40000"/>
<rect x="1543.25" y="794.04" width="14.81" height="14.77" fill="#ea0000"/>
<rect x="1557.45" y="794.04" width="14.81" height="14.77" fill="#e20000"/>
<rect x="1571.66" y="794.04" width="14.81" height="14.77" fill="#0e0000"/>
<rect x="1585.87" y="794.04" width="14.81" height="14.77" fill="#0c0000"/>
<rect x="1600.07" y="794.04" width="14.81" height="14.77" fill="#0e0000"/>
<rect x="1614.28" y="794.04" width="14.81" height="14.77" fill="#0e0000"/>
<rect x="1628.49" y="794.04" width="14.81" height="14.77" fill="#0e0000"/>
<rect x="1642.69" y="794.04" width="14.81" height="14.77" fill="#0b0000"/>
<rect x="1443.8" y="808.21" width="14.81" height="14.77" fill="#050000"/>
<rect x="1458.01" y="808.21" width="14.81" height="14.77" fill="#0c0000"/>
<rect x="1472.21" y="808.21" width="14.81" height="14.77" fill="#070000"/>
<rect x="1486.42" y="808.21" width="14.81" height="14.77" fill="#080000"/>
<rect x="1500.63" y="808.21" width="14.81" height="14.77" fill="#0c0000"/>
<rect x="1514.83" y="808.21" width="14.81" height="14.77" fill="#0a0000"/>
<rect x="1529.04" y="808.21" width="14.81" height="14.77" fill="#e40000"/>
<rect x="1543.25" y="808.21" width="14.81" height="14.77" fill="#eb0000"/>
<rect x="1557.45" y="808.21" width="14.81" height="14.77" fill="#e80000"/>
<rect x="1571.66" y="808.21" width="14.81" height="14.77" fill="#080000"/>
<rect x="1585.87" y="808.21" width="14.81" height="14.77" fill="#080000"/>
<rect x="1600.07" y="808.21" width="14.81" height="14.77" fill="#0e0000"/>
<rect x="1614.28" y="808.21" width="14.81" height="14.77" fill="#0a0000"/>
<rect x="1628.49" y="808.21" width="14.81" height="14.77" fill="#0d0000"/>
<rect x="1642.69" y="808.21" width="14.81" height="14.77" fill="#090000"/>
<rect x="1443.8" y="822.38" width="14.81" height="14.77" fill="#070000"/>
<rect x="1458.01" y="822.38" width="14.81" height="14.77" fill="#0a0000"/>
<rect x="1472.21" y="822.38" width="14.81" height="14.77" fill="#0d0000"/>
<rect x="1486.42" y="822.38" width="14.81" height="14.77" fill="#070000"/>
<rect x="1500.63" y="822.38" width="14.81" height="14.77" fill="#0d0000"/>
<rect x="1514.83" y="822.38" width="14.81" height="14.77" fill="#0e0000"/>
<rect x="1529.04" y="822.38" width="14.81" height="14.77" fill="#e80000"/>
<rect x="1543.25" y="822.38" width="14.81" height="14.77" fill="#e90000"/>
<rect x="1557.45" y="822.38" width="14.81" height="14.77" fill="#df0000"/>
<rect x="1571.66" y="822.38" width="14.81" height="14.77" fill="#0b0000"/>
<rect x="1585.87" y="822.38" width="14.81" height="14.77" fill="#0e0000"/>
<rect x="1600.07" y="822.38" width="14.81" height="14.77" fill="#050000"/>
<rect x="1614.28" y="822.38" width="14.81" height="14.77" fill="#080000"/>
<rect x="1628.49" y="822.38" width="14.81" height="14.77" fill="#080000"/>
<rect x="1642.69" y="822.38" width="14.81" height="14.77" fill="#0a0000"/>
<rect x="1443.8" y="836.56" width="14.81" height="14.77" fill="#090000"/>
<rect x="1458.01" y="836.56" width="14.81" height="14.77" fill="#0a0000"/>
<rect x="1472.21" y="836.56" width="14.81" height="14.77" fill="#0d0000"/>
<rect x="1486.42" y="836.56" width="14.81" height="14.77" fill="#050000"/>
<rect x="1500.63" y="836.56" width="14.81" height="14.77" fill="#060000"/>
<rect x="1514.83" y="836.56" width="14.81" height="14.77" fill="#060000"/>
<rect x="1529.04" y="836.56" width="14.81" height="14.77" fill="#060000"/>
<rect x="1543.25" y="836.56" width="14.81" height="14.77" fill="#060000"/>
<rect x="1557.45" y="836.56" width="14.81" height="14.77" fill="#0f0000"/>
<rect x="1571.66" y="836.56" width="14.81" height="14.77" fill="#0e0000"/>
<rect x="1585.87" y="836.56" width="14.81" height="14.77" fill="#060000"/>
<rect x="1600.07" y="836.56" width="14.81" height="14.77" fill="#0a0000"/>
<rect x="1614.28" y="836.56" width="14.81" height="14.77" fill="#080000"/>
<rect x="1628.49" y="836.56" width="14.81" height="14.77" fill="#080000"/>
<rect x="1642.69" y="836.56" width="14.81" height="14.77" fill="#090000"/>
<rect x="1443.8" y="850.73" width="14.81" height="14.77" fill="#0b0000"/>
<rect x="1458.01" y="850.73" width="14.81" height="14.77" fill="#0b0000"/>
<rect x="1472.21" y="850.73" width="14.81" height="14.77" fill="#090000"/>
<rect x="1486.42" y="850.73" width="14.81" height="14.77" fill="#070000"/>
<rect x="1500.63" y="850.73" width="14.81" height="14.77" fill="#080000"/>
<rect x="1514.83" y="850.73" width="14.81" height="14.77" fill="#060000"/>
<rect x="1529.04" y="850.73" width="14.81" height="14.77" fill="#0b0000"/>
<rect x="1543.25" y="850.73" width="14.81" height="14.77" fill="#0c0000"/>
<rect x="1557.45" y="850.73" width="14.81" height="14.77" fill="#090000"/>
<rect x="1571.66" y="850.73" width="14.81" height="14.77" fill="#060000"/>
<rect x="1585.87" y="850.73" width="14.81" height="14.77" fill="#070000"/>
<rect x="1600.07" y="850.73" width="14.81" height="14.77" fill="#090000"/>
<rect x="1614.28" y="850.73" width="14.81" height="14.77" fill="#0b0000"/>
<rect x="1628.49" y="850.73" width="14.81" height="14.77" fill="#0d0000"/>
<rect x="1642.69" y="850.73" width="14.81" height="14.77" fill="#090000"/>
</g>
<g shape-rendering="crispEdges">
<rect x="1443.8" y="893.8" width="213.1" height="255.2" fill="#0a0000"/>
<rect x="1443.8" y="893.8" width="14.81" height="14.78" fill="#070000"/>
<rect x="1458.01" y="893.8" width="14.81" height="14.78" fill="#060000"/>
<rect x="1472.21" y="893.8" width="14.81" height="14.78" fill="#090000"/>
<rect x="1486.42" y="893.8" width="14.81" height="14.78" fill="#070000"/>
<rect x="1500.63" y="893.8" width="14.81" height="14.78" fill="#060000"/>
<rect x="1514.83" y="893.8" width="14.81" height="14.78" fill="#090000"/>
<rect x="1529.04" y="893.8" width="14.81" height="14.78" fill="#0e0000"/>
<rect x="1543.25" y="893.8" width="14.81" height="14.78" fill="#0d0000"/>
<rect x="1557.45" y="893.8" width="14.81" height="14.78" fill="#0d0000"/>
<rect x="1571.66" y="893.8" width="14.81" height="14.78" fill="#070000"/>
<rect x="1585.87" y="893.8" width="14.81" height="14.78" fill="#0a0000"/>
<rect x="1600.07" y="893.8" width="14.81" height="14.78" fill="#080000"/>
<rect x="1614.28" y="893.8" width="14.81" height="14.78" fill="#070000"/>
<rect x="1628.49" y="893.8" width="14.81" height="14.78" fill="#060000"/>
<rect x="1642.69" y="893.8" width="14.81" height="14.78" fill="#070000"/>
<rect x="1443.8" y="907.98" width="14.81" height="14.78" fill="#0e0000"/>
<rect x="1458.01" y="907.98" width="14.81" height="14.78" fill="#0d0000"/>
<rect x="1472.21" y="907.98" width="14.81" height="14.78" fill="#0d0000"/>
<rect x="1486.42" y="907.98" width="14.81" height="14.78" fill="#0d0000"/>
<rect x="1500.63" y="907.98" width="14.81" height="14.78" fill="#070000"/>
<rect x="1514.83" y="907.98" width="14.81" height="14.78" fill="#080000"/>
<rect x="1529.04" y="907.98" width="14.81" height="14.78" fill="#0b0000"/>
<rect x="1543.25" y="907.98" width="14.81" height="14.78" fill="#0c0000"/>
<rect x="1557.45" y="907.98" width="14.81" height="14.78" fill="#0e0000"/>
<rect x="1571.66" y="907.98" width="14.81" height="14.78" fill="#0e0000"/>
<rect x="1585.87" y="907.98" width="14.81" height="14.78" fill="#060000"/>
<rect x="1600.07" y="907.98" width="14.81" height="14.78" fill="#0b0000"/>
<rect x="1614.28" y="907.98" width="14.81" height="14.78" fill="#0c0000"/>
<rect x="1628.49" y="907.98" width="14.81" height="14.78" fill="#0a0000"/>
<rect x="1642.69" y="907.98" width="14.81" height="14.78" fill="#070000"/>
<rect x="1443.8" y="922.16" width="14.81" height="14.78" fill="#0a0000"/>
<rect x="1458.01" y="922.16" width="14.81" height="14.78" fill="#060000"/>
<rect x="1472.21" y="922.16" width="14.81" height="14.78" fill="#0e0000"/>
<rect x="1486.42" y="922.16" width="14.81" height="14.78" fill="#0e0000"/>
<rect x="1500.63" y="922.16" width="14.81" height="14.78" fill="#0a0000"/>
<rect x="1514.83" y="922.16" width="14.81" height="14.78" fill="#080000"/>
<rect x="1529.04" y="922.16" width="14.81" height="14.78" fill="#ca0000"/>
<rect x="1543.25" y="922.16" width="14.81" height="14.78" fill="#c60000"/>
<rect x="1557.45" y="922.16" width="14.81" height="14.78" fill="#ca0000"/>
<rect x="1571.66" y="922.16" width="14.81" height="14.78" fill="#0d0000"/>
<rect x="1585.87" y="922.16" width="14.81" height="14.78" fill="#0a0000"/>
<rect x="1600.07" y="922.16" width="14.81" height="14.78" fill="#090000"/>
<rect x="1614.28" y="922.16" width="14.81" height="14.78" fill="#0b0000"/>
<rect x="1628.49" y="922.16" width="14.81" height="14.78" fill="#090000"/>
<rect x="1642.69" y="922.16" width="14.81" height="14.78" fill="#070000"/>
<rect x="1443.8" y="936.33" width="14.81" height="14.78" fill="#080000"/>
<rect x="1458.01" y="936.33" width="14.81" height="14.78" fill="#0d0000"/>
<rect x="1472.21" y="936.33" width="14.81" height="14.78" fill="#050000"/>
<rect x="1486.42" y="936.33" width="14.81" height="14.78" fill="#050000"/>
<rect x="1500.63" y="936.33" width="14.81" height="14.78" fill="#0b0000"/>
<rect x="1514.83" y="936.33" width="14.81" height="14.78" fill="#080000"/>
<rect x="1529.04" y="936.33" width="14.81" height="14.78" fill="#c50000"/>
<rect x="1543.25" y="936.33" width="14.81" height="14.78" fill="#c40000"/>
<rect x="1557.45" y="936.33" width="14.81" height="14.78" fill="#c30000"/>
<rect x="1571.66" y="936.33" width="14.81" height="14.78" fill="#0f0000"/>
<rect x="1585.87" y="936.33" width="14.81" height="14.78" fill="#070000"/>
<rect x="1600.07" y="936.33" width="14.81" height="14.78" fill="#090000"/>
<rect x="1614.28" y="936.33" width="14.81" height="14.78" fill="#070000"/>
<rect x="1628.49" y="936.33" width="14.81" height="14.78" fill="#0b0000"/>
<rect x="1642.69" y="936.33" width="14.81" height="14.78" fill="#080000"/>
<rect x="1443.8" y="950.51" width="14.81" height="14.78" fill="#090000"/>
<rect x="1458.01" y="950.51" width="14.81" height="14.78" fill="#0c0000"/>
<rect x="1472.21" y="950.51" width="14.81" height="14.78" fill="#080000"/>
<rect x="1486.42" y="950.51" width="14.81" height="14.78" fill="#0b0000"/>
<rect x="1500.63" y="950.51" width="14.81" height="14.78" fill="#0e0000"/>
<rect x="1514.83" y="950.51" width="14.81" height="14.78" fill="#060000"/>
<rect x="1529.04" y="950.51" width="14.81" height="14.78" fill="#be0000"/>
<rect x="1543.25" y="950.51" width="14.81" height="14.78" fill="#c00000"/>
<rect x="1557.45" y="950.51" width="14.81" height="14.78" fill="#c70000"/>
<rect x="1571.66" y="950.51" width="14.81" height="14.78" fill="#0b0000"/>
<rect x="1585.87" y="950.51" width="14.81" height="14.78" fill="#070000"/>
<rect x="1600.07" y="950.51" width="14.81" height="14.78" fill="#080000"/>
<rect x="1614.28" y="950.51" width="14.81" height="14.78" fill="#070000"/>
<rect x="1628.49" y="950.51" width="14.81" height="14.78" fill="#0a0000"/>
<rect x="1642.69" y="950.51" width="14.81" height="14.78" fill="#050000"/>
<rect x="1443.8" y="964.69" width="14.81" height="14.78" fill="#0c0000"/>
<rect x="1458.01" y="964.69" width="14.81" height="14.78" fill="#0e0000"/>
<rect x="1472.21" y="964.69" width="14.81" height="14.78" fill="#0f0000"/>
<rect x="1486.42" y="964.69" width="14.81" height="14.78" fill="#0c0000"/>
<rect x="1500.63" y="964.69" width="14.81" height="14.78" fill="#0f0000"/>
<rect x="1514.83" y="964.69" width="14.81" height="14.78" fill="#050000"/>
<rect x="1529.04" y="964.69" width="14.81" height="14.78" fill="#c00000"/>
<rect x="1543.25" y="964.69" width="14.81" height="14.78" fill="#c80000"/>
<rect x="1557.45" y="964.69" width="14.81" height="14.78" fill="#c70000"/>
<rect x="1571.66" y="964.69" width="14.81" height="14.78" fill="#090000"/>
<rect x="1585.87" y="964.69" width="14.81" height="14.78" fill="#0e0000"/>
<rect x="1600.07" y="964.69" width="14.81" height="14.78" fill="#0b0000"/>
<rect x="1614.28" y="964.69" width="14.81" height="14.78" fill="#0d0000"/>
<rect x="1628.49" y="964.69" width="14.81" height="14.78" fill="#080000"/>
<rect x="1642.69" y="964.69" width="14.81" height="14.78" fill="#070000"/>
<rect x="1443.8" y="978.87" width="14.81" height="14.78" fill="#090000"/>
<rect x="1458.01" y="978.87" width="14.81" height="14.78" fill="#060000"/>
<rect x="1472.21" y="978.87" width="14.81" height="14.78" fill="#090000"/>
<rect x="1486.42" y="978.87" width="14.81" height="14.78" fill="#0f0000"/>
<rect x="1500.63" y="978.87" width="14.81" height="14.78" fill="#080000"/>
<rect x="1514.83" y="978.87" width="14.81" height="14.78" fill="#050000"/>
<rect x="1529.04" y="978.87" width="14.81" height="14.78" fill="#bc0000"/>
<rect x="1543.25" y="978.87" width="14.81" height="14.78" fill="#be0000"/>
<rect x="1557.45" y="978.87" width="14.81" height="14.78" fill="#c60000"/>
<rect x="1571.66" y="978.87" width="14.81" height="14.78" fill="#090000"/>
<rect x="1585.87" y="978.87" width="14.81" height="14.78" fill="#080000"/>
<rect x="1600.07" y="978.87" width="14.81" height="14.78" fill="#060000"/>
<rect x="1614.28" y="978.87" width="14.81" height="14.78" fill="#0f0000"/>
<rect x="1628.49" y="978.87" width="14.81" height="14.78" fill="#090000"/>
<rect x="1642.69" y="978.87" width="14.81" height="14.78" fill="#070000"/>
<rect x="1443.8" y="993.04" width="14.81" height="14.78" fill="#060000"/>
<rect x="1458.01" y="993.04" width="14.81" height="14.78" fill="#060000"/>
<rect x="1472.21" y="993.04" width="14.81" height="14.78" fill="#070000"/>
<rect x="1486.42" y="993.04" width="14.81" height="14.78" fill="#0c0000"/>
<rect x="1500.63" y="993.04" width="14.81" height="14.78" fill="#060000"/>
<rect x="1514.83" y="993.04" width="14.81" height="14.78" fill="#050000"/>
<rect x="1529.04" y="993.04" width="14.81" height="14.78" fill="#c10000"/>
<rect x="1543.25" y="993.04" width="14.81" height="14.78" fill="#be0000"/>
<rect x="1557.45" y="993.04" width="14.81" height="14.78" fill="#c80000"/>
<rect x="1571.66" y="993.04" width="14.81" height="14.78" fill="#060000"/>
<rect x="1585.87" y="993.04" width="14.81" height="14.78" fill="#0a0000"/>
<rect x="1600.07" y="993.04" width="14.81" height="14.78" fill="#0d0000"/>
<rect x="1614.28" y="993.04" width="14.81" height="14.78" fill="#090000"/>
<rect x="1628.49" y="993.04" width="14.81" height="14.78" fill="#0f0000"/>
<rect x="1642.69" y="993.04" width="14.81" height="14.78" fill="#0a0000"/>
<rect x="1443.8" y="1007.22" width="14.81" height="14.78" fill="#070000"/>
<rect x="1458.01" y="1007.22" width="14.81" height="14.78" fill="#090000"/>
<rect x="1472.21" y="1007.22" width="14.81" height="14.78" fill="#050000"/>
<rect x="1486.42" y="1007.22" width="14.81" height="14.78" fill="#090000"/>
<rect x="1500.63" y="1007.22" width="14.81" height="14.78" fill="#070000"/>
<rect x="1514.83" y="1007.22" width="14.81" height="14.78" fill="#0e0000"/>
<rect x="1529.04" y="1007.22" width="14.81" height="14.78" fill="#c40000"/>
<rect x="1543.25" y="1007.22" width="14.81" height="14.78" fill="#c00000"/>
<rect x="1557.45" y="1007.22" width="14.81" height="14.78" fill="#bb0000"/>
<rect x="1571.66" y="1007.22" width="14.81" height="14.78" fill="#080000"/>
<rect x="1585.87" y="1007.22" width="14.81" height="14.78" fill="#070000"/>
<rect x="1600.07" y="1007.22" width="14.81" height="14.78" fill="#070000"/>
<rect x="1614.28" y="1007.22" width="14.81" height="14.78" fill="#070000"/>
<rect x="1628.49" y="1007.22" width="14.81" height="14.78" fill="#0e0000"/>
<rect x="1642.69" y="1007.22" width="14.81" height="14.78" fill="#060000"/>
<rect x="1443.8" y="1021.4" width="14.81" height="14.78" fill="#060000"/>
<rect x="1458.01" y="1021.4" width="14.81" height="14.78" fill="#0e0000"/>
<rect x="1472.21" y="1021.4" width="14.81" height="14.78" fill="#0b0000"/>
<rect x="1486.42" y="1021.4" width="14.81" height="14.78" fill="#0f0000"/>
<rect x="1500.63" y="1021.4" width="14.81" height="14.78" fill="#090000"/>
<rect x="1514.83" y="1021.4" width="14.81" height="14.78" fill="#0e0000"/>
<rect x="1529.04" y="1021.4" width="14.81" height="14.78" fill="#c10000"/>
<rect x="1543.25" y="1021.4" width="14.81" height="14.78" fill="#c30000"/>
<rect x="1557.45" y="1021.4" width="14.81" height="14.78" fill="#c30000"/>
<rect x="1571.66" y="1021.4" width="14.81" height="14.78" fill="#0a0000"/>
<rect x="1585.87" y="1021.4" width="14.81" height="14.78" fill="#060000"/>
<rect x="1600.07" y="1021.4" width="14.81" height="14.78" fill="#070000"/>
<rect x="1614.28" y="1021.4" width="14.81" height="14.78" fill="#0e0000"/>
<rect x="1628.49" y="1021.4" width="14.81" height="14.78" fill="#0e0000"/>
<rect x="1642.69" y="1021.4" width="14.81" height="14.78" fill="#0e0000"/>
<rect x="1443.8" y="1035.58" width="14.81" height="14.78" fill="#080000"/>
<rect x="1458.01" y="1035.58" width="14.81" height="14.78" fill="#0c0000"/>
<rect x="1472.21" y="1035.58" width="14.81" height="14.78" fill="#0d0000"/>
<rect x="1486.42" y="1035.58" width="14.81" height="14.78" fill="#0b0000"/>
<rect x="1500.63" y="1035.58" width="14.81" height="14.78" fill="#0d0000"/>
<rect x="1514.83" y="1035.58" width="14.81" height="14.78" fill="#0a0000"/>
<rect x="1529.04" y="1035.58" width="14.81" height="14.78" fill="#c00000"/>
<rect x="1543.25" y="1035.58" width="14.81" height="14.78" fill="#c10000"/>
<rect x="1557.45" y="1035.58" width="14.81" height="14.78" fill="#bd0000"/>
<rect x="1571.66" y="1035.58" width="14.81" height="14.78" fill="#0e0000"/>
<rect x="1585.87" y="1035.58" width="14.81" height="14.78" fill="#0f0000"/>
<rect x="1600.07" y="1035.58" width="14.81" height="14.78" fill="#060000"/>
<rect x="1614.28" y="1035.58" width="14.81" height="14.78" fill="#0f0000"/>
<rect x="1628.49" y="1035.58" width="14.81" height="14.78" fill="#0f0000"/>
<rect x="1642.69" y="1035.58" width="14.81" height="14.78" fill="#0c0000"/>
<rect x="1443.8" y="1049.76" width="14.81" height="14.78" fill="#050000"/>
<rect x="1458.01" y="1049.76" width="14.81" height="14.78" fill="#0e0000"/>
<rect x="1472.21" y="1049.76" width="14.81" height="14.78" fill="#060000"/>
<rect x="1486.42" y="1049.76" width="14.81" height="14.78" fill="#0f0000"/>
<rect x="1500.63" y="1049.76" width="14.81" height="14.78" fill="#0c0000"/>
<rect x="1514.83" y="1049.76" width="14.81" height="14.78" fill="#060000"/>
<rect x="1529.04" y="1049.76" width="14.81" height="14.78" fill="#ba0000"/>
<rect x="1543.25" y="1049.76" width="14.81" height="14.78" fill="#c00000"/>
<rect x="1557.45" y="1049.76" width="14.81" height="14.78" fill="#bf0000"/>
<rect x="1571.66" y="1049.76" width="14.81" height="14.78" fill="#0c0000"/>
<rect x="1585.87" y="1049.76" width="14.81" height="14.78" fill="#0e0000"/>
<rect x="1600.07" y="1049.76" width="14.81" height="14.78" fill="#070000"/>
<rect x="1614.28" y="1049.76" width="14.81" height="14.78" fill="#050000"/>
<rect x="1628.49" y="1049.76" width="14.81" height="14.78" fill="#0e0000"/>
<rect x="1642.69" y="1049.76" width="14.81" height="14.78" fill="#050000"/>
<rect x="1443.8" y="1063.93" width="14.81" height="14.78" fill="#0e0000"/>
<rect x="1458.01" y="1063.93" width="14.81" height="14.78" fill="#060000"/>
<rect x="1472.21" y="1063.93" width="14.81" height="14.78" fill="#0d0000"/>
<rect x="1486.42" y="1063.93" width="14.81" height="14.78" fill="#0d0000"/>
<rect x="1500.63" y="1063.93" width="14.81" height="14.78" fill="#0e0000"/>
<rect x="1514.83" y="1063.93" width="14.81" height="14.78" fill="#0b0000"/>
<rect x="1529.04" y="1063.93" width="14.81" height="14.78" fill="#c10000"/>
<rect x="1543.25" y="1063.93" width="14.81" height="14.78" fill="#ba0000"/>
<rect x="1557.45" y="1063.93" width="14.81" height="14.78" fill="#c00000"/>
<rect x="1571.66" y="1063.93" width="14.81" height="14.78" fill="#080000"/>
<rect x="1585.87" y="1063.93" width="14.81" height="14.78" fill="#0e0000"/>
<rect x="1600.07" y="1063.93" width="14.81" height="14.78" fill="#0d0000"/>
<rect x="1614.28" y="1063.93" width="14.81" height="14.78" fill="#0a0000"/>
<rect x="1628.49" y="1063.93" width="14.81" height="14.78" fill="#0a0000"/>
<rect x="1642.69" y="1063.93" width="14.81" height="14.78" fill="#050000"/>
<rect x="1443.8" y="1078.11" width="14.81" height="14.78" fill="#050000"/>
<rect x="1458.01" y="1078.11" width="14.81" height="14.78" fill="#0b0000"/>
<rect x="1472.21" y="1078.11" width="14.81" height="14.78" fill="#0a0000"/>
<rect x="1486.42" y="1078.11" width="14.81" height="14.78" fill="#0e0000"/>
<rect x="1500.63" y="1078.11" width="14.81" height="14.78" fill="#0b0000"/>
<rect x="1514.83" y="1078.11" width="14.81" height="14.78" fill="#060000"/>
<rect x="1529.04" y="1078.11" width="14.81" height="14.78" fill="#ba0000"/>
<rect x="1543.25" y="1078.11" width="14.81" height="14.78" fill="#c00000"/>
<rect x="1557.45" y="1078.11" width="14.81" height="14.78" fill="#bd0000"/>
<rect x="1571.66" y="1078.11" width="14.81" height="14.78" fill="#050000"/>
<rect x="1585.87" y="1078.11" width="14.81" height="14.78" fill="#0d0000"/>
<rect x="1600.07" y="1078.11" width="14.81" height="14.78" fill="#0d0000"/>
<rect x="1614.28" y="1078.11" width="14.81" height="14.78" fill="#060000"/>
<rect x="1628.49" y="1078.11" width="14.81" height="14.78" fill="#0a0000"/>
<rect x="1642.69" y="1078.11" width="14.81" height="14.78" fill="#090000"/>
<rect x="1443.8" y="1092.29" width="14.81" height="14.78" fill="#0d0000"/>
<rect x="1458.01" y="1092.29" width="14.81" height="14.78" fill="#080000"/>
<rect x="1472.21" y="1092.29" width="14.81" height="14.78" fill="#070000"/>
<rect x="1486.42" y="1092.29" width="14.81" height="14.78" fill="#0a0000"/>
<rect x="1500.63" y="1092.29" width="14.81" height="14.78" fill="#0f0000"/>
<rect x="1514.83" y="1092.29" width="14.81" height="14.78" fill="#060000"/>
<rect x="1529.04" y="1092.29" width="14.81" height="14.78" fill="#b70000"/>
<rect x="1543.25" y="1092.29" width="14.81" height="14.78" fill="#bd0000"/>
<rect x="1557.45" y="1092.29" width="14.81" height="14.78" fill="#c10000"/>
<rect x="1571.66" y="1092.29" width="14.81" height="14.78" fill="#0a0000"/>
<rect x="1585.87" y="1092.29" width="14.81" height="14.78" fill="#090000"/>
<rect x="1600.07" y="1092.29" width="14.81" height="14.78" fill="#0e0000"/>
<rect x="1614.28" y="1092.29" width="14.81" height="14.78" fill="#0d0000"/>
<rect x="1628.49" y="1092.29" width="14.81" height="14.78" fill="#060000"/>
<rect x="1642.69" y="1092.29" width="14.81" height="14.78" fill="#0e0000"/>
<rect x="1443.8" y="1106.47" width="14.81" height="14.78" fill="#070000"/>
<rect x="1458.01" y="1106.47" width="14.81" height="14.78" fill="#080000"/>
<rect x="1472.21" y="1106.47" width="14.81" height="14.78" fill="#0d0000"/>
<rect x="1486.42" y="1106.47" width="14.81" height="14.78" fill="#090000"/>
<rect x="1500.63" y="1106.47" width="14.81" height="14.78" fill="#0d0000"/>
<rect x="1514.83" y="1106.47" width="14.81" height="14.78" fill="#070000"/>
<rect x="1529.04" y="1106.47" width="14.81" height="14.78" fill="#bf0000"/>
<rect x="1543.25" y="1106.47" width="14.81" height="14.78" fill="#b70000"/>
<rect x="1557.45" y="1106.47" width="14.81" height="14.78" fill="#b70000"/>
<rect x="1571.66" y="1106.47" width="14.81" height="14.78" fill="#0a0000"/>
<rect x="1585.87" y="1106.47" width="14.81" height="14.78" fill="#080000"/>
<rect x="1600.07" y="1106.47" width="14.81" height="14.78" fill="#0a0000"/>
<rect x="1614.28" y="1106.47" width="14.81" height="14.78" fill="#0e0000"/>
<rect x="1628.49" y="1106.47" width="14.81" height="14.78" fill="#0c0000"/>
<rect x="1642.69" y="1106.47" width="14.81" height="14.78" fill="#050000"/>
<rect x="1443.8" y="1120.64" width="14.81" height="14.78" fill="#080000"/>
<rect x="1458.01" y="1120.64" width="14.81" height="14.78" fill="#0a0000"/>
<rect x="1472.21" y="1120.64" width="14.81" height="14.78" fill="#0a0000"/>
<rect x="1486.42" y="1120.64" width="14.81" height="14.78" fill="#0c0000"/>
<rect x="1500.63" y="1120.64" width="14.81" height="14.78" fill="#0a0000"/>
<rect x="1514.83" y="1120.64" width="14.81" height="14.78" fill="#060000"/>
<rect x="1529.04" y="1120.64" width="14.81" height="14.78" fill="#070000"/>
<rect x="1543.25" y="1120.64" width="14.81" height="14.78" fill="#0d0000"/>
<rect x="1557.45" y="1120.64" width="14.81" height="14.78" fill="#090000"/>
<rect x="1571.66" y="1120.64" width="14.81" height="14.78" fill="#0d0000"/>
<rect x="1585.87" y="1120.64" width="14.81" height="14.78" fill="#0f0000"/>
<rect x="1600.07" y="1120.64" width="14.81" height="14.78" fill="#0b0000"/>
<rect x="1614.28" y="1120.64" width="14.81" height="14.78" fill="#0c0000"/>
<rect x="1628.49" y="1120.64" width="14.81" height="14.78" fill="#0b0000"/>
<rect x="1642.69" y="1120.64" width="14.81" height="14.78" fill="#080000"/>
<rect x="1443.8" y="1134.82" width="14.81" height="14.78" fill="#0e0000"/>
<rect x="1458.01" y="1134.82" width="14.81" height="14.78" fill="#0a0000"/>
<rect x="1472.21" y="1134.82" width="14.81" height="14.78" fill="#0e0000"/>
<rect x="1486.42" y="1134.82" width="14.81" height="14.78" fill="#080000"/>
<rect x="1500.63" y="1134.82" width="14.81" height="14.78" fill="#0e0000"/>
<rect x="1514.83" y="1134.82" width="14.81" height="14.78" fill="#0d0000"/>
<rect x="1529.04" y="1134.82" width="14.81" height="14.78" fill="#0b0000"/>
<rect x="1543.25" y="1134.82" width="14.81" height="14.78" fill="#090000"/>
<rect x="1557.45" y="1134.82" width="14.81" height="14.78" fill="#060000"/>
<rect x="1571.66" y="1134.82" width="14.81" height="14.78" fill="#0d0000"/>
<rect x="1585.87" y="1134.82" width="14.81" height="14.78" fill="#090000"/>
<rect x="1600.07" y="1134.82" width="14.81" height="14.78" fill="#0c0000"/>
<rect x="1614.28" y="1134.82" width="14.81" height="14.78" fill="#060000"/>
<rect x="1628.49" y="1134.82" width="14.81" height="14.78" fill="#060000"/>
<rect x="1642.69" y="1134.82" width="14.81" height="14.78" fill="#060000"/>
</g>
<g shape-rendering="crispEdges">
<rect x="1704.3" y="609.8" width="212.5" height="255.1" fill="#1a0d00"/>
<rect x="1704.3" y="609.8" width="14.77" height="14.77" fill="#1c0e00"/>
<rect x="1718.47" y="609.8" width="14.77" height="14.77" fill="#1d0f00"/>
<rect x="1732.63" y="609.8" width="14.77" height="14.77" fill="#1e0f00"/>
<rect x="1746.8" y="609.8" width="14.77" height="14.77" fill="#201100"/>
<rect x="1760.97" y="609.8" width="14.77" height="14.77" fill="#1d0f00"/>
<rect x="1775.13" y="609.8" width="14.77" height="14.77" fill="#201000"/>
<rect x="1789.3" y="609.8" width="14.77" height="14.77" fill="#130900"/>
<rect x="1803.47" y="609.8" width="14.77" height="14.77" fill="#1a0d00"/>
<rect x="1817.63" y="609.8" width="14.77" height="14.77" fill="#201100"/>
<rect x="1831.8" y="609.8" width="14.77" height="14.77" fill="#1c0e00"/>
<rect x="1845.97" y="609.8" width="14.77" height="14.77" fill="#201000"/>
<rect x="1860.13" y="609.8" width="14.77" height="14.77" fill="#150a00"/>
<rect x="1874.3" y="609.8" width="14.77" height="14.77" fill="#1a0d00"/>
<rect x="1888.47" y="609.8" width="14.77" height="14.77" fill="#160b00"/>
<rect x="1902.63" y="609.8" width="14.77" height="14.77" fill="#1b0d00"/>
<rect x="1704.3" y="623.97" width="14.77" height="14.77" fill="#1b0e00"/>
<rect x="1718.47" y="623.97" width="14.77" height="14.77" fill="#130900"/>
<rect x="1732.63" y="623.97" width="14.77" height="14.77" fill="#160b00"/>
<rect x="1746.8" y="623.97" width="14.77" height="14.77" fill="#170b00"/>
<rect x="1760.97" y="623.97" width="14.77" height="14.77" fill="#201000"/>
<rect x="1775.13" y="623.97" width="14.77" height="14.77" fill="#1e0f00"/>
<rect x="1789.3" y="623.97" width="14.77" height="14.77" fill="#150a00"/>
<rect x="1803.47" y="623.97" width="14.77" height="14.77" fill="#1e0f00"/>
<rect x="1817.63" y="623.97" width="14.77" height="14.77" fill="#150a00"/>
<rect x="1831.8" y="623.97" width="14.77" height="14.77" fill="#1c0e00"/>
<rect x="1845.97" y="623.97" width="14.77" height="14.77" fill="#150a00"/>
<rect x="1860.13" y="623.97" width="14.77" height="14.77" fill="#130900"/>
<rect x="1874.3" y="623.97" width="14.77" height="14.77" fill="#1f1000"/>
<rect x="1888.47" y="623.97" width="14.77" height="14.77" fill="#160b00"/>
<rect x="1902.63" y="623.97" width="14.77" height="14.77" fill="#160b00"/>
<rect x="1704.3" y="638.14" width="14.77" height="14.77" fill="#211100"/>
<rect x="1718.47" y="638.14" width="14.77" height="14.77" fill="#1f1000"/>
<rect x="1732.63" y="638.14" width="14.77" height="14.77" fill="#f98003"/>
<rect x="1746.8" y="638.14" width="14.77" height="14.77" fill="#ff8506"/>
<rect x="1760.97" y="638.14" width="14.77" height="14.77" fill="#fc8204"/>
<rect x="1775.13" y="638.14" width="14.77" height="14.77" fill="#fe8305"/>
<rect x="1789.3" y="638.14" width="14.77" height="14.77" fill="#fb8103"/>
<rect x="1803.47" y="638.14" width="14.77" height="14.77" fill="#ff8606"/>
<rect x="1817.63" y="638.14" width="14.77" height="14.77" fill="#ff8405"/>
<rect x="1831.8" y="638.14" width="14.77" height="14.77" fill="#ff8606"/>
<rect x="1845.97" y="638.14" width="14.77" height="14.77" fill="#ff8606"/>
<rect x="1860.13" y="638.14" width="14.77" height="14.77" fill="#fe8303"/>
<rect x="1874.3" y="638.14" width="14.77" height="14.77" fill="#ff8304"/>
<rect x="1888.47" y="638.14" width="14.77" height="14.77" fill="#150a00"/>
<rect x="1902.63" y="638.14" width="14.77" height="14.77" fill="#150a00"/>
<rect x="1704.3" y="652.32" width="14.77" height="14.77" fill="#140a00"/>
<rect x="1718.47" y="652.32" width="14.77" height="14.77" fill="#170b00"/>
<rect x="1732.63" y="652.32" width="14.77" height="14.77" fill="#fb8204"/>
<rect x="1746.8" y="652.32" width="14.77" height="14.77" fill="#f77e02"/>
<rect x="1760.97" y="652.32" width="14.77" height="14.77" fill="#fc8305"/>
<rect x="1775.13" y="652.32" width="14.77" height="14.77" fill="#fa8103"/>
<rect x="1789.3" y="652.32" width="14.77" height="14.77" fill="#fb8103"/>
<rect x="1803.47" y="652.32" width="14.77" height="14.77" fill="#ff8405"/>
<rect x="1817.63" y="652.32" width="14.77" height="14.77" fill="#fd8304"/>
<rect x="1831.8" y="652.32" width="14.77" height="14.77" fill="#fc8203"/>
<rect x="1845.97" y="652.32" width="14.77" height="14.77" fill="#fe8304"/>
<rect x="1860.13" y="652.32" width="14.77" height="14.77" fill="#ff8505"/>
<rect x="1874.3" y="652.32" width="14.77" height="14.77" fill="#fc8102"/>
<rect x="1888.47" y="652.32" width="14.77" height="14.77" fill="#211100"/>
<rect x="1902.63" y="652.32" width="14.77" height="14.77" fill="#130900"/>
<rect x="1704.3" y="666.49" width="14.77" height="14.77" fill="#1d0f00"/>
<rect x="1718.47" y="666.49" width="14.77" height="14.77" fill="#1f1000"/>
<rect x="1732.63" y="666.49" width="14.77" height="14.77" fill="#130900"/>
<rect x="1746.8" y="666.49" width="14.77" height="14.77" fill="#1e0f00"/>
<rect x="1760.97" y="666.49" width="14.77" height="14.77" fill="#180c00"/>
<rect x="1775.13" y="666.49" width="14.77" height="14.77" fill="#1b0e00"/>
<rect x="1789.3" y="666.49" width="14.77" height="14.77" fill="#f77f02"/>
<rect x="1803.47" y="666.49" width="14.77" height="14.77" fill="#f87f02"/>
<rect x="1817.63" y="666.49" width="14.77" height="14.77" fill="#fa8003"/>
<rect x="1831.8" y="666.49" width="14.77" height="14.77" fill="#201100"/>
<rect x="1845.97" y="666.49" width="14.77" height="14.77" fill="#160b00"/>
<rect x="1860.13" y="666.49" width="14.77" height="14.77" fill="#1e0f00"/>
<rect x="1874.3" y="666.49" width="14.77" height="14.77" fill="#201000"/>
<rect x="1888.47" y="666.49" width="14.77" height="14.77" fill="#201100"/>
<rect x="1902.63" y="666.49" width="14.77" height="14.77" fill="#180c00"/>
<rect x="1704.3" y="680.66" width="14.77" height="14.77" fill="#180c00"/>
<rect x="1718.47" y="680.66" width="14.77" height="14.77" fill="#1a0d00"/>
<rect x="1732.63" y="680.66" width="14.77" height="14.77" fill="#1e0f00"/>
<rect x="1746.8" y="680.66" width="14.77" height="14.77" fill="#150a00"/>
<rect x="1760.97" y="680.66" width="14.77" height="14.77" fill="#1d0f00"/>
<rect x="1775.13" y="680.66" width="14.77" height="14.77" fill="#1e0f00"/>
<rect x="1789.3" y="680.66" width="14.77" height="14.77" fill="#fd8305"/>
<rect x="1803.47" y="680.66" width="14.77" height="14.77" fill="#f77e02"/>
<rect x="1817.63" y="680.66" width="14.77" height="14.77" fill="#ff8406"/>
<rect x="1831.8" y="680.66" width="14.77" height="14.77" fill="#140a00"/>
<rect x="1845.97" y="680.66" width="14.77" height="14.77" fill="#180c00"/>
<rect x="1860.13" y="680.66" width="14.77" height="14.77" fill="#1c0e00"/>
<rect x="1874.3" y="680.66" width="14.77" height="14.77" fill="#201000"/>
<rect x="1888.47" y="680.66" width="14.77" height="14.77" fill="#180c00"/>
<rect x="1902.63" y="680.66" width="14.77" height="14.77" fill="#201000"/>
<rect x="1704.3" y="694.83" width="14.77" height="14.77" fill="#1b0d00"/>
<rect x="1718.47" y="694.83" width="14.77" height="14.77" fill="#170b00"/>
<rect x="1732.63" y="694.83" width="14.77" height="14.77" fill="#170c00"/>
<rect x="1746.8" y="694.83" width="14.77" height="14.77" fill="#150a00"/>
<rect x="1760.97" y="694.83" width="14.77" height="14.77" fill="#140a00"/>
<rect x="1775.13" y="694.83" width="14.77" height="14.77" fill="#150a00"/>
<rect x="1789.3" y="694.83" width="14.77" height="14.77" fill="#fb8205"/>
<rect x="1803.47" y="694.83" width="14.77" height="14.77" fill="#fe8406"/>
<rect x="1817.63" y="694.83" width="14.77" height="14.77" fill="#f77f03"/>
<rect x="1831.8" y="694.83" width="14.77" height="14.77" fill="#140900"/>
<rect x="1845.97" y="694.83" width="14.77" height="14.77" fill="#211100"/>
<rect x="1860.13" y="694.83" width="14.77" height="14.77" fill="#1a0d00"/>
<rect x="1874.3" y="694.83" width="14.77" height="14.77" fill="#190c00"/>
<rect x="1888.47" y="694.83" width="14.77" height="14.77" fill="#160b00"/>
<rect x="1902.63" y="694.83" width="14.77" height="14.77" fill="#1b0e00"/>
<rect x="1704.3" y="709.01" width="14.77" height="14.77" fill="#1f1000"/>
<rect x="1718.47" y="709.01" width="14.77" height="14.77" fill="#190d00"/>
<rect x="1732.63" y="709.01" width="14.77" height="14.77" fill="#190c00"/>
<rect x="1746.8" y="709.01" width="14.77" height="14.77" fill="#140900"/>
<rect x="1760.97" y="709.01" width="14.77" height="14.77" fill="#201000"/>
<rect x="1775.13" y="709.01" width="14.77" height="14.77" fill="#130900"/>
<rect x="1789.3" y="709.01" width="14.77" height="14.77" fill="#f88004"/>
<rect x="1803.47" y="709.01" width="14.77" height="14.77" fill="#fb8205"/>
<rect x="1817.63" y="709.01" width="14.77" height="14.77" fill="#f67e02"/>
<rect x="1831.8" y="709.01" width="14.77" height="14.77" fill="#1d0f00"/>
<rect x="1845.97" y="709.01" width="14.77" height="14.77" fill="#201100"/>
<rect x="1860.13" y="709.01" width="14.77" height="14.77" fill="#1c0e00"/>
<rect x="1874.3" y="709.01" width="14.77" height="14.77" fill="#1e0f00"/>
<rect x="1888.47" y="709.01" width="14.77" height="14.77" fill="#140a00"/>
<rect x="1902.63" y="709.01" width="14.77" height="14.77" fill="#190c00"/>
<rect x="1704.3" y="723.18" width="14.77" height="14.77" fill="#150a00"/>
<rect x="1718.47" y="723.18" width="14.77" height="14.77" fill="#1f1000"/>
<rect x="1732.63" y="723.18" width="14.77" height="14.77" fill="#170b00"/>
<rect x="1746.8" y="723.18" width="14.77" height="14.77" fill="#190d00"/>
<rect x="1760.97" y="723.18" width="14.77" height="14.77" fill="#211100"/>
<rect x="1775.13" y="723.18" width="14.77" height="14.77" fill="#1f1000"/>
<rect x="1789.3" y="723.18" width="14.77" height="14.77" fill="#fb8206"/>
<rect x="1803.47" y="723.18" width="14.77" height="14.77" fill="#f77f04"/>
<rect x="1817.63" y="723.18" width="14.77" height="14.77" fill="#f88004"/>
<rect x="1831.8" y="723.18" width="14.77" height="14.77" fill="#1d0f00"/>
<rect x="1845.97" y="723.18" width="14.77" height="14.77" fill="#1a0d00"/>
<rect x="1860.13" y="723.18" width="14.77" height="14.77" fill="#170b00"/>
<rect x="1874.3" y="723.18" width="14.77" height="14.77" fill="#190c00"/>
<rect x="1888.47" y="723.18" width="14.77" height="14.77" fill="#150a00"/>
<rect x="1902.63" y="723.18" width="14.77" height="14.77" fill="#180c00"/>
<rect x="1704.3" y="737.35" width="14.77" height="14.77" fill="#211100"/>
<rect x="1718.47" y="737.35" width="14.77" height="14.77" fill="#201100"/>
<rect x="1732.63" y="737.35" width="14.77" height="14.77" fill="#1c0e00"/>
<rect x="1746.8" y="737.35" width="14.77" height="14.77" fill="#1a0d00"/>
<rect x="1760.97" y="737.35" width="14.77" height="14.77" fill="#180c00"/>
<rect x="1775.13" y="737.35" width="14.77" height="14.77" fill="#140a00"/>
<rect x="1789.3" y="737.35" width="14.77" height="14.77" fill="#f47d03"/>
<rect x="1803.47" y="737.35" width="14.77" height="14.77" fill="#f98105"/>
<rect x="1817.63" y="737.35" width="14.77" height="14.77" fill="#fa8205"/>
<rect x="1831.8" y="737.35" width="14.77" height="14.77" fill="#180c00"/>
<rect x="1845.97" y="737.35" width="14.77" height="14.77" fill="#1e0f00"/>
<rect x="1860.13" y="737.35" width="14.77" height="14.77" fill="#1e0f00"/>
<rect x="1874.3" y="737.35" width="14.77" height="14.77" fill="#1d0f00"/>
<rect x="1888.47" y="737.35" width="14.77" height="14.77" fill="#1c0e00"/>
<rect x="1902.63" y="737.35" width="14.77" height="14.77" fill="#1e0f00"/>
<rect x="1704.3" y="751.52" width="14.77" height="14.77" fill="#180c00"/>
<rect x="1718.47" y="751.52" width="14.77" height="14.77" fill="#1d0f00"/>
<rect x="1732.63" y="751.52" width="14.77" height="14.77" fill="#170b00"/>
<rect x="1746.8" y="751.52" width="14.77" height="14.77" fill="#1a0d00"/>
<rect x="1760.97" y="751.52" width="14.77" height="14.77" fill="#1e0f00"/>
<rect x="1775.13" y="751.52" width="14.77" height="14.77" fill="#1d0f00"/>
<rect x="1789.3" y="751.52" width="14.77" height="14.77" fill="#f37d03"/>
<rect x="1803.47" y="751.52" width="14.77" height="14.77" fill="#f98106"/>
<rect x="1817.63" y="751.52" width="14.77" height="14.77" fill="#f78005"/>
<rect x="1831.8" y="751.52" width="14.77" height="14.77" fill="#1b0e00"/>
<rect x="1845.97" y="751.52" width="14.77" height="14.77" fill="#130900"/>
<rect x="1860.13" y="751.52" width="14.77" height="14.77" fill="#1b0d00"/>
<rect x="1874.3" y="751.52" width="14.77" height="14.77" fill="#170b00"/>
<rect x="1888.47" y="751.52" width="14.77" height="14.77" fill="#1c0e00"/>
<rect x="1902.63" y="751.52" width="14.77" height="14.77" fill="#190d00"/>
<rect x="1704.3" y="765.69" width="14.77" height="14.77" fill="#1e1000"/>
<rect x="1718.47" y="765.69" width="14.77" height="14.77" fill="#1c0e00"/>
<rect x="1732.63" y="765.69" width="14.77" height="14.77" fill="#1e0f00"/>
<rect x="1746.8" y="765.69" width="14.77" height="14.77" fill="#180c00"/>
<rect x="1760.97" y="765.69" width="14.77" height="14.77" fill="#1c0e00"/>
<rect x="1775.13" y="765.69" width="14.77" height="14.77" fill="#1d0f00"/>
<rect x="1789.3" y="765.69" width="14.77" height="14.77" fill="#f68005"/>
<rect x="1803.47" y="765.69" width="14.77" height="14.77" fill="#f37d03"/>
<rect x="1817.63" y="765.69" width="14.77" height="14.77" fill="#f88005"/>
<rect x="1831.8" y="765.69" width="14.77" height="14.77" fill="#1f1000"/>
<rect x="1845.97" y="765.69" width="14.77" height="14.77" fill="#1d0f00"/>
<rect x="1860.13" y="765.69" width="14.77" height="14.77" fill="#211100"/>
<rect x="1874.3" y="765.69" width="14.77" height="14.77" fill="#201100"/>
<rect x="1888.47" y="765.69" width="14.77" height="14.77" fill="#1a0d00"/>
<rect x="1902.63" y="765.69" width="14.77" height="14.77" fill="#1a0d00"/>
<rect x="1704.3" y="779.87" width="14.77" height="14.77" fill="#150a00"/>
<rect x="1718.47" y="779.87" width="14.77" height="14.77" fill="#1f1000"/>
<rect x="1732.63" y="779.87" width="14.77" height="14.77" fill="#201000"/>
<rect x="1746.8" y="779.87" width="14.77" height="14.77" fill="#1a0d00"/>
<rect x="1760.97" y="779.87" width="14.77" height="14.77" fill="#1d0f00"/>
<rect x="1775.13" y="779.87" width="14.77" height="14.77" fill="#1d0f00"/>
<rect x="1789.3" y="779.87" width="14.77" height="14.77" fill="#f57f05"/>
<rect x="1803.47" y="779.87" width="14.77" height="14.77" fill="#f17c03"/>
<rect x="1817.63" y="779.87" width="14.77" height="14.77" fill="#f67f05"/>
<rect x="1831.8" y="779.87" width="14.77" height="14.77" fill="#1b0e00"/>
<rect x="1845.97" y="779.87" width="14.77" height="14.77" fill="#1c0e00"/>
<rect x="1860.13" y="779.87" width="14.77" height="14.77" fill="#190c00"/>
<rect x="1874.3" y="779.87" width="14.77" height="14.77" fill="#1c0e00"/>
<rect x="1888.47" y="779.87" width="14.77" height="14.77" fill="#1e0f00"/>
<rect x="1902.63" y="779.87" width="14.77" height="14.77" fill="#1c0e00"/>
<rect x="1704.3" y="794.04" width="14.77" height="14.77" fill="#1d0f00"/>
<rect x="1718.47" y="794.04" width="14.77" height="14.77" fill="#130900"/>
<rect x="1732.63" y="794.04" width="14.77" height="14.77" fill="#150a00"/>
<rect x="1746.8" y="794.04" width="14.77" height="14.77" fill="#190d00"/>
<rect x="1760.97" y="794.04" width="14.77" height="14.77" fill="#1c0e00"/>
<rect x="1775.13" y="794.04" width="14.77" height="14.77" fill="#160b00"/>
<rect x="1789.3" y="794.04" width="14.77" height="14.77" fill="#f37e05"/>
<rect x="1803.47" y="794.04" width="14.77" height="14.77" fill="#f37e04"/>
<rect x="1817.63" y="794.04" width="14.77" height="14.77" fill="#ef7b02"/>
<rect x="1831.8" y="794.04" width="14.77" height="14.77" fill="#1a0d00"/>
<rect x="1845.97" y="794.04" width="14.77" height="14.77" fill="#160b00"/>
<rect x="1860.13" y="794.04" width="14.77" height="14.77" fill="#140900"/>
<rect x="1874.3" y="794.04" width="14.77" height="14.77" fill="#150a00"/>
<rect x="1888.47" y="794.04" width="14.77" height="14.77" fill="#170c00"/>
<rect x="1902.63" y="794.04" width="14.77" height="14.77" fill="#160a00"/>
<rect x="1704.3" y="808.21" width="14.77" height="14.77" fill="#160b00"/>
<rect x="1718.47" y="808.21" width="14.77" height="14.77" fill="#130900"/>
<rect x="1732.63" y="808.21" width="14.77" height="14.77" fill="#1a0d00"/>
<rect x="1746.8" y="808.21" width="14.77" height="14.77" fill="#180c00"/>
<rect x="1760.97" y="808.21" width="14.77" height="14.77" fill="#1c0e00"/>
<rect x="1775.13" y="808.21" width="14.77" height="14.77" fill="#1b0e00"/>
<rect x="1789.3" y="808.21" width="14.77" height="14.77" fill="#ef7b03"/>
<rect x="1803.47" y="808.21" width="14.77" height="14.77" fill="#f47f05"/>
<rect x="1817.63" y="808.21" width="14.77" height="14.77" fill="#ee7a02"/>
<rect x="1831.8" y="808.21" width="14.77" height="14.77" fill="#190c00"/>
<rect x="1845.97" y="808.21" width="14.77" height="14.77" fill="#170b00"/>
<rect x="1860.13" y="808.21" width="14.77" height="14.77" fill="#190c00"/>
<rect x="1874.3" y="808.21" width="14.77" height="14.77" fill="#150a00"/>
<rect x="1888.47" y="808.21" width="14.77" height="14.77" fill="#1f1000"/>
<rect x="1902.63" y="808.21" width="14.77" height="14.77" fill="#180c00"/>
<rect x="1704.3" y="822.38" width="14.77" height="14.77" fill="#140900"/>
<rect x="1718.47" y="822.38" width="14.77" height="14.77" fill="#1c0e00"/>
<rect x="1732.63" y="822.38" width="14.77" height="14.77" fill="#140a00"/>
<rect x="1746.8" y="822.38" width="14.77" height="14.77" fill="#1b0d00"/>
<rect x="1760.97" y="822.38" width="14.77" height="14.77" fill="#180c00"/>
<rect x="1775.13" y="822.38" width="14.77" height="14.77" fill="#1b0e00"/>
<rect x="1789.3" y="822.38" width="14.77" height="14.77" fill="#f37e06"/>
<rect x="1803.47" y="822.38" width="14.77" height="14.77" fill="#f37e05"/>
<rect x="1817.63" y="822.38" width="14.77" height="14.77" fill="#f07c03"/>
<rect x="1831.8" y="822.38" width="14.77" height="14.77" fill="#1e1000"/>
<rect x="1845.97" y="822.38" width="14.77" height="14.77" fill="#1c0e00"/>
<rect x="1860.13" y="822.38" width="14.77" height="14.77" fill="#180c00"/>
<rect x="1874.3" y="822.38" width="14.77" height="14.77" fill="#150a00"/>
<rect x="1888.47" y="822.38" width="14.77" height="14.77" fill="#1b0e00"/>
<rect x="1902.63" y="822.38" width="14.77" height="14.77" fill="#1b0e00"/>
<rect x="1704.3" y="836.56" width="14.77" height="14.77" fill="#201100"/>
<rect x="1718.47" y="836.56" width="14.77" height="14.77" fill="#211100"/>
<rect x="1732.63" y="836.56" width="14.77" height="14.77" fill="#1c0e00"/>
<rect x="1746.8" y="836.56" width="14.77" height="14.77" fill="#180c00"/>
<rect x="1760.97" y="836.56" width="14.77" height="14.77" fill="#201000"/>
<rect x="1775.13" y="836.56" width="14.77" height="14.77" fill="#130900"/>
<rect x="1789.3" y="836.56" width="14.77" height="14.77" fill="#150a00"/>
<rect x="1803.47" y="836.56" width="14.77" height="14.77" fill="#1b0e00"/>
<rect x="1817.63" y="836.56" width="14.77" height="14.77" fill="#1c0e00"/>
<rect x="1831.8" y="836.56" width="14.77" height="14.77" fill="#150a00"/>
<rect x="1845.97" y="836.56" width="14.77" height="14.77" fill="#1c0e00"/>
<rect x="1860.13" y="836.56" width="14.77" height="14.77" fill="#1f1000"/>
<rect x="1874.3" y="836.56" width="14.77" height="14.77" fill="#180c00"/>
<rect x="1888.47" y="836.56" width="14.77" height="14.77" fill="#190c00"/>
<rect x="1902.63" y="836.56" width="14.77" height="14.77" fill="#160b00"/>
<rect x="1704.3" y="850.73" width="14.77" height="14.77" fill="#170b00"/>
<rect x="1718.47" y="850.73" width="14.77" height="14.77" fill="#211100"/>
<rect x="1732.63" y="850.73" width="14.77" height="14.77" fill="#180c00"/>
<rect x="1746.8" y="850.73" width="14.77" height="14.77" fill="#201100"/>
<rect x="1760.97" y="850.73" width="14.77" height="14.77" fill="#201000"/>
<rect x="1775.13" y="850.73" width="14.77" height="14.77" fill="#1b0e00"/>
<rect x="1789.3" y="850.73" width="14.77" height="14.77" fill="#170b00"/>
<rect x="1803.47" y="850.73" width="14.77" height="14.77" fill="#211100"/>
<rect x="1817.63" y="850.73" width="14.77" height="14.77" fill="#1a0d00"/>
<rect x="1831.8" y="850.73" width="14.77" height="14.77" fill="#190c00"/>
<rect x="1845.97" y="850.73" width="14.77" height="14.77" fill="#170c00"/>
<rect x="1860.13" y="850.73" width="14.77" height="14.77" fill="#211100"/>
<rect x="1874.3" y="850.73" width="14.77" height="14.77" fill="#1a0d00"/>
<rect x="1888.47" y="850.73" width="14.77" height="14.77" fill="#170b00"/>
<rect x="1902.63" y="850.73" width="14.77" height="14.77" fill="#1a0d00"/>
</g>
<g shape-rendering="crispEdges">
<rect x="1704.3" y="893.8" width="212.5" height="255.2" fill="#140a00"/>
<rect x="1704.3" y="893.8" width="14.77" height="14.78" fill="#180c00"/>
<rect x="1718.47" y="893.8" width="14.77" height="14.78" fill="#180c00"/>
<rect x="1732.63" y="893.8" width="14.77" height="14.78" fill="#140a00"/>
<rect x="1746.8" y="893.8" width="14.77" height="14.78" fill="#110900"/>
<rect x="1760.97" y="893.8" width="14.77" height="14.78" fill="#0e0700"/>
<rect x="1775.13" y="893.8" width="14.77" height="14.78" fill="#160b00"/>
<rect x="1789.3" y="893.8" width="14.77" height="14.78" fill="#140a00"/>
<rect x="1803.47" y="893.8" width="14.77" height="14.78" fill="#170c00"/>
<rect x="1817.63" y="893.8" width="14.77" height="14.78" fill="#120900"/>
<rect x="1831.8" y="893.8" width="14.77" height="14.78" fill="#170c00"/>
<rect x="1845.97" y="893.8" width="14.77" height="14.78" fill="#110900"/>
<rect x="1860.13" y="893.8" width="14.77" height="14.78" fill="#180c00"/>
<rect x="1874.3" y="893.8" width="14.77" height="14.78" fill="#170b00"/>
<rect x="1888.47" y="893.8" width="14.77" height="14.78" fill="#130900"/>
<rect x="1902.63" y="893.8" width="14.77" height="14.78" fill="#140a00"/>
<rect x="1704.3" y="907.98" width="14.77" height="14.78" fill="#160b00"/>
<rect x="1718.47" y="907.98" width="14.77" height="14.78" fill="#100800"/>
<rect x="1732.63" y="907.98" width="14.77" height="14.78" fill="#150a00"/>
<rect x="1746.8" y="907.98" width="14.77" height="14.78" fill="#180c00"/>
<rect x="1760.97" y="907.98" width="14.77" height="14.78" fill="#110900"/>
<rect x="1775.13" y="907.98" width="14.77" height="14.78" fill="#180c00"/>
<rect x="1789.3" y="907.98" width="14.77" height="14.78" fill="#160b00"/>
<rect x="1803.47" y="907.98" width="14.77" height="14.78" fill="#180c00"/>
<rect x="1817.63" y="907.98" width="14.77" height="14.78" fill="#120900"/>
<rect x="1831.8" y="907.98" width="14.77" height="14.78" fill="#0f0800"/>
<rect x="1845.97" y="907.98" width="14.77" height="14.78" fill="#180c00"/>
<rect x="1860.13" y="907.98" width="14.77" height="14.78" fill="#180c00"/>
<rect x="1874.3" y="907.98" width="14.77" height="14.78" fill="#130a00"/>
<rect x="1888.47" y="907.98" width="14.77" height="14.78" fill="#0f0800"/>
<rect x="1902.63" y="907.98" width="14.77" height="14.78" fill="#100800"/>
<rect x="1704.3" y="922.16" width="14.77" height="14.78" fill="#160b00"/>
<rect x="1718.47" y="922.16" width="14.77" height="14.78" fill="#110900"/>
<rect x="1732.63" y="922.16" width="14.77" height="14.78" fill="#e57806"/>
<rect x="1746.8" y="922.16" width="14.77" height="14.78" fill="#e27604"/>
<rect x="1760.97" y="922.16" width="14.77" height="14.78" fill="#e07403"/>
<rect x="1775.13" y="922.16" width="14.77" height="14.78" fill="#e47705"/>
<rect x="1789.3" y="922.16" width="14.77" height="14.78" fill="#e27603"/>
<rect x="1803.47" y="922.16" width="14.77" height="14.78" fill="#e77906"/>
<rect x="1817.63" y="922.16" width="14.77" height="14.78" fill="#e77a06"/>
<rect x="1831.8" y="922.16" width="14.77" height="14.78" fill="#e57704"/>
<rect x="1845.97" y="922.16" width="14.77" height="14.78" fill="#e67805"/>
<rect x="1860.13" y="922.16" width="14.77" height="14.78" fill="#e77905"/>
<rect x="1874.3" y="922.16" width="14.77" height="14.78" fill="#e87a05"/>
<rect x="1888.47" y="922.16" width="14.77" height="14.78" fill="#1a0d00"/>
<rect x="1902.63" y="922.16" width="14.77" height="14.78" fill="#0e0700"/>
<rect x="1704.3" y="936.33" width="14.77" height="14.78" fill="#120900"/>
<rect x="1718.47" y="936.33" width="14.77" height="14.78" fill="#150b00"/>
<rect x="1732.63" y="936.33" width="14.77" height="14.78" fill="#df7403"/>
<rect x="1746.8" y="936.33" width="14.77" height="14.78" fill="#e17604"/>
<rect x="1760.97" y="936.33" width="14.77" height="14.78" fill="#de7302"/>
<rect x="1775.13" y="936.33" width="14.77" height="14.78" fill="#e57806"/>
<rect x="1789.3" y="936.33" width="14.77" height="14.78" fill="#e27604"/>
<rect x="1803.47" y="936.33" width="14.77" height="14.78" fill="#e07402"/>
<rect x="1817.63" y="936.33" width="14.77" height="14.78" fill="#e47805"/>
<rect x="1831.8" y="936.33" width="14.77" height="14.78" fill="#e27603"/>
<rect x="1845.97" y="936.33" width="14.77" height="14.78" fill="#e27503"/>
<rect x="1860.13" y="936.33" width="14.77" height="14.78" fill="#e47704"/>
<rect x="1874.3" y="936.33" width="14.77" height="14.78" fill="#e27503"/>
<rect x="1888.47" y="936.33" width="14.77" height="14.78" fill="#110800"/>
<rect x="1902.63" y="936.33" width="14.77" height="14.78" fill="#180c00"/>
<rect x="1704.3" y="950.51" width="14.77" height="14.78" fill="#160b00"/>
<rect x="1718.47" y="950.51" width="14.77" height="14.78" fill="#0e0700"/>
<rect x="1732.63" y="950.51" width="14.77" height="14.78" fill="#170c00"/>
<rect x="1746.8" y="950.51" width="14.77" height="14.78" fill="#0e0700"/>
<rect x="1760.97" y="950.51" width="14.77" height="14.78" fill="#120900"/>
<rect x="1775.13" y="950.51" width="14.77" height="14.78" fill="#190c00"/>
<rect x="1789.3" y="950.51" width="14.77" height="14.78" fill="#e27604"/>
<rect x="1803.47" y="950.51" width="14.77" height="14.78" fill="#e07503"/>
<rect x="1817.63" y="950.51" width="14.77" height="14.78" fill="#e17504"/>
<rect x="1831.8" y="950.51" width="14.77" height="14.78" fill="#130900"/>
<rect x="1845.97" y="950.51" width="14.77" height="14.78" fill="#100800"/>
<rect x="1860.13" y="950.51" width="14.77" height="14.78" fill="#1a0d00"/>
<rect x="1874.3" y="950.51" width="14.77" height="14.78" fill="#0f0700"/>
<rect x="1888.47" y="950.51" width="14.77" height="14.78" fill="#130a00"/>
<rect x="1902.63" y="950.51" width="14.77" height="14.78" fill="#170b00"/>
<rect x="1704.3" y="964.69" width="14.77" height="14.78" fill="#130900"/>
<rect x="1718.47" y="964.69" width="14.77" height="14.78" fill="#1a0d00"/>
<rect x="1732.63" y="964.69" width="14.77" height="14.78" fill="#110800"/>
<rect x="1746.8" y="964.69" width="14.77" height="14.78" fill="#1a0d00"/>
<rect x="1760.97" y="964.69" width="14.77" height="14.78" fill="#190c00"/>
<rect x="1775.13" y="964.69" width="14.77" height="14.78" fill="#160b00"/>
<rect x="1789.3" y="964.69" width="14.77" height="14.78" fill="#e37706"/>
<rect x="1803.47" y="964.69" width="14.77" height="14.78" fill="#e07504"/>
<rect x="1817.63" y="964.69" width="14.77" height="14.78" fill="#e47805"/>
<rect x="1831.8" y="964.69" width="14.77" height="14.78" fill="#180c00"/>
<rect x="1845.97" y="964.69" width="14.77" height="14.78" fill="#140a00"/>
<rect x="1860.13" y="964.69" width="14.77" height="14.78" fill="#140a00"/>
<rect x="1874.3" y="964.69" width="14.77" height="14.78" fill="#160b00"/>
<rect x="1888.47" y="964.69" width="14.77" height="14.78" fill="#130900"/>
<rect x="1902.63" y="964.69" width="14.77" height="14.78" fill="#0f0800"/>
<rect x="1704.3" y="978.87" width="14.77" height="14.78" fill="#170b00"/>
<rect x="1718.47" y="978.87" width="14.77" height="14.78" fill="#110900"/>
<rect x="1732.63" y="978.87" width="14.77" height="14.78" fill="#140a00"/>
<rect x="1746.8" y="978.87" width="14.77" height="14.78" fill="#170c00"/>
<rect x="1760.97" y="978.87" width="14.77" height="14.78" fill="#100800"/>
<rect x="1775.13" y="978.87" width="14.77" height="14.78" fill="#0e0700"/>
<rect x="1789.3" y="978.87" width="14.77" height="14.78" fill="#dc7202"/>
<rect x="1803.47" y="978.87" width="14.77" height="14.78" fill="#e17504"/>
<rect x="1817.63" y="978.87" width="14.77" height="14.78" fill="#df7403"/>
<rect x="1831.8" y="978.87" width="14.77" height="14.78" fill="#110900"/>
<rect x="1845.97" y="978.87" width="14.77" height="14.78" fill="#130a00"/>
<rect x="1860.13" y="978.87" width="14.77" height="14.78" fill="#190d00"/>
<rect x="1874.3" y="978.87" width="14.77" height="14.78" fill="#110900"/>
<rect x="1888.47" y="978.87" width="14.77" height="14.78" fill="#130900"/>
<rect x="1902.63" y="978.87" width="14.77" height="14.78" fill="#190c00"/>
<rect x="1704.3" y="993.04" width="14.77" height="14.78" fill="#150b00"/>
<rect x="1718.47" y="993.04" width="14.77" height="14.78" fill="#110900"/>
<rect x="1732.63" y="993.04" width="14.77" height="14.78" fill="#140a00"/>
<rect x="1746.8" y="993.04" width="14.77" height="14.78" fill="#140a00"/>
<rect x="1760.97" y="993.04" width="14.77" height="14.78" fill="#100800"/>
<rect x="1775.13" y="993.04" width="14.77" height="14.78" fill="#130900"/>
<rect x="1789.3" y="993.04" width="14.77" height="14.78" fill="#dd7303"/>
<rect x="1803.47" y="993.04" width="14.77" height="14.78" fill="#e17605"/>
<rect x="1817.63" y="993.04" width="14.77" height="14.78" fill="#de7403"/>
<rect x="1831.8" y="993.04" width="14.77" height="14.78" fill="#160b00"/>
<rect x="1845.97" y="993.04" width="14.77" height="14.78" fill="#1a0d00"/>
<rect x="1860.13" y="993.04" width="14.77" height="14.78" fill="#190d00"/>
<rect x="1874.3" y="993.04" width="14.77" height="14.78" fill="#130900"/>
<rect x="1888.47" y="993.04" width="14.77" height="14.78" fill="#150b00"/>
<rect x="1902.63" y="993.04" width="14.77" height="14.78" fill="#120900"/>
<rect x="1704.3" y="1007.22" width="14.77" height="14.78" fill="#130900"/>
<rect x="1718.47" y="1007.22" width="14.77" height="14.78" fill="#140a00"/>
<rect x="1732.63" y="1007.22" width="14.77" height="14.78" fill="#180c00"/>
<rect x="1746.8" y="1007.22" width="14.77" height="14.78" fill="#190d00"/>
<rect x="1760.97" y="1007.22" width="14.77" height="14.78" fill="#110900"/>
<rect x="1775.13" y="1007.22" width="14.77" height="14.78" fill="#0e0700"/>
<rect x="1789.3" y="1007.22" width="14.77" height="14.78" fill="#dd7304"/>
<rect x="1803.47" y="1007.22" width="14.77" height="14.78" fill="#da7102"/>
<rect x="1817.63" y="1007.22" width="14.77" height="14.78" fill="#db7102"/>
<rect x="1831.8" y="1007.22" width="14.77" height="14.78" fill="#170c00"/>
<rect x="1845.97" y="1007.22" width="14.77" height="14.78" fill="#0f0800"/>
<rect x="1860.13" y="1007.22" width="14.77" height="14.78" fill="#170b00"/>
<rect x="1874.3" y="1007.22" width="14.77" height="14.78" fill="#120900"/>
<rect x="1888.47" y="1007.22" width="14.77" height="14.78" fill="#190d00"/>
<rect x="1902.63" y="1007.22" width="14.77" height="14.78" fill="#180c00"/>
<rect x="1704.3" y="1021.4" width="14.77" height="14.78" fill="#0f0700"/>
<rect x="1718.47" y="1021.4" width="14.77" height="14.78" fill="#100800"/>
<rect x="1732.63" y="1021.4" width="14.77" height="14.78" fill="#190d00"/>
<rect x="1746.8" y="1021.4" width="14.77" height="14.78" fill="#150b00"/>
<rect x="1760.97" y="1021.4" width="14.77" height="14.78" fill="#130a00"/>
<rect x="1775.13" y="1021.4" width="14.77" height="14.78" fill="#170c00"/>
<rect x="1789.3" y="1021.4" width="14.77" height="14.78" fill="#df7505"/>
<rect x="1803.47" y="1021.4" width="14.77" height="14.78" fill="#dd7304"/>
<rect x="1817.63" y="1021.4" width="14.77" height="14.78" fill="#dd7304"/>
<rect x="1831.8" y="1021.4" width="14.77" height="14.78" fill="#0f0800"/>
<rect x="1845.97" y="1021.4" width="14.77" height="14.78" fill="#120900"/>
<rect x="1860.13" y="1021.4" width="14.77" height="14.78" fill="#100800"/>
<rect x="1874.3" y="1021.4" width="14.77" height="14.78" fill="#160b00"/>
<rect x="1888.47" y="1021.4" width="14.77" height="14.78" fill="#150b00"/>
<rect x="1902.63" y="1021.4" width="14.77" height="14.78" fill="#100800"/>
<rect x="1704.3" y="1035.58" width="14.77" height="14.78" fill="#160b00"/>
<rect x="1718.47" y="1035.58" width="14.77" height="14.78" fill="#0f0800"/>
<rect x="1732.63" y="1035.58" width="14.77" height="14.78" fill="#0f0800"/>
<rect x="1746.8" y="1035.58" width="14.77" height="14.78" fill="#160b00"/>
<rect x="1760.97" y="1035.58" width="14.77" height="14.78" fill="#140a00"/>
<rect x="1775.13" y="1035.58" width="14.77" height="14.78" fill="#190c00"/>
<rect x="1789.3" y="1035.58" width="14.77" height="14.78" fill="#dd7304"/>
<rect x="1803.47" y="1035.58" width="14.77" height="14.78" fill="#de7405"/>
<rect x="1817.63" y="1035.58" width="14.77" height="14.78" fill="#da7102"/>
<rect x="1831.8" y="1035.58" width="14.77" height="14.78" fill="#180c00"/>
<rect x="1845.97" y="1035.58" width="14.77" height="14.78" fill="#0f0800"/>
<rect x="1860.13" y="1035.58" width="14.77" height="14.78" fill="#150b00"/>
<rect x="1874.3" y="1035.58" width="14.77" height="14.78" fill="#190c00"/>
<rect x="1888.47" y="1035.58" width="14.77" height="14.78" fill="#190c00"/>
<rect x="1902.63" y="1035.58" width="14.77" height="14.78" fill="#190c00"/>
<rect x="1704.3" y="1049.76" width="14.77" height="14.78" fill="#130a00"/>
<rect x="1718.47" y="1049.76" width="14.77" height="14.78" fill="#160b00"/>
<rect x="1732.63" y="1049.76" width="14.77" height="14.78" fill="#170c00"/>
<rect x="1746.8" y="1049.76" width="14.77" height="14.78" fill="#100800"/>
<rect x="1760.97" y="1049.76" width="14.77" height="14.78" fill="#190d00"/>
<rect x="1775.13" y="1049.76" width="14.77" height="14.78" fill="#190c00"/>
<rect x="1789.3" y="1049.76" width="14.77" height="14.78" fill="#da7204"/>
<rect x="1803.47" y="1049.76" width="14.77" height="14.78" fill="#dd7405"/>
<rect x="1817.63" y="1049.76" width="14.77" height="14.78" fill="#db7204"/>
<rect x="1831.8" y="1049.76" width="14.77" height="14.78" fill="#110900"/>
<rect x="1845.97" y="1049.76" width="14.77" height="14.78" fill="#170b00"/>
<rect x="1860.13" y="1049.76" width="14.77" height="14.78" fill="#0f0700"/>
<rect x="1874.3" y="1049.76" width="14.77" height="14.78" fill="#180c00"/>
<rect x="1888.47" y="1049.76" width="14.77" height="14.78" fill="#1a0d00"/>
<rect x="1902.63" y="1049.76" width="14.77" height="14.78" fill="#110900"/>
<rect x="1704.3" y="1063.93" width="14.77" height="14.78" fill="#190d00"/>
<rect x="1718.47" y="1063.93" width="14.77" height="14.78" fill="#0f0800"/>
<rect x="1732.63" y="1063.93" width="14.77" height="14.78" fill="#180c00"/>
<rect x="1746.8" y="1063.93" width="14.77" height="14.78" fill="#110900"/>
<rect x="1760.97" y="1063.93" width="14.77" height="14.78" fill="#1a0d00"/>
<rect x="1775.13" y="1063.93" width="14.77" height="14.78" fill="#130a00"/>
<rect x="1789.3" y="1063.93" width="14.77" height="14.78" fill="#dd7406"/>
<rect x="1803.47" y="1063.93" width="14.77" height="14.78" fill="#d66f02"/>
<rect x="1817.63" y="1063.93" width="14.77" height="14.78" fill="#d77002"/>
<rect x="1831.8" y="1063.93" width="14.77" height="14.78" fill="#180c00"/>
<rect x="1845.97" y="1063.93" width="14.77" height="14.78" fill="#160b00"/>
<rect x="1860.13" y="1063.93" width="14.77" height="14.78" fill="#140a00"/>
<rect x="1874.3" y="1063.93" width="14.77" height="14.78" fill="#0e0700"/>
<rect x="1888.47" y="1063.93" width="14.77" height="14.78" fill="#100800"/>
<rect x="1902.63" y="1063.93" width="14.77" height="14.78" fill="#120900"/>
<rect x="1704.3" y="1078.11" width="14.77" height="14.78" fill="#0f0700"/>
<rect x="1718.47" y="1078.11" width="14.77" height="14.78" fill="#1a0d00"/>
<rect x="1732.63" y="1078.11" width="14.77" height="14.78" fill="#170c00"/>
<rect x="1746.8" y="1078.11" width="14.77" height="14.78" fill="#190d00"/>
<rect x="1760.97" y="1078.11" width="14.77" height="14.78" fill="#160b00"/>
<rect x="1775.13" y="1078.11" width="14.77" height="14.78" fill="#120900"/>
<rect x="1789.3" y="1078.11" width="14.77" height="14.78" fill="#d56f02"/>
<rect x="1803.47" y="1078.11" width="14.77" height="14.78" fill="#db7305"/>
<rect x="1817.63" y="1078.11" width="14.77" height="14.78" fill="#d76f02"/>
<rect x="1831.8" y="1078.11" width="14.77" height="14.78" fill="#150a00"/>
<rect x="1845.97" y="1078.11" width="14.77" height="14.78" fill="#140a00"/>
<rect x="1860.13" y="1078.11" width="14.77" height="14.78" fill="#140a00"/>
<rect x="1874.3" y="1078.11" width="14.77" height="14.78" fill="#0f0700"/>
<rect x="1888.47" y="1078.11" width="14.77" height="14.78" fill="#0f0700"/>
<rect x="1902.63" y="1078.11" width="14.77" height="14.78" fill="#140a00"/>
<rect x="1704.3" y="1092.29" width="14.77" height="14.78" fill="#0e0700"/>
<rect x="1718.47" y="1092.29" width="14.77" height="14.78" fill="#140a00"/>
<rect x="1732.63" y="1092.29" width="14.77" height="14.78" fill="#100800"/>
<rect x="1746.8" y="1092.29" width="14.77" height="14.78" fill="#110900"/>
<rect x="1760.97" y="1092.29" width="14.77" height="14.78" fill="#100800"/>
<rect x="1775.13" y="1092.29" width="14.77" height="14.78" fill="#150a00"/>
<rect x="1789.3" y="1092.29" width="14.77" height="14.78" fill="#d77003"/>
<rect x="1803.47" y="1092.29" width="14.77" height="14.78" fill="#d66f03"/>
<rect x="1817.63" y="1092.29" width="14.77" height="14.78" fill="#d77003"/>
<rect x="1831.8" y="1092.29" width="14.77" height="14.78" fill="#150a00"/>
<rect x="1845.97" y="1092.29" width="14.77" height="14.78" fill="#190c00"/>
<rect x="1860.13" y="1092.29" width="14.77" height="14.78" fill="#130a00"/>
<rect x="1874.3" y="1092.29" width="14.77" height="14.78" fill="#100800"/>
<rect x="1888.47" y="1092.29" width="14.77" height="14.78" fill="#120900"/>
<rect x="1902.63" y="1092.29" width="14.77" height="14.78" fill="#110800"/>
<rect x="1704.3" y="1106.47" width="14.77" height="14.78" fill="#150a00"/>
<rect x="1718.47" y="1106.47" width="14.77" height="14.78" fill="#170c00"/>
<rect x="1732.63" y="1106.47" width="14.77" height="14.78" fill="#150a00"/>
<rect x="1746.8" y="1106.47" width="14.77" height="14.78" fill="#100800"/>
<rect x="1760.97" y="1106.47" width="14.77" height="14.78" fill="#120900"/>
<rect x="1775.13" y="1106.47" width="14.77" height="14.78" fill="#130900"/>
<rect x="1789.3" y="1106.47" width="14.77" height="14.78" fill="#d67004"/>
<rect x="1803.47" y="1106.47" width="14.77" height="14.78" fill="#d77003"/>
<rect x="1817.63" y="1106.47" width="14.77" height="14.78" fill="#dc7406"/>
<rect x="1831.8" y="1106.47" width="14.77" height="14.78" fill="#150a00"/>
<rect x="1845.97" y="1106.47" width="14.77" height="14.78" fill="#160b00"/>
<rect x="1860.13" y="1106.47" width="14.77" height="14.78" fill="#170b00"/>
<rect x="1874.3" y="1106.47" width="14.77" height="14.78" fill="#160b00"/>
<rect x="1888.47" y="1106.47" width="14.77" height="14.78" fill="#180c00"/>
<rect x="1902.63" y="1106.47" width="14.77" height="14.78" fill="#120900"/>
<rect x="1704.3" y="1120.64" width="14.77" height="14.78" fill="#160b00"/>
<rect x="1718.47" y="1120.64" width="14.77" height="14.78" fill="#1a0d00"/>
<rect x="1732.63" y="1120.64" width="14.77" height="14.78" fill="#100800"/>
<rect x="1746.8" y="1120.64" width="14.77" height="14.78" fill="#160b00"/>
<rect x="1760.97" y="1120.64" width="14.77" height="14.78" fill="#130900"/>
<rect x="1775.13" y="1120.64" width="14.77" height="14.78" fill="#0f0700"/>
<rect x="1789.3" y="1120.64" width="14.77" height="14.78" fill="#0e0700"/>
<rect x="1803.47" y="1120.64" width="14.77" height="14.78" fill="#170c00"/>
<rect x="1817.63" y="1120.64" width="14.77" height="14.78" fill="#0f0800"/>
<rect x="1831.8" y="1120.64" width="14.77" height="14.78" fill="#170b00"/>
<rect x="1845.97" y="1120.64" width="14.77" height="14.78" fill="#0f0800"/>
<rect x="1860.13" y="1120.64" width="14.77" height="14.78" fill="#120900"/>
<rect x="1874.3" y="1120.64" width="14.77" height="14.78" fill="#0e0700"/>
<rect x="1888.47" y="1120.64" width="14.77" height="14.78" fill="#150a00"/>
<rect x="1902.63" y="1120.64" width="14.77" height="14.78" fill="#170c00"/>
<rect x="1704.3" y="1134.82" width="14.77" height="14.78" fill="#110800"/>
<rect x="1718.47" y="1134.82" width="14.77" height="14.78" fill="#150a00"/>
<rect x="1732.63" y="1134.82" width="14.77" height="14.78" fill="#190d00"/>
<rect x="1746.8" y="1134.82" width="14.77" height="14.78" fill="#120900"/>
<rect x="1760.97" y="1134.82" width="14.77" height="14.78" fill="#140a00"/>
<rect x="1775.13" y="1134.82" width="14.77" height="14.78" fill="#170b00"/>
<rect x="1789.3" y="1134.82" width="14.77" height="14.78" fill="#180c00"/>
<rect x="1803.47" y="1134.82" width="14.77" height="14.78" fill="#100800"/>
<rect x="1817.63" y="1134.82" width="14.77" height="14.78" fill="#160b00"/>
<rect x="1831.8" y="1134.82" width="14.77" height="14.78" fill="#0f0800"/>
<rect x="1845.97" y="1134.82" width="14.77" height="14.78" fill="#0f0800"/>
<rect x="1860.13" y="1134.82" width="14.77" height="14.78" fill="#1a0d00"/>
<rect x="1874.3" y="1134.82" width="14.77" height="14.78" fill="#0f0700"/>
<rect x="1888.47" y="1134.82" width="14.77" height="14.78" fill="#190d00"/>
<rect x="1902.63" y="1134.82" width="14.77" height="14.78" fill="#170c00"/>
</g>
<rect x="1185.2" y="1168.7" width="211.9" height="15.1" fill="url(#cbG)"/>
<text x="1185.2" y="1209.3" font-size="29.5" fill="#000" text-anchor="middle">0.0</text>
<text x="1291.15" y="1209.3" font-size="29.5" fill="#000" text-anchor="middle">0.5</text>
<text x="1397.1" y="1209.3" font-size="29.5" fill="#000" text-anchor="middle">1.0</text>
<rect x="1442.8" y="1169" width="214.1" height="14.6" fill="url(#cbR)"/>
<text x="1442.8" y="1209.3" font-size="29.5" fill="#000" text-anchor="middle">0.0</text>
<text x="1549.85" y="1209.3" font-size="29.5" fill="#000" text-anchor="middle">0.5</text>
<text x="1656.9" y="1209.3" font-size="29.5" fill="#000" text-anchor="middle">1.0</text>
<rect x="1704.8" y="1169" width="212" height="14.6" fill="url(#cbO)"/>
<text x="1704.8" y="1209.3" font-size="29.5" fill="#000" text-anchor="middle">0.0</text>
<text x="1810.8" y="1209.3" font-size="29.5" fill="#000" text-anchor="middle">0.5</text>
<text x="1916.8" y="1209.3" font-size="29.5" fill="#000" text-anchor="middle">1.0</text>
<text x="1280.8" y="1243" font-size="29" text-anchor="middle"><tspan font-style="italic">I</tspan><tspan font-size="20" dy="7.5">ds</tspan><tspan dy="-7.5"> (arb.units)</tspan></text>
<text x="1551.2" y="1243" font-size="29" text-anchor="middle"><tspan font-style="italic">I</tspan><tspan font-size="20" dy="7.5">ds</tspan><tspan dy="-7.5"> (arb.units)</tspan></text>
<text x="1812.8" y="1243" font-size="29" text-anchor="middle"><tspan font-style="italic">I</tspan><tspan font-size="20" dy="7.5">ds</tspan><tspan dy="-7.5"> (arb.units)</tspan></text>
</svg>
</body></html>
